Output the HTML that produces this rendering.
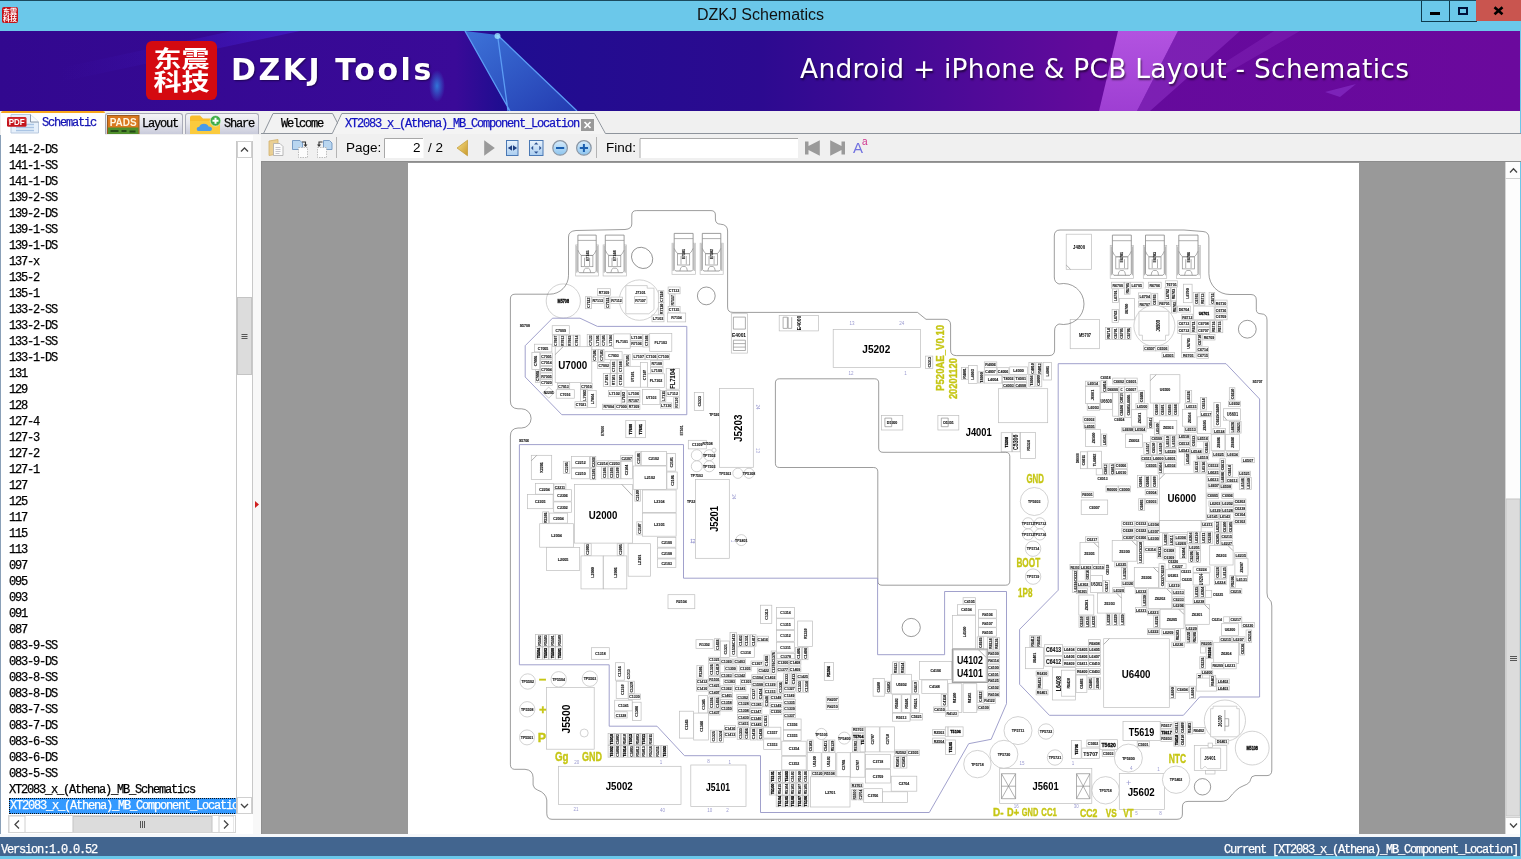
<!DOCTYPE html>
<html lang="en">
<head>
<meta charset="utf-8">
<title>DZKJ Schematics</title>
<style>
*{box-sizing:border-box;margin:0;padding:0}
html,body{width:1521px;height:859px;overflow:hidden;background:#6bc8ea;font-family:"Liberation Sans","Noto Sans CJK SC",sans-serif}
.abs{position:absolute}
#win{will-change:transform;position:absolute;left:0;top:0;width:1521px;height:859px;background:#6bc8ea;overflow:hidden}
#topline{left:0;top:0;width:1521px;height:1px;background:#1b4a5e}
#title{left:0;top:5px;width:1521px;text-align:center;font-size:16px;line-height:20px;color:#111}
#appicon{left:2px;top:7px;width:16px;height:16px;background:#c4141a;border-radius:2px;color:#fff;font-size:7px;line-height:7px;font-weight:bold;text-align:center;padding-top:1px;font-family:"Noto Sans CJK SC",sans-serif;overflow:hidden}
.wb{top:1px;height:21px;border:1px solid #0d3a4d;border-top:none}
#bmin{left:1421px;width:29px}
#bmax{left:1449px;width:28px}
#bclose{left:1476px;width:45px;background:#c9554f;border:none;height:21px}
#banner{left:0;top:31px;width:1520px;height:80px;background:linear-gradient(90deg,#31088f 0%,#330a92 28%,#3a0c96 40%,#4f0b9a 50%,#640a9c 62%,#6b099d 100%);overflow:hidden}
#logo{left:146px;top:9.500px;width:71px;height:59px;background:#d40a10;border-radius:6px;color:#fff;font-family:"Noto Sans CJK SC",sans-serif;font-weight:bold;font-size:28px;line-height:29px;text-align:center;overflow:hidden}
#logo span{display:block;transform:scale(1,.8);transform-origin:50% 0;margin-top:5px}
#brand{left:231px;top:18.500px;font-size:30px;font-weight:bold;color:#fff;line-height:40px;letter-spacing:2.550px;font-family:"DejaVu Sans","Liberation Sans",sans-serif;text-shadow:1px 1px 2px rgba(0,0,0,.45);white-space:nowrap}
#slogan{left:800px;top:19.500px;letter-spacing:.25px;font-size:26.500px;color:#fff;line-height:36px;font-family:"DejaVu Sans","Liberation Sans",sans-serif;text-shadow:1px 2px 2px rgba(0,0,0,.55);white-space:nowrap}
#body{left:0;top:111px;width:1520px;height:726px;background:#f0f0f0}
.song{font-family:"Liberation Mono","Noto Sans CJK SC",monospace;font-size:12px;letter-spacing:-1.2px;white-space:pre;-webkit-text-stroke:.25px currentColor}
/* left tabs */
.ltab{top:2px;height:21px;border:1px solid #a9abb8;border-bottom:none;border-radius:3px 3px 0 0;background:linear-gradient(#f4f4f6 0%,#e6e7ee 45%,#c9cbdb 100%)}
.ltab .song{position:absolute;top:4px;color:#000;line-height:14px}
#lt1{left:1px;top:0;width:104px;height:24px;background:#fff;border:none;border-top:2px solid #f7a51c;border-radius:2px 2px 0 0}
#lt2{left:105px;width:78px}
#lt3{left:185px;width:74px}
#leftpane{left:0;top:24px;width:261px;height:699px;background:#fff;border-left:1px solid #8aa0b8}
#list{left:3px;top:7px;width:233px;height:683px;overflow:hidden}
#list div{height:16px;line-height:16px;padding-left:5px;color:#000;font-family:"Liberation Mono","Noto Sans CJK SC",monospace;font-size:12px;letter-spacing:-1.2px;white-space:pre;-webkit-text-stroke:.25px currentColor}
#list div.sel{background:#3399ff;color:#fff;outline:1px dotted #111;outline-offset:-1px;margin-left:5px;padding-left:1px;width:228px;overflow:hidden}
#vsb{left:236px;top:30px;width:17px;height:673px;background:#fff;border-left:1px solid #c8c8c8;border-right:1px solid #c8c8c8}
#vsb .btn,#rsb .btn{position:absolute;left:0;width:15px;height:17px;background:#fff;border:1px solid #d0d0d0}
#hsb{left:8px;top:704px;width:228px;height:18px;overflow:hidden;background:#fff;border:1px solid #d4d4d4}
#split{left:253px;top:24px;width:9px;height:700px;background:#f8f8f8;border-right:1px solid #8e8e8e}
/* doc tabs */
#doctabs{left:261px;top:0;width:1260px;height:24px}
#toolbar{left:261px;top:23px;width:1260px;height:28px;background:#f0f0f0}
#toolbar .lbl{position:absolute;top:6px;font-size:13.5px;line-height:16px;color:#000}
#viewer{left:262px;top:51px;width:1243px;height:672px;background:#999}
#page{left:146px;top:1px;width:951px;height:671px;background:#fff}
#rsb{left:1505px;top:51px;width:15px;height:672px;background:#f0f0f0}
#status{left:0;top:837px;width:1520px;height:19px;background:#42658f;color:#fff}
#strip{left:0;top:834px;width:1520px;height:3px;background:#f6f8fb}
#status .song{position:absolute;top:6px;line-height:14px;color:#fff}
</style>
</head>
<body>
<div id="win">
<div id="topline" class="abs"></div>
<div id="appicon" class="abs">东震<br>科技</div>
<div id="title" class="abs">DZKJ Schematics</div>
<div id="bmin" class="abs wb"><svg width="27" height="20"><rect x="8" y="11" width="10" height="3" fill="#000"/></svg></div>
<div id="bmax" class="abs wb"><svg width="26" height="20"><rect x="9" y="7" width="8" height="6" fill="none" stroke="#00113a" stroke-width="2"/></svg></div>
<div id="bclose" class="abs"><svg width="45" height="21"><path d="M18.500 7.200 L26.500 14.200 M26.500 7.200 L18.500 14.200" stroke="#000" stroke-width="2.6"/></svg></div>

<div id="banner" class="abs">
<svg class="abs" style="left:0;top:0" width="1520" height="80" viewBox="0 31 1520 80">
<defs>
<linearGradient id="bg0" x1="0" y1="0" x2="1" y2="0"><stop offset="0" stop-color="#32088f"/><stop offset=".3" stop-color="#3a0a98"/><stop offset=".33" stop-color="#1f0d90"/><stop offset=".5" stop-color="#2c0a90"/><stop offset=".62" stop-color="#4a0a97"/><stop offset=".72" stop-color="#640a9c"/><stop offset="1" stop-color="#6b099d"/></linearGradient>
<linearGradient id="tri" x1="0" y1="0" x2="1" y2="1"><stop offset="0" stop-color="#3f7fe0"/><stop offset="1" stop-color="#2440b4"/></linearGradient>
<linearGradient id="pk" x1="0" y1="0" x2="0" y2="1"><stop offset="0" stop-color="#c060ec"/><stop offset="1" stop-color="#a848dc"/></linearGradient>
<linearGradient id="band" x1="0" y1="0" x2="1" y2="0"><stop offset="0" stop-color="#4420d8" stop-opacity="0"/><stop offset=".35" stop-color="#4420d8" stop-opacity=".12"/><stop offset="1" stop-color="#4a24e0" stop-opacity=".5"/></linearGradient>
<radialGradient id="glow"><stop offset="0" stop-color="#2f8fe8" stop-opacity=".8"/><stop offset="1" stop-color="#2f8fe8" stop-opacity="0"/></radialGradient>
</defs>
<rect x="0" y="31" width="1520" height="80" fill="url(#bg0)"/>
<polygon points="232,31 300,31 60,82 60,68" fill="url(#band)"/>
<polygon points="465,31 498,35 577,111 510,111" fill="url(#tri)" opacity=".9"/>
<path d="M465 31 L510 111 M497.500 35 L508 111 M497.500 35 L577 111" stroke="#5c9cf4" stroke-width="1.300" fill="none"/>
<circle cx="497.500" cy="36" r="3" fill="#9fe8ff" opacity=".8"/>
<ellipse cx="437" cy="86" rx="8" ry="16" fill="url(#glow)"/>
<polygon points="1118,31 1178,31 1137,111 1099,111" fill="url(#pk)" opacity=".85"/>
<polygon points="1178,31 1240,31 1150,111 1137,111" fill="#9a3cd0" opacity=".45"/>
<polygon points="1274,31 1300,31 1215,80 1205,75" fill="#8c30c4" opacity=".35"/>
<polygon points="1325,92 1356,84 1340,97" fill="#8a34cc" opacity=".6"/>
</svg>
<div id="logo" class="abs"><span>东震<br>科技</span></div>
<div id="brand" class="abs">DZKJ Tools</div>
<div id="slogan" class="abs">Android + iPhone &amp; PCB Layout - Schematics</div>
</div>

<div id="body" class="abs">
<!--LEFTTABS-->
<div id="lt1" class="abs ltab"><svg class="abs" style="left:5px;top:0" width="36" height="22" viewBox="6 113 36 22">
<path d="M11 114.500 H30.500 L38.500 122 V133 H11 Z" fill="#e6f0fb" stroke="#b9c9de" stroke-width="1"/>
<path d="M30.500 114.500 V122 H38.500" fill="#f7fbff" stroke="#6d7f96" stroke-width=".8"/>
<path d="M16 124.500 H34 M16 127.500 H34 M16 130.500 H34" stroke="#a9c4e4" stroke-width="1.500"/>
<rect x="7" y="117" width="19.500" height="9.800" rx="1.500" fill="#c4141c"/>
<rect x="7.500" y="117.400" width="18.500" height="4" rx="1.200" fill="#e0434a" opacity=".55"/>
<text x="16.700" y="125.200" font-family="Liberation Sans,sans-serif" font-weight="bold" font-size="8.200" fill="#fff" text-anchor="middle" textLength="16" lengthAdjust="spacingAndGlyphs">PDF</text>
</svg><span class="song" style="left:41px;top:3px;color:#1414b4">Schematic</span></div>
<div id="lt2" class="abs ltab"><svg class="abs" style="left:1px;top:1px" width="33" height="19" viewBox="106.500 114.500 33 19">
<rect x="107" y="115" width="31.500" height="19" fill="#d9781f" stroke="#9c5a1c" stroke-width="1"/>
<rect x="107.500" y="127" width="30.500" height="7" fill="#4f8f2c"/>
<path d="M110 130.500 H118 M121 130.500 H126 M129 131 H135" stroke="#254b16" stroke-width="2"/>
<text x="122.700" y="125.600" font-family="Liberation Sans,sans-serif" font-weight="bold" font-size="10.500" fill="#fff6e0" text-anchor="middle" textLength="27" lengthAdjust="spacingAndGlyphs">PADS</text>
</svg><span class="song" style="left:36px;top:3px">Layout</span></div>
<div id="lt3" class="abs ltab"><svg class="abs" style="left:3px;top:0" width="34" height="20" viewBox="189 114 34 20">
<path d="M190 117.500 Q190 115.500 192 115.500 H200 L203 118.500 H218 Q220 118.500 220 120.500 V134 H190 Z" fill="#f8bd2c"/>
<path d="M190 121 H220 V134 H190 Z" fill="#fbcb3e"/>
<path d="M198.500 131 Q196.500 131 196.700 128.800 Q197 126.800 199.300 126.800 Q200.300 123.800 204 123.800 Q207.500 123.800 208.500 126.500 Q212 126.500 212 129 Q212 131 209.800 131 Z" fill="#4a9be8"/>
<circle cx="215.500" cy="120.800" r="5.300" fill="#3fae49" stroke="#e9f7e9" stroke-width=".6"/>
<path d="M212.500 120.800 H218.500 M215.500 117.800 V123.800" stroke="#fff" stroke-width="2"/>
</svg><span class="song" style="left:38px;top:3px">Share</span></div>
<div id="leftpane" class="abs">
<div id="list" class="abs"><div>141-2-DS</div><div>141-1-SS</div><div>141-1-DS</div><div>139-2-SS</div><div>139-2-DS</div><div>139-1-SS</div><div>139-1-DS</div><div>137-x</div><div>135-2</div><div>135-1</div><div>133-2-SS</div><div>133-2-DS</div><div>133-1-SS</div><div>133-1-DS</div><div>131</div><div>129</div><div>128</div><div>127-4</div><div>127-3</div><div>127-2</div><div>127-1</div><div>127</div><div>125</div><div>117</div><div>115</div><div>113</div><div>097</div><div>095</div><div>093</div><div>091</div><div>087</div><div>083-9-SS</div><div>083-9-DS</div><div>083-8-SS</div><div>083-8-DS</div><div>083-7-SS</div><div>083-7-DS</div><div>083-6-SS</div><div>083-6-DS</div><div>083-5-SS</div><div>XT2083_x_(Athena)_MB_Schematics</div><div class="sel">XT2083_x_(Athena)_MB_Component_Location</div></div>
</div>
<div id="split" class="abs"><svg class="abs" style="left:1px;top:365px" width="6" height="10"><path d="M1 1 L5 4.5 L1 8 Z" fill="#d02020"/></svg></div>
<div id="vsb" class="abs">
<div class="btn" style="top:0"><svg width="13" height="15"><path d="M3 9.5 L6.5 6 L10 9.5" fill="none" stroke="#444" stroke-width="1.3"/></svg></div>
<div class="abs" style="left:0;top:156px;width:15px;height:78px;background:#dcdcdc;border:1px solid #c4c4c4"><svg width="13" height="76"><path d="M3.5 36.5h6M3.5 38.5h6M3.5 40.5h6" stroke="#555" stroke-width="1"/></svg></div>
<div class="btn" style="top:656px"><svg width="13" height="15"><path d="M3 6 L6.5 9.5 L10 6" fill="none" stroke="#444" stroke-width="1.3"/></svg></div>
</div>
<div id="hsb" class="abs">
<svg width="225" height="17"><rect x="0" y="0" width="16" height="17" fill="#fff" stroke="#d0d0d0"/><path d="M10 4.5 L6 8.5 L10 12.5" fill="none" stroke="#444" stroke-width="1.3"/><rect x="64" y="0.5" width="139" height="16" fill="#dcdcdc" stroke="#c4c4c4"/><path d="M131.5 5v7M133.5 5v7M135.5 5v7" stroke="#555"/><rect x="210" y="0" width="15" height="17" fill="#fff" stroke="#d0d0d0"/><path d="M215 4.5 L219 8.5 L215 12.5" fill="none" stroke="#444" stroke-width="1.3"/></svg>
</div>

<div id="doctabs" class="abs">
<svg width="1260" height="24" viewBox="0 0 1260 24">
<path d="M2.500 22.500 L12 2.500 L71.600 2.500 L82 22.500" fill="#f2f2f2" stroke="#8e949c" stroke-width="1"/>
<path d="M0 22.500 L71.300 22.500 L80.800 2.500 L333.400 2.500 L344.400 22.500 L1260 22.500" fill="none" stroke="#8e949c" stroke-width="1"/>
<path d="M71.800 23.500 L81.300 3 L333 3 L344 23.500 Z" fill="#f4f4f4"/>
<rect x="320" y="8" width="13" height="12" fill="#999"/>
<path d="M323.500 11 L329.500 17 M329.500 11 L323.500 17" stroke="#fff" stroke-width="1.7"/>
</svg>
<span class="song abs" style="left:20px;top:6px;line-height:14px;color:#000">Welcome</span>
<span class="song abs" style="left:84px;top:6px;line-height:14px;color:#1212c0">XT2083_x_(Athena)_MB_Component_Location</span>
</div>
<div id="toolbar" class="abs">
<svg class="abs" style="left:0;top:0" width="1260" height="28" viewBox="261 134 1260 28">
<defs>
<linearGradient id="gold" x1="0" y1="0" x2="1" y2="1"><stop offset="0" stop-color="#f7e08a"/><stop offset="1" stop-color="#c9992a"/></linearGradient>
<linearGradient id="lb" x1="0" y1="0" x2="0" y2="1"><stop offset="0" stop-color="#eaf3fc"/><stop offset="1" stop-color="#a9cdf0"/></linearGradient>
<linearGradient id="lb2" x1="0" y1="0" x2="0" y2="1"><stop offset="0" stop-color="#d8ecfb"/><stop offset="1" stop-color="#8cc4ee"/></linearGradient>
</defs>
<!-- copy icon -->
<path d="M269 141 L278 139.500 L278 154 L269 155.500 Z" fill="#e9cf94" stroke="#d2b06a" stroke-width=".8"/>
<path d="M273.500 143.500 H280 L283 146.500 V155.500 H273.500 Z" fill="#fbfbfb" stroke="#a9a9a9" stroke-width=".8"/>
<path d="M275.500 147.500h5M275.500 149.500h5M275.500 151.500h5M275.500 153.500h4" stroke="#b8b8c0" stroke-width=".8"/>
<!-- rotate cw -->
<path d="M292.500 140.500 H300 L302.500 143 V149.500 H292.500 Z" fill="#b9d6f0" stroke="#6f95c0" stroke-width=".9"/>
<path d="M298.500 147.500 H307.500 V157.500 H298.500 Z" fill="#fcfcfc" stroke="#b0b0b0" stroke-width=".8" stroke-dasharray="1.5 1"/>
<path d="M302 142 H305.500 V145" fill="none" stroke="#333" stroke-width="1.1"/><path d="M303.500 144.500 L305.500 147 L307.500 144.500 Z" fill="#333"/>
<!-- rotate ccw -->
<path d="M323.500 140.500 H329.500 L332 143 V149.500 H323.500 Z" fill="#b9d6f0" stroke="#6f95c0" stroke-width=".9"/>
<path d="M317.500 147.500 H326.500 V157.500 H317.500 Z" fill="#fcfcfc" stroke="#b0b0b0" stroke-width=".8" stroke-dasharray="1.500 1"/>
<path d="M322.500 142 H319 V145" fill="none" stroke="#333" stroke-width="1.1"/><path d="M317 144.500 L319 147 L321 144.500 Z" fill="#333"/>
<path d="M336.500 137 V158" stroke="#b4b4b4"/>
<!-- page input -->
<rect x="384" y="138" width="39.500" height="20" fill="#fff"/>
<path d="M384.500 158 V138.500 H423" fill="none" stroke="#a8a8a8"/>
<!-- arrows -->
<path d="M457 148 L467.500 140.200 V155.800 Z" fill="url(#gold)" stroke="#c09a34" stroke-width=".7"/>
<path d="M494.800 148 L484.200 140.200 V155.800 Z" fill="#9a9a9a"/>
<!-- fit width -->
<rect x="506.500" y="140.500" width="11.500" height="15" fill="url(#lb)" stroke="#4a78b4"/>
<path d="M507.900 148 L512 145.200 V150.800 Z M517.100 148 L513 145.200 V150.800 Z" fill="#1f3f80"/>
<!-- fit page -->
<rect x="529.500" y="140.500" width="13.500" height="15" fill="url(#lb)" stroke="#4a78b4"/>
<path d="M536.200 142.300 L538.400 144.500 H534 Z M536.200 153.700 L538.400 151.500 H534 Z M531 148 L533.200 145.800 V150.200 Z M541.500 148 L539.300 145.800 V150.200 Z" fill="#2c5292"/>
<!-- zoom out / in -->
<circle cx="560.100" cy="147.900" r="7.300" fill="url(#lb2)" stroke="#8a96a4" stroke-width="1.200"/>
<path d="M556 148 H564.200" stroke="#1a5fb0" stroke-width="2"/>
<circle cx="583.900" cy="147.900" r="7.300" fill="url(#lb2)" stroke="#8a96a4" stroke-width="1.200"/>
<path d="M579.800 148 H588 M583.900 143.900 V152.100" stroke="#1a5fb0" stroke-width="2"/>
<path d="M596.500 137 V158" stroke="#b4b4b4"/>
<!-- find input -->
<rect x="639.500" y="138" width="158.500" height="20" fill="#fff"/>
<path d="M640 158 V138.500 H798" fill="none" stroke="#a8a8a8"/>
<!-- find prev/next -->
<path d="M805 141.500 H808.500 V146 L819.800 140.200 V155.800 L808.500 150 V154.500 H805 Z" fill="#9a9a9a"/>
<path d="M845 141.500 H841.500 V146 L830.200 140.200 V155.800 L841.500 150 V154.500 H845 Z" fill="#9a9a9a"/>
<rect x="261" y="161" width="1260" height="1" fill="#8c8c8c"/>
</svg>
<span class="lbl" style="left:85px">Page:</span>
<span class="lbl" style="left:152px">2</span>
<span class="lbl" style="left:167px">/ 2</span>
<span class="lbl" style="left:345px">Find:</span>
<span class="abs" style="left:592px;top:6px;font-size:15px;line-height:16px;color:#7272e0">A</span><span class="abs" style="left:601px;top:2px;font-size:10px;line-height:12px;color:#d0308c">a</span>

</div>
<div id="viewer" class="abs">
<div id="page" class="abs">
<svg class="abs" style="left:0;top:0" width="951" height="671" viewBox="408 163 951 671">
<style>
.c{fill:#fff;stroke:#bebebe;stroke-width:.7}
.d{fill:none;stroke:#8e8e8e;stroke-width:.7}
.d2{fill:#fff;stroke:#858585;stroke-width:.8}
.o{fill:none;stroke:#555;stroke-width:.6}
.bd{fill:none;stroke:#5a5a5a;stroke-width:.6}
.sh{fill:none;stroke:#9696c6;stroke-width:.9}
.dd{fill:none;stroke:#a2a2a2;stroke-width:1.2}
.l{font-family:"Liberation Sans",sans-serif;fill:#111;text-anchor:middle;font-weight:bold;stroke:#222;stroke-width:.12}
.b{font-weight:bold;fill:#000;stroke:#000;stroke-width:.3}
.B{font-family:"Liberation Sans",sans-serif;font-weight:bold;fill:#000;text-anchor:middle}
.Y{font-family:"Liberation Sans",sans-serif;font-weight:bold;fill:#c6c614;stroke:#c6c614;stroke-width:.35;text-anchor:middle}
.n{font-family:"Liberation Sans",sans-serif;fill:#9a9ad0;text-anchor:middle}
</style>
<rect class="c" x="575.7" y="244.9" width="22.9" height="31.1"/>
<path class="d" d="M576.8 245.6 V272.7 M597.3 245.6 V272.7"/>
<path class="d2" d="M577.9 235.1 H596.2 V271.2 L594.7 272.7 H579.4 L577.9 271.2 Z"/>
<path class="d" d="M577.9 240.4 H596.2"/>
<path class="d" d="M577.9 250.2 Q579.7 254.7 581.5 255.4 H592.5 Q594.4 254.7 596.2 250.2"/>
<rect class="d" x="581.2" y="255.4" width="11.7" height="11.3"/>
<path class="d" d="M584.5 257.7 V266 M589.6 257.7 V266"/>
<path class="d" d="M583.4 272.7 Q583.7 268.6 585.6 268.2 H588.5 Q590.3 268.6 590.7 272.7"/>
<text class="l" x="587" y="257.4" font-size="4.4" transform="rotate(-90 587 255.8)" textLength="10.5" lengthAdjust="spacingAndGlyphs">E7103</text>
<rect class="c" x="603.1" y="244.9" width="23.4" height="31.1"/>
<path class="d" d="M604.2 245.6 V272.7 M625.2 245.6 V272.7"/>
<path class="d2" d="M605.3 235.1 H624.1 V271.2 L622.6 272.7 H606.8 L605.3 271.2 Z"/>
<path class="d" d="M605.3 240.4 H624.1"/>
<path class="d" d="M605.3 250.2 Q607.1 254.7 609 255.4 H620.3 Q622.2 254.7 624.1 250.2"/>
<rect class="d" x="608.7" y="255.4" width="12.1" height="11.3"/>
<path class="d" d="M612 257.7 V266 M617.3 257.7 V266"/>
<path class="d" d="M610.9 272.7 Q611.3 268.6 613.2 268.2 H616.2 Q618.1 268.6 618.4 272.7"/>
<text class="l" x="614.7" y="257.4" font-size="4.4" transform="rotate(-90 614.7 255.8)" textLength="10.5" lengthAdjust="spacingAndGlyphs">E7104</text>
<rect class="c" x="672" y="243.2" width="23.4" height="31.1"/>
<path class="d" d="M673.1 243.9 V271 M694.2 243.9 V271"/>
<path class="d2" d="M674.2 233.4 H693.1 V269.5 L691.6 271 H675.7 L674.2 269.5 Z"/>
<path class="d" d="M674.2 238.6 H693.1"/>
<path class="d" d="M674.2 248.4 Q676.1 253 678 253.7 H689.3 Q691.2 253 693.1 248.4"/>
<rect class="d" x="677.6" y="253.7" width="12.1" height="11.3"/>
<path class="d" d="M681 256 V264.3 M686.3 256 V264.3"/>
<path class="d" d="M679.9 271 Q680.3 266.9 682.2 266.5 H685.2 Q687 266.9 687.4 271"/>
<text class="l" x="683.7" y="255.7" font-size="4.4" transform="rotate(-90 683.7 254.1)" textLength="10.5" lengthAdjust="spacingAndGlyphs">E7101</text>
<rect class="c" x="700.1" y="243.2" width="23.1" height="31.1"/>
<path class="d" d="M701.2 243.9 V271 M721.9 243.9 V271"/>
<path class="d2" d="M702.3 233.4 H720.8 V269.5 L719.3 271 H703.8 L702.3 269.5 Z"/>
<path class="d" d="M702.3 238.6 H720.8"/>
<path class="d" d="M702.3 248.4 Q704.2 253 706 253.7 H717.1 Q719 253 720.8 248.4"/>
<rect class="d" x="705.6" y="253.7" width="11.8" height="11.3"/>
<path class="d" d="M709 256 V264.3 M714.1 256 V264.3"/>
<path class="d" d="M707.9 271 Q708.2 266.9 710.1 266.5 H713 Q714.9 266.9 715.3 271"/>
<text class="l" x="711.6" y="255.7" font-size="4.4" transform="rotate(-90 711.6 254.1)" textLength="10.5" lengthAdjust="spacingAndGlyphs">E7102</text>
<ellipse class="o" cx="642.1" cy="257.9" rx="11.3" ry="9.9" transform="rotate(45 642.1 257.9)"/>
<circle class="o" cx="706.3" cy="295.9" r="8.9"/>
<circle class="c" cx="563.3" cy="301" r="17.1"/>
<text class="l b" x="563.3" y="302.7" font-size="4.8" textLength="11.5" lengthAdjust="spacingAndGlyphs">M5708</text>
<circle class="c" cx="639.5" cy="300.1" r="20.2"/>
<path class="c" d="M625.8 285.6 L647.2 285.6 L647.2 288.2 L654 288.2 L654 309.5 L648.9 313.8 L625.8 313.8 L625.8 285.6"/>
<text class="l" x="640.4" y="294" font-size="4.4" textLength="10.5" lengthAdjust="spacingAndGlyphs">J7101</text>
<rect class="c" x="634.4" y="296.7" width="12.5" height="6.8"/>
<text class="l" x="640.6" y="301.7" font-size="4.4" textLength="10.5" lengthAdjust="spacingAndGlyphs">R7107</text>
<rect class="c" x="597.6" y="288.7" width="12.8" height="6.8"/>
<text class="l" x="604" y="293.7" font-size="4.4" textLength="10.5" lengthAdjust="spacingAndGlyphs">R7109</text>
<rect class="c" x="585.6" y="296.7" width="6" height="12"/>
<text class="l" x="588.6" y="304.3" font-size="4.4" transform="rotate(-90 588.6 302.7)" textLength="10.5" lengthAdjust="spacingAndGlyphs">C7112</text>
<rect class="c" x="591.9" y="297.1" width="11.6" height="6.5"/>
<text class="l" x="597.7" y="301.9" font-size="4.4" textLength="10.5" lengthAdjust="spacingAndGlyphs">R7113</text>
<rect class="c" x="604.8" y="296.7" width="5.1" height="12"/>
<text class="l" x="607.3" y="304.3" font-size="4.4" transform="rotate(-90 607.3 302.7)" textLength="10.5" lengthAdjust="spacingAndGlyphs">C7111</text>
<rect class="c" x="610.9" y="297.1" width="11.5" height="6.5"/>
<text class="l" x="616.6" y="301.9" font-size="4.4" textLength="10.5" lengthAdjust="spacingAndGlyphs">R7112</text>
<rect class="c" x="658.3" y="290.7" width="5.6" height="12"/>
<text class="l" x="661.2" y="298.3" font-size="4.4" transform="rotate(-90 661.2 296.7)" textLength="10.5" lengthAdjust="spacingAndGlyphs">C7110</text>
<rect class="c" x="658.3" y="302.7" width="5.6" height="12.3"/>
<text class="l" x="661.2" y="310.4" font-size="4.4" transform="rotate(-90 661.2 308.9)" textLength="10.5" lengthAdjust="spacingAndGlyphs">R7110</text>
<rect class="c" x="668.1" y="287" width="12" height="6.8"/>
<text class="l" x="674.1" y="292" font-size="4.4" textLength="10.5" lengthAdjust="spacingAndGlyphs">C7113</text>
<rect class="c" x="669.5" y="294.1" width="5.5" height="12.3"/>
<text class="l" x="672.2" y="301.9" font-size="4.4" transform="rotate(-90 672.2 300.3)" textLength="10.5" lengthAdjust="spacingAndGlyphs">R7117</text>
<rect class="c" x="668.1" y="306.5" width="12" height="6.5"/>
<text class="l" x="674.1" y="311.3" font-size="4.4" textLength="10.5" lengthAdjust="spacingAndGlyphs">C7115</text>
<rect class="c" x="652" y="315" width="12" height="6.8"/>
<text class="l" x="658" y="320" font-size="4.4" textLength="10.5" lengthAdjust="spacingAndGlyphs">L7103</text>
<rect class="c" x="667.4" y="313" width="18.3" height="8.9"/>
<text class="l" x="676.6" y="319" font-size="4.4" textLength="10.5" lengthAdjust="spacingAndGlyphs">R7104</text>
<text class="l" x="524.8" y="327" font-size="4.3" textLength="10.1" lengthAdjust="spacingAndGlyphs">S5708</text>
<rect class="c" x="779.2" y="315.5" width="39.4" height="15.4"/>
<path class="d" d="M783.1 317.2 L783.1 328.4 L787.4 328.4 L787.4 317.2 L783.1 317.2"/>
<path class="d" d="M788.2 317.2 L788.2 328.4 L791.7 328.4 L791.7 317.2"/>
<text class="B" x="798.5" y="325.1" font-size="6.1" transform="rotate(-90 798.5 322.9)" textLength="14.5" lengthAdjust="spacingAndGlyphs">E4000</text>
<text class="n" x="851.9" y="324.5" font-size="4.5">13</text>
<text class="n" x="901.7" y="324.9" font-size="4.5">24</text>
<rect class="c" x="1066.2" y="234.2" width="25.3" height="35.1"/>
<path class="d" d="M1066.2 265 L1070.5 269.3"/>
<text class="B" x="1079.1" y="248.9" font-size="5.1" textLength="12.1" lengthAdjust="spacingAndGlyphs">J4800</text>
<rect class="c" x="1110.2" y="245.5" width="23.4" height="33"/>
<path class="d" d="M1111.3 246.4 V275.3 M1132.4 246.4 V275.3"/>
<path class="d2" d="M1112.4 235.1 H1131.3 V273.8 L1129.8 275.3 H1113.9 L1112.4 273.8 Z"/>
<path class="d" d="M1112.4 240.7 H1131.3"/>
<path class="d" d="M1112.4 251.2 Q1114.3 256 1116.2 256.8 H1127.5 Q1129.4 256 1131.3 251.2"/>
<rect class="d" x="1115.8" y="256.8" width="12.1" height="12.1"/>
<path class="d" d="M1119.2 259.2 V268.1 M1124.5 259.2 V268.1"/>
<path class="d" d="M1118.1 275.3 Q1118.5 270.9 1120.3 270.5 H1123.3 Q1125.2 270.9 1125.6 275.3"/>
<text class="l" x="1121.8" y="258.8" font-size="4.4" transform="rotate(-90 1121.8 257.2)" textLength="10.5" lengthAdjust="spacingAndGlyphs">E6701</text>
<rect class="c" x="1143.3" y="245.5" width="23.4" height="33"/>
<path class="d" d="M1144.4 246.4 V275.3 M1165.4 246.4 V275.3"/>
<path class="d2" d="M1145.5 235.1 H1164.3 V273.8 L1162.8 275.3 H1147 L1145.5 273.8 Z"/>
<path class="d" d="M1145.5 240.7 H1164.3"/>
<path class="d" d="M1145.5 251.2 Q1147.3 256 1149.2 256.8 H1160.5 Q1162.4 256 1164.3 251.2"/>
<rect class="d" x="1148.9" y="256.8" width="12.1" height="12.1"/>
<path class="d" d="M1152.2 259.2 V268.1 M1157.5 259.2 V268.1"/>
<path class="d" d="M1151.1 275.3 Q1151.5 270.9 1153.4 270.5 H1156.4 Q1158.3 270.9 1158.6 275.3"/>
<text class="l" x="1154.9" y="258.8" font-size="4.4" transform="rotate(-90 1154.9 257.2)" textLength="10.5" lengthAdjust="spacingAndGlyphs">E6703</text>
<rect class="c" x="1176.6" y="245.5" width="23.8" height="33"/>
<path class="d" d="M1177.7 246.4 V275.3 M1199.1 246.4 V275.3"/>
<path class="d2" d="M1178.8 235.1 H1198 V273.8 L1196.5 275.3 H1180.3 L1178.8 273.8 Z"/>
<path class="d" d="M1178.8 240.7 H1198"/>
<path class="d" d="M1178.8 251.2 Q1180.8 256 1182.7 256.8 H1194.2 Q1196.1 256 1198 251.2"/>
<rect class="d" x="1182.3" y="256.8" width="12.3" height="12.1"/>
<path class="d" d="M1185.7 259.2 V268.1 M1191.1 259.2 V268.1"/>
<path class="d" d="M1184.6 275.3 Q1185 270.9 1186.9 270.5 H1190 Q1191.9 270.9 1192.3 275.3"/>
<text class="l" x="1188.4" y="258.8" font-size="4.4" transform="rotate(-90 1188.4 257.2)" textLength="10.5" lengthAdjust="spacingAndGlyphs">E6706</text>
<rect class="c" x="1111.6" y="282.2" width="12.3" height="6"/>
<text class="l" x="1117.7" y="286.7" font-size="4.4" textLength="10.5" lengthAdjust="spacingAndGlyphs">R6700</text>
<rect class="c" x="1124.4" y="282.2" width="5.6" height="12"/>
<text class="l" x="1127.2" y="289.7" font-size="4.4" transform="rotate(-90 1127.2 288.2)" textLength="10.5" lengthAdjust="spacingAndGlyphs">R6705</text>
<rect class="c" x="1130.4" y="282.2" width="12.8" height="6"/>
<text class="l" x="1136.8" y="286.7" font-size="4.4" textLength="10.5" lengthAdjust="spacingAndGlyphs">L6705</text>
<rect class="c" x="1148.4" y="282.2" width="12.8" height="6"/>
<text class="l" x="1154.8" y="286.7" font-size="4.4" textLength="10.5" lengthAdjust="spacingAndGlyphs">R6706</text>
<rect class="c" x="1165.5" y="280.8" width="12" height="6.2"/>
<text class="l" x="1171.5" y="285.5" font-size="4.4" textLength="10.5" lengthAdjust="spacingAndGlyphs">T6701</text>
<rect class="c" x="1112.4" y="289" width="6" height="13.4"/>
<text class="l" x="1115.4" y="297.3" font-size="4.4" transform="rotate(-90 1115.4 295.7)" textLength="10.5" lengthAdjust="spacingAndGlyphs">L6701</text>
<rect class="c" x="1138.4" y="292.9" width="12.5" height="6"/>
<text class="l" x="1144.7" y="297.5" font-size="4.4" textLength="10.5" lengthAdjust="spacingAndGlyphs">L6704</text>
<rect class="c" x="1151.8" y="293.3" width="6" height="12.8"/>
<text class="l" x="1154.8" y="301.3" font-size="4.4" transform="rotate(-90 1154.8 299.7)" textLength="10.5" lengthAdjust="spacingAndGlyphs">C6703</text>
<rect class="c" x="1165.1" y="287.3" width="5.5" height="13.7"/>
<text class="l" x="1167.9" y="295.7" font-size="4.4" transform="rotate(-90 1167.9 294.1)" textLength="10.5" lengthAdjust="spacingAndGlyphs">L6702</text>
<rect class="c" x="1171" y="287.3" width="5.6" height="13.7"/>
<text class="l" x="1173.8" y="295.7" font-size="4.4" transform="rotate(-90 1173.8 294.1)" textLength="10.5" lengthAdjust="spacingAndGlyphs">R6703</text>
<rect class="c" x="1138.4" y="301" width="12.5" height="6"/>
<text class="l" x="1144.7" y="305.6" font-size="4.4" textLength="10.5" lengthAdjust="spacingAndGlyphs">R6707</text>
<rect class="c" x="1158.3" y="301" width="12.3" height="5.5"/>
<text class="l" x="1164.5" y="305.3" font-size="4.4" textLength="10.5" lengthAdjust="spacingAndGlyphs">R6701</text>
<rect class="c" x="1171.5" y="301" width="5.1" height="12"/>
<text class="l" x="1174" y="308.6" font-size="4.4" transform="rotate(-90 1174 307)" textLength="10.5" lengthAdjust="spacingAndGlyphs">R6702</text>
<rect class="c" x="1183.5" y="284.2" width="8.6" height="18.5"/>
<text class="l" x="1187.7" y="295" font-size="4.4" transform="rotate(-90 1187.7 293.5)" textLength="10.5" lengthAdjust="spacingAndGlyphs">L6700</text>
<rect class="c" x="1193.2" y="292.4" width="5.6" height="12.8"/>
<text class="l" x="1196" y="300.4" font-size="4.4" transform="rotate(-90 1196 298.8)" textLength="10.5" lengthAdjust="spacingAndGlyphs">C6702</text>
<rect class="c" x="1199.4" y="292.4" width="5.5" height="12.8"/>
<text class="l" x="1202.1" y="300.4" font-size="4.4" transform="rotate(-90 1202.1 298.8)" textLength="10.5" lengthAdjust="spacingAndGlyphs">R6713</text>
<rect class="c" x="1209.1" y="292.4" width="5.6" height="12.3"/>
<text class="l" x="1212" y="300.2" font-size="4.4" transform="rotate(-90 1212 298.6)" textLength="10.5" lengthAdjust="spacingAndGlyphs">C6711</text>
<rect class="c" x="1215.1" y="300.1" width="12" height="6"/>
<text class="l" x="1221.1" y="304.7" font-size="4.4" textLength="10.5" lengthAdjust="spacingAndGlyphs">R6710</text>
<rect class="c" x="1215.1" y="307" width="12" height="6"/>
<text class="l" x="1221.1" y="311.6" font-size="4.4" textLength="10.5" lengthAdjust="spacingAndGlyphs">C6716</text>
<rect class="c" x="1215.1" y="313.8" width="12" height="6"/>
<text class="l" x="1221.1" y="318.4" font-size="4.4" textLength="10.5" lengthAdjust="spacingAndGlyphs">C6709</text>
<rect class="c" x="1193.7" y="306.1" width="20.5" height="13.7"/>
<text class="l b" x="1204" y="314.6" font-size="4.4" textLength="10.5" lengthAdjust="spacingAndGlyphs">U6701</text>
<rect class="c" x="1177.5" y="306.1" width="12.8" height="6"/>
<text class="l" x="1183.9" y="310.7" font-size="4.4" textLength="10.5" lengthAdjust="spacingAndGlyphs">D6704</text>
<rect class="c" x="1181.8" y="314.2" width="11.1" height="5.6"/>
<text class="l" x="1187.3" y="318.6" font-size="4.4" textLength="10.3" lengthAdjust="spacingAndGlyphs">R6712</text>
<rect class="c" x="1177.8" y="320.7" width="12.2" height="6"/>
<text class="l" x="1183.9" y="325.3" font-size="4.4" textLength="10.5" lengthAdjust="spacingAndGlyphs">C6713</text>
<rect class="c" x="1177.8" y="327.5" width="12.2" height="6"/>
<text class="l" x="1183.9" y="332.1" font-size="4.4" textLength="10.5" lengthAdjust="spacingAndGlyphs">C6712</text>
<rect class="c" x="1190.7" y="320.7" width="5.6" height="12"/>
<text class="l" x="1193.5" y="328.2" font-size="4.4" transform="rotate(-90 1193.5 326.7)" textLength="10.5" lengthAdjust="spacingAndGlyphs">R6711</text>
<rect class="c" x="1197.2" y="320.7" width="12.5" height="6"/>
<text class="l" x="1203.4" y="325.3" font-size="4.4" textLength="10.5" lengthAdjust="spacingAndGlyphs">C6708</text>
<rect class="c" x="1197.2" y="327.5" width="12.5" height="6"/>
<text class="l" x="1203.4" y="332.1" font-size="4.4" textLength="10.5" lengthAdjust="spacingAndGlyphs">C6707</text>
<rect class="c" x="1210.3" y="320.7" width="6.2" height="12"/>
<text class="l" x="1213.4" y="328.2" font-size="4.4" transform="rotate(-90 1213.4 326.7)" textLength="10.5" lengthAdjust="spacingAndGlyphs">R6716</text>
<rect class="c" x="1216.8" y="320.7" width="6" height="12"/>
<text class="l" x="1219.8" y="328.2" font-size="4.4" transform="rotate(-90 1219.8 326.7)" textLength="10.5" lengthAdjust="spacingAndGlyphs">R6715</text>
<rect class="c" x="1119.3" y="298.4" width="15.1" height="21.4"/>
<text class="l" x="1126.8" y="310.7" font-size="4.4" transform="rotate(-90 1126.8 309.1)" textLength="10.5" lengthAdjust="spacingAndGlyphs">U6700</text>
<rect class="c" x="1112.1" y="309.5" width="6.3" height="12.8"/>
<text class="l" x="1115.3" y="317.5" font-size="4.4" transform="rotate(-90 1115.3 316)" textLength="10.5" lengthAdjust="spacingAndGlyphs">L6703</text>
<rect class="c" x="1105.6" y="327.5" width="6" height="12"/>
<text class="l" x="1108.6" y="335.1" font-size="4.4" transform="rotate(-90 1108.6 333.5)" textLength="10.5" lengthAdjust="spacingAndGlyphs">R6714</text>
<rect class="c" x="1112.4" y="327.5" width="6" height="12"/>
<text class="l" x="1115.4" y="335.1" font-size="4.4" transform="rotate(-90 1115.4 333.5)" textLength="10.5" lengthAdjust="spacingAndGlyphs">C6701</text>
<rect class="c" x="1118.9" y="327.5" width="5.8" height="12"/>
<text class="l" x="1121.8" y="335.1" font-size="4.4" transform="rotate(-90 1121.8 333.5)" textLength="10.5" lengthAdjust="spacingAndGlyphs">C6705</text>
<rect class="c" x="1125.3" y="327.5" width="5.6" height="12"/>
<text class="l" x="1128.1" y="335.1" font-size="4.4" transform="rotate(-90 1128.1 333.5)" textLength="10.5" lengthAdjust="spacingAndGlyphs">C6706</text>
<circle class="c" cx="1154.4" cy="325.8" r="20.5"/>
<path class="c" d="M1139 311.3 L1168.9 311.3 L1168.9 335.2 L1165.5 335.2 L1165.5 340.4 L1142.4 340.4 L1142.4 335.2 L1139 335.2 L1139 311.3"/>
<text class="l" x="1158.6" y="327.5" font-size="4.8" transform="rotate(-90 1158.6 325.8)" textLength="11.5" lengthAdjust="spacingAndGlyphs">J6500</text>
<circle class="o" cx="1247.3" cy="329.2" r="8.9"/>
<text class="l" x="524" y="441.5" font-size="4.3" textLength="10.1" lengthAdjust="spacingAndGlyphs">S5706</text>
<text class="l" x="602.7" y="432.4" font-size="4.3" transform="rotate(-90 602.7 430.9)" textLength="10.1" lengthAdjust="spacingAndGlyphs">E7600</text>
<text class="l" x="681.1" y="431.9" font-size="4.3" transform="rotate(-90 681.1 430.4)" textLength="10.1" lengthAdjust="spacingAndGlyphs">E7501</text>
<rect class="c" x="625.8" y="420.6" width="9.4" height="17.1"/>
<text class="l b" x="630.5" y="430.7" font-size="4.4" transform="rotate(-90 630.5 429.2)" textLength="10.5" lengthAdjust="spacingAndGlyphs">T7600</text>
<rect class="c" x="635.7" y="420.6" width="9.8" height="17.1"/>
<text class="l b" x="640.6" y="430.7" font-size="4.4" transform="rotate(-90 640.6 429.2)" textLength="10.5" lengthAdjust="spacingAndGlyphs">T7601</text>
<rect class="c" x="694.3" y="392.4" width="9.4" height="18"/>
<text class="l" x="699" y="402.9" font-size="4.4" transform="rotate(-90 699 401.3)" textLength="10.5" lengthAdjust="spacingAndGlyphs">C5323</text>
<text class="l" x="715.3" y="415.6" font-size="4.3" textLength="12.1" lengthAdjust="spacingAndGlyphs">TP5263</text>
<rect class="c" x="719.6" y="388.6" width="33.7" height="78.7"/>
<text class="B" x="737.9" y="432.1" font-size="10.5" transform="rotate(-90 737.9 428.3)" textLength="27.4" lengthAdjust="spacingAndGlyphs">J5203</text>
<text class="n" x="757.6" y="408.5" font-size="4.5" transform="rotate(90 757.6 406.9)">24</text>
<text class="n" x="757.6" y="452.2" font-size="4.5" transform="rotate(90 757.6 450.6)">13</text>
<rect class="c" x="688.3" y="440.3" width="18" height="8.6"/>
<text class="l" x="697.3" y="446.1" font-size="4.4" textLength="10.5" lengthAdjust="spacingAndGlyphs">C1309</text>
<text class="l" x="707.5" y="445.2" font-size="4.3" textLength="10.1" lengthAdjust="spacingAndGlyphs">R7508</text>
<circle class="c" cx="696.8" cy="455.2" r="5.5"/>
<circle class="c" cx="709.2" cy="455.2" r="5.5"/>
<text class="l" x="709.2" y="456.8" font-size="4.4" textLength="12.5" lengthAdjust="spacingAndGlyphs">TP7502</text>
<circle class="c" cx="696.8" cy="466.3" r="5.5"/>
<circle class="c" cx="709.2" cy="466.3" r="5.5"/>
<text class="l" x="709.2" y="467.9" font-size="4.4" textLength="12.5" lengthAdjust="spacingAndGlyphs">TP7503</text>
<circle class="c" cx="714" cy="450.2" r="2.1"/>
<text class="l" x="696.8" y="476.9" font-size="4.3" textLength="12.1" lengthAdjust="spacingAndGlyphs">TP7503</text>
<text class="l" x="725.1" y="475.2" font-size="4.3" textLength="12.1" lengthAdjust="spacingAndGlyphs">TP5103</text>
<circle class="c" cx="737.9" cy="473.3" r="5.1"/>
<circle class="c" cx="749" cy="473.3" r="5.1"/>
<text class="l" x="749" y="474.9" font-size="4.4" textLength="12.5" lengthAdjust="spacingAndGlyphs">TP5108</text>
<rect class="c" x="531.3" y="455.3" width="20.4" height="24.3"/>
<text class="l" x="541.5" y="469.1" font-size="4.4" transform="rotate(-90 541.5 467.5)" textLength="10.5" lengthAdjust="spacingAndGlyphs">X2201</text>
<path class="d" d="M531.3 460.8 L536.8 455.3"/>
<rect class="c" x="563.3" y="461.3" width="6.5" height="12.3"/>
<text class="l" x="566.6" y="469.1" font-size="4.4" transform="rotate(-90 566.6 467.5)" textLength="10.5" lengthAdjust="spacingAndGlyphs">C2205</text>
<rect class="c" x="571.5" y="456.5" width="18" height="11.1"/>
<text class="l" x="580.5" y="463.7" font-size="4.4" textLength="10.5" lengthAdjust="spacingAndGlyphs">C2212</text>
<rect class="c" x="571.5" y="468.2" width="18" height="10.6"/>
<text class="l" x="580.5" y="475.1" font-size="4.4" textLength="10.5" lengthAdjust="spacingAndGlyphs">C2210</text>
<rect class="c" x="590.2" y="456.5" width="5.6" height="11.1"/>
<text class="l" x="593" y="463.7" font-size="4.4" transform="rotate(-90 593 462.1)" textLength="10.3" lengthAdjust="spacingAndGlyphs">C2200</text>
<rect class="c" x="590.2" y="468.2" width="5.6" height="11.5"/>
<text class="l" x="593" y="475.5" font-size="4.4" transform="rotate(-90 593 473.9)" textLength="10.5" lengthAdjust="spacingAndGlyphs">C2201</text>
<rect class="c" x="596.7" y="460.8" width="11.5" height="5.5"/>
<text class="l" x="602.4" y="465.1" font-size="4.4" textLength="10.5" lengthAdjust="spacingAndGlyphs">C2214</text>
<rect class="c" x="608.7" y="460.8" width="11.6" height="5.5"/>
<text class="l" x="614.5" y="465.1" font-size="4.4" textLength="10.5" lengthAdjust="spacingAndGlyphs">C2203</text>
<rect class="c" x="601.3" y="466.8" width="6.2" height="12"/>
<text class="l" x="604.4" y="474.4" font-size="4.4" transform="rotate(-90 604.4 472.8)" textLength="10.5" lengthAdjust="spacingAndGlyphs">C2105</text>
<rect class="c" x="608.2" y="466.8" width="5.6" height="12"/>
<text class="l" x="611" y="474.4" font-size="4.4" transform="rotate(-90 611 472.8)" textLength="10.5" lengthAdjust="spacingAndGlyphs">C2103</text>
<rect class="c" x="614.3" y="466.8" width="6" height="12"/>
<text class="l" x="617.3" y="474.4" font-size="4.4" transform="rotate(-90 617.3 472.8)" textLength="10.5" lengthAdjust="spacingAndGlyphs">C2109</text>
<rect class="c" x="620.7" y="455.3" width="12" height="5.1"/>
<text class="l" x="626.7" y="459.5" font-size="4.4" textLength="10.5" lengthAdjust="spacingAndGlyphs">C2307</text>
<rect class="c" x="635.2" y="451.8" width="5.6" height="13.4"/>
<text class="l" x="638" y="460" font-size="4.4" transform="rotate(-90 638 458.4)" textLength="10.5" lengthAdjust="spacingAndGlyphs">C2108</text>
<rect class="c" x="621" y="461.3" width="11.6" height="17.5"/>
<text class="l" x="626.8" y="471.7" font-size="4.4" transform="rotate(-90 626.8 470.1)" textLength="10.5" lengthAdjust="spacingAndGlyphs">C2104</text>
<rect class="c" x="641.2" y="451.4" width="25.2" height="14"/>
<text class="l" x="653.8" y="460" font-size="4.4" textLength="10.5" lengthAdjust="spacingAndGlyphs">C2102</text>
<rect class="c" x="666.9" y="453.5" width="8.6" height="17.6"/>
<text class="l" x="671.2" y="463.9" font-size="4.4" transform="rotate(-90 671.2 462.3)" textLength="10.5" lengthAdjust="spacingAndGlyphs">C2101</text>
<rect class="c" x="633.2" y="466" width="33.2" height="23.4"/>
<text class="l" x="649.8" y="479.3" font-size="4.4" textLength="10.5" lengthAdjust="spacingAndGlyphs">L2102</text>
<rect class="c" x="666.9" y="472" width="10.3" height="17.1"/>
<text class="l" x="672" y="482.1" font-size="4.4" transform="rotate(-90 672 480.5)" textLength="10.5" lengthAdjust="spacingAndGlyphs">C2106</text>
<rect class="c" x="535.6" y="483.6" width="17.8" height="10.6"/>
<text class="l" x="544.5" y="490.5" font-size="4.4" textLength="10.5" lengthAdjust="spacingAndGlyphs">C2204</text>
<rect class="c" x="553.9" y="483.9" width="12" height="6"/>
<text class="l" x="559.9" y="488.5" font-size="4.4" textLength="10.5" lengthAdjust="spacingAndGlyphs">C2211</text>
<path class="sh" d="M525.2 345.7 L552.5 318.2 L580 318.2 L597.4 326.4 L686.8 326.4 L686.8 414.7 L561.8 414.7 L525.2 377 L525.2 345.7"/>
<rect class="c" x="552.2" y="325.7" width="17.1" height="8.7"/>
<text class="l" x="560.8" y="331.7" font-size="4.4" textLength="10.5" lengthAdjust="spacingAndGlyphs">C7009</text>
<rect class="c" x="552.5" y="335.1" width="6.5" height="11.2"/>
<text class="l" x="555.7" y="342.3" font-size="4.4" transform="rotate(-90 555.7 340.7)" textLength="10.4" lengthAdjust="spacingAndGlyphs">C7007</text>
<rect class="c" x="559.3" y="335.1" width="6.9" height="11.2"/>
<text class="l" x="562.8" y="342.3" font-size="4.4" transform="rotate(-90 562.8 340.7)" textLength="10.4" lengthAdjust="spacingAndGlyphs">R7012</text>
<rect class="c" x="566.5" y="335.1" width="6.6" height="11.2"/>
<text class="l" x="569.8" y="342.3" font-size="4.4" transform="rotate(-90 569.8 340.7)" textLength="10.4" lengthAdjust="spacingAndGlyphs">R7003</text>
<rect class="c" x="573.5" y="335.1" width="6.5" height="11.2"/>
<text class="l" x="576.7" y="342.3" font-size="4.4" transform="rotate(-90 576.7 340.7)" textLength="10.4" lengthAdjust="spacingAndGlyphs">C7014</text>
<rect class="c" x="587.2" y="334.5" width="6.2" height="11.9"/>
<text class="l" x="590.3" y="342" font-size="4.4" transform="rotate(-90 590.3 340.4)" textLength="10.5" lengthAdjust="spacingAndGlyphs">C7122</text>
<rect class="c" x="594" y="334.5" width="6.2" height="11.9"/>
<text class="l" x="597.1" y="342" font-size="4.4" transform="rotate(-90 597.1 340.4)" textLength="10.5" lengthAdjust="spacingAndGlyphs">L7101</text>
<rect class="c" x="600.6" y="334.5" width="6.2" height="11.9"/>
<text class="l" x="603.7" y="342" font-size="4.4" transform="rotate(-90 603.7 340.4)" textLength="10.5" lengthAdjust="spacingAndGlyphs">C7105</text>
<rect class="c" x="607.2" y="334.5" width="6.2" height="11.9"/>
<text class="l" x="610.3" y="342" font-size="4.4" transform="rotate(-90 610.3 340.4)" textLength="10.5" lengthAdjust="spacingAndGlyphs">L7104</text>
<rect class="c" x="613.7" y="333.9" width="16.5" height="14.4"/>
<text class="l" x="621.9" y="342.6" font-size="4.4" textLength="12.5" lengthAdjust="spacingAndGlyphs">FL7101</text>
<rect class="c" x="630.6" y="334.2" width="11.9" height="6.2"/>
<text class="l" x="636.5" y="338.9" font-size="4.4" textLength="10.5" lengthAdjust="spacingAndGlyphs">L7108</text>
<rect class="c" x="630.6" y="341" width="11.9" height="5.7"/>
<text class="l" x="636.5" y="345.4" font-size="4.4" textLength="10.5" lengthAdjust="spacingAndGlyphs">R7106</text>
<rect class="c" x="643" y="334.5" width="5.9" height="12.5"/>
<text class="l" x="646" y="342.3" font-size="4.4" transform="rotate(-90 646 340.7)" textLength="10.5" lengthAdjust="spacingAndGlyphs">C7108</text>
<rect class="c" x="649.7" y="333.5" width="22.1" height="17.9"/>
<text class="l" x="660.7" y="344" font-size="4.4" textLength="12.5" lengthAdjust="spacingAndGlyphs">FL7103</text>
<rect class="c" x="534.4" y="344.2" width="17.5" height="7.7"/>
<text class="l" x="543.1" y="349.7" font-size="4.4" textLength="10.5" lengthAdjust="spacingAndGlyphs">C7005</text>
<rect class="c" x="531.9" y="352.6" width="7.9" height="16.9"/>
<text class="l" x="535.8" y="362.6" font-size="4.4" transform="rotate(-90 535.8 361)" textLength="10.5" lengthAdjust="spacingAndGlyphs">C7006</text>
<rect class="c" x="540.4" y="353" width="12.1" height="5.9"/>
<text class="l" x="546.4" y="357.5" font-size="4.4" textLength="10.5" lengthAdjust="spacingAndGlyphs">C7001</text>
<rect class="c" x="540.4" y="359.7" width="12.1" height="5.7"/>
<text class="l" x="546.4" y="364.2" font-size="4.4" textLength="10.5" lengthAdjust="spacingAndGlyphs">C7014</text>
<rect class="c" x="540.4" y="366.3" width="12.1" height="5.9"/>
<text class="l" x="546.4" y="370.9" font-size="4.4" textLength="10.5" lengthAdjust="spacingAndGlyphs">C7004</text>
<rect class="c" x="540.4" y="373" width="12.1" height="5.9"/>
<text class="l" x="546.4" y="377.5" font-size="4.4" textLength="10.5" lengthAdjust="spacingAndGlyphs">R7005</text>
<rect class="c" x="540.4" y="379.7" width="12.1" height="5.7"/>
<text class="l" x="546.4" y="384.2" font-size="4.4" textLength="10.5" lengthAdjust="spacingAndGlyphs">C7020</text>
<rect class="c" x="535.4" y="369.7" width="4.4" height="12.9"/>
<text class="l" x="537.5" y="377.7" font-size="4.4" transform="rotate(-90 537.5 376.1)" textLength="10.5" lengthAdjust="spacingAndGlyphs">C7008</text>
<rect class="c" x="555.2" y="346.7" width="36.6" height="35.9"/>
<path class="d" d="M555.2 354.5 L563.1 346.7"/>
<text class="B" x="572.7" y="369.1" font-size="11" textLength="29" lengthAdjust="spacingAndGlyphs">U7000</text>
<rect class="c" x="591.8" y="349.5" width="5.6" height="11.9"/>
<text class="l" x="594.6" y="357" font-size="4.4" transform="rotate(-90 594.6 355.4)" textLength="10.5" lengthAdjust="spacingAndGlyphs">C7106</text>
<rect class="c" x="598.4" y="349.5" width="5.6" height="11.9"/>
<text class="l" x="601.3" y="357" font-size="4.4" transform="rotate(-90 601.3 355.4)" textLength="10.5" lengthAdjust="spacingAndGlyphs">C7103</text>
<rect class="c" x="604.9" y="351.7" width="17.2" height="8"/>
<text class="l" x="613.6" y="357.3" font-size="4.4" textLength="10.5" lengthAdjust="spacingAndGlyphs">C7003</text>
<rect class="c" x="623.9" y="354.5" width="6.2" height="11.9"/>
<text class="l" x="627.1" y="362" font-size="4.4" transform="rotate(-90 627.1 360.4)" textLength="10.5" lengthAdjust="spacingAndGlyphs">R7105</text>
<rect class="c" x="632.4" y="353.8" width="12.5" height="5.9"/>
<text class="l" x="638.7" y="358.4" font-size="4.4" textLength="10.5" lengthAdjust="spacingAndGlyphs">L7107</text>
<rect class="c" x="645.2" y="353.8" width="12" height="5.9"/>
<text class="l" x="651.2" y="358.4" font-size="4.4" textLength="10.5" lengthAdjust="spacingAndGlyphs">C7106</text>
<rect class="c" x="657.4" y="353.8" width="12.2" height="5.9"/>
<text class="l" x="663.5" y="358.4" font-size="4.4" textLength="10.5" lengthAdjust="spacingAndGlyphs">C7109</text>
<rect class="c" x="597.4" y="362.6" width="12.5" height="5.9"/>
<text class="l" x="603.7" y="367.1" font-size="4.4" textLength="10.5" lengthAdjust="spacingAndGlyphs">C7002</text>
<rect class="c" x="610.6" y="360.1" width="6.2" height="13.1"/>
<text class="l" x="613.7" y="368.2" font-size="4.4" transform="rotate(-90 613.7 366.7)" textLength="10.5" lengthAdjust="spacingAndGlyphs">C7102</text>
<rect class="c" x="617.4" y="360.1" width="6" height="13.1"/>
<text class="l" x="620.4" y="368.2" font-size="4.4" transform="rotate(-90 620.4 366.7)" textLength="10.5" lengthAdjust="spacingAndGlyphs">C7104</text>
<rect class="c" x="650.5" y="360.7" width="12.5" height="5.6"/>
<text class="l" x="656.8" y="365.1" font-size="4.4" textLength="10.5" lengthAdjust="spacingAndGlyphs">R7108</text>
<rect class="c" x="650.5" y="367.2" width="12.5" height="6"/>
<text class="l" x="656.8" y="371.8" font-size="4.4" textLength="10.5" lengthAdjust="spacingAndGlyphs">L7109</text>
<rect class="c" x="623.9" y="366.3" width="16.4" height="20.9"/>
<text class="l" x="632.1" y="378.4" font-size="4.4" transform="rotate(-90 632.1 376.8)" textLength="10.5" lengthAdjust="spacingAndGlyphs">U7101</text>
<rect class="c" x="640.5" y="362.6" width="6.9" height="24.6"/>
<text class="l" x="644" y="376.5" font-size="4.4" transform="rotate(-90 644 374.9)" textLength="10.5" lengthAdjust="spacingAndGlyphs">C7107</text>
<rect class="c" x="647.7" y="373.8" width="16.6" height="13.7"/>
<text class="l" x="656" y="382.3" font-size="4.4" textLength="12.5" lengthAdjust="spacingAndGlyphs">FL7102</text>
<rect class="c" x="666.2" y="368.5" width="13.1" height="20.7"/>
<text class="l" x="672.7" y="381.4" font-size="7.1" transform="rotate(-90 672.7 378.8)" textLength="19.9" lengthAdjust="spacingAndGlyphs">FL7104</text>
<rect class="c" x="603.3" y="373.5" width="6.6" height="12.9"/>
<text class="l" x="606.6" y="381.5" font-size="4.4" transform="rotate(-90 606.6 379.9)" textLength="10.5" lengthAdjust="spacingAndGlyphs">L7101</text>
<rect class="c" x="610.6" y="373.5" width="6.2" height="12.9"/>
<text class="l" x="613.7" y="381.5" font-size="4.4" transform="rotate(-90 613.7 379.9)" textLength="10.5" lengthAdjust="spacingAndGlyphs">R7101</text>
<rect class="c" x="617.4" y="373.5" width="6" height="12.9"/>
<text class="l" x="620.4" y="381.5" font-size="4.4" transform="rotate(-90 620.4 379.9)" textLength="10.5" lengthAdjust="spacingAndGlyphs">C7103</text>
<rect class="c" x="557.5" y="383.5" width="12.2" height="5.4"/>
<text class="l" x="563.6" y="387.7" font-size="4.4" textLength="10.5" lengthAdjust="spacingAndGlyphs">C7013</text>
<rect class="c" x="580.6" y="383.5" width="11.6" height="5.4"/>
<text class="l" x="586.4" y="387.7" font-size="4.4" textLength="10.5" lengthAdjust="spacingAndGlyphs">C7010</text>
<path class="c" d="M548.7 387 L554.4 392.6 L548.7 398.2 L543.1 392.6 L548.7 387"/>
<text class="l" x="548.7" y="394.1" font-size="4.3" textLength="10.1" lengthAdjust="spacingAndGlyphs">N2205</text>
<rect class="c" x="556.2" y="389.7" width="18.1" height="8.5"/>
<text class="l" x="565.3" y="395.5" font-size="4.4" textLength="10.5" lengthAdjust="spacingAndGlyphs">C7016</text>
<rect class="c" x="580.6" y="389.5" width="6.6" height="11.9"/>
<text class="l" x="583.9" y="397" font-size="4.4" transform="rotate(-90 583.9 395.4)" textLength="10.5" lengthAdjust="spacingAndGlyphs">L7003</text>
<rect class="c" x="587.7" y="390.5" width="8.5" height="17.1"/>
<text class="l" x="592" y="400.6" font-size="4.4" transform="rotate(-90 592 399)" textLength="10.5" lengthAdjust="spacingAndGlyphs">L7004</text>
<rect class="c" x="575" y="401.7" width="12.2" height="6.2"/>
<text class="l" x="581.1" y="406.4" font-size="4.4" textLength="10.5" lengthAdjust="spacingAndGlyphs">C7021</text>
<rect class="c" x="608.4" y="390.5" width="12.1" height="6.2"/>
<text class="l" x="614.5" y="395.2" font-size="4.4" textLength="10.5" lengthAdjust="spacingAndGlyphs">L7102</text>
<rect class="c" x="621.2" y="390.1" width="5.6" height="14.4"/>
<text class="l" x="624" y="398.8" font-size="4.4" transform="rotate(-90 624 397.3)" textLength="10.5" lengthAdjust="spacingAndGlyphs">L7103</text>
<rect class="c" x="627.4" y="390.5" width="12.5" height="6.2"/>
<text class="l" x="633.7" y="395.2" font-size="4.4" textLength="10.5" lengthAdjust="spacingAndGlyphs">L7106</text>
<rect class="c" x="627.4" y="397.2" width="12.5" height="5.4"/>
<text class="l" x="633.7" y="401.5" font-size="4.4" textLength="10.5" lengthAdjust="spacingAndGlyphs">R7107</text>
<rect class="c" x="642.4" y="389.5" width="17.5" height="15"/>
<text class="l" x="651.2" y="398.5" font-size="4.4" textLength="10.5" lengthAdjust="spacingAndGlyphs">U7103</text>
<rect class="c" x="660.5" y="390.5" width="5.4" height="10.9"/>
<text class="l" x="663.2" y="397.5" font-size="4.4" transform="rotate(-90 663.2 395.9)" textLength="10.1" lengthAdjust="spacingAndGlyphs">L7111</text>
<rect class="c" x="666.4" y="390.5" width="12.9" height="5.9"/>
<text class="l" x="672.8" y="395" font-size="4.4" textLength="10.5" lengthAdjust="spacingAndGlyphs">L7112</text>
<rect class="c" x="673.7" y="397.2" width="5.6" height="11"/>
<text class="l" x="676.5" y="404.3" font-size="4.4" transform="rotate(-90 676.5 402.7)" textLength="10.2" lengthAdjust="spacingAndGlyphs">R7120</text>
<rect class="c" x="660.5" y="402.9" width="11.2" height="5.2"/>
<text class="l" x="666.2" y="407.2" font-size="4.4" textLength="10.4" lengthAdjust="spacingAndGlyphs">L7110</text>
<rect class="c" x="602.4" y="404.2" width="12.5" height="5.2"/>
<text class="l" x="608.7" y="408.4" font-size="4.4" textLength="10.5" lengthAdjust="spacingAndGlyphs">R7004</text>
<rect class="c" x="615.3" y="404.2" width="12.1" height="5.2"/>
<text class="l" x="621.4" y="408.4" font-size="4.4" textLength="10.5" lengthAdjust="spacingAndGlyphs">C7000</text>
<rect class="c" x="627.8" y="404.2" width="12.1" height="5.2"/>
<text class="l" x="633.9" y="408.4" font-size="4.4" textLength="10.5" lengthAdjust="spacingAndGlyphs">R7109</text>
<rect class="c" x="553.7" y="489.7" width="17.7" height="11.5"/>
<text class="l" x="562.6" y="497.1" font-size="4.4" textLength="10.5" lengthAdjust="spacingAndGlyphs">C2306</text>
<rect class="c" x="527.5" y="494.6" width="25.6" height="14.1"/>
<text class="l" x="540.3" y="503.3" font-size="4.4" textLength="10.5" lengthAdjust="spacingAndGlyphs">C2305</text>
<rect class="c" x="553.7" y="501.9" width="17.7" height="10.4"/>
<text class="l" x="562.6" y="508.6" font-size="4.4" textLength="10.5" lengthAdjust="spacingAndGlyphs">C2302</text>
<rect class="c" x="542.7" y="511.8" width="6" height="11.6"/>
<text class="l" x="545.7" y="519.2" font-size="4.4" transform="rotate(-90 545.7 517.7)" textLength="10.5" lengthAdjust="spacingAndGlyphs">R2206</text>
<rect class="c" x="549.4" y="513.1" width="18.1" height="10"/>
<text class="l" x="558.4" y="519.7" font-size="4.4" textLength="10.5" lengthAdjust="spacingAndGlyphs">C2004</text>
<rect class="c" x="539.7" y="523.7" width="33.7" height="23.5"/>
<text class="l" x="556.6" y="537" font-size="4.4" textLength="10.5" lengthAdjust="spacingAndGlyphs">L2004</text>
<rect class="c" x="546.5" y="547.5" width="33.2" height="23.1"/>
<text class="l" x="563.1" y="560.6" font-size="4.4" textLength="10.5" lengthAdjust="spacingAndGlyphs">L2005</text>
<rect class="c" x="574.6" y="484.4" width="57.8" height="58.7"/>
<path class="d" d="M621.8 484.4 L632.4 495.6"/>
<text class="B" x="603.1" y="518.5" font-size="10.5" textLength="28.5" lengthAdjust="spacingAndGlyphs">U2000</text>
<rect class="c" x="634.9" y="489.7" width="5.6" height="11.5"/>
<text class="l" x="637.7" y="497.1" font-size="4.4" transform="rotate(-90 637.7 495.5)" textLength="10.5" lengthAdjust="spacingAndGlyphs">C2109</text>
<rect class="c" x="642.4" y="490" width="33.7" height="22.5"/>
<text class="l" x="659.3" y="502.8" font-size="4.4" textLength="10.5" lengthAdjust="spacingAndGlyphs">L2104</text>
<rect class="c" x="642.4" y="513.1" width="33.7" height="23.1"/>
<text class="l" x="659.3" y="526.2" font-size="4.4" textLength="10.5" lengthAdjust="spacingAndGlyphs">L2105</text>
<rect class="c" x="636.8" y="521.8" width="5.4" height="13.1"/>
<text class="l" x="639.5" y="530" font-size="4.4" transform="rotate(-90 639.5 528.4)" textLength="10.5" lengthAdjust="spacingAndGlyphs">C2107</text>
<rect class="c" x="584.3" y="543.7" width="6.9" height="11.9"/>
<text class="l" x="587.8" y="551.2" font-size="4.4" transform="rotate(-90 587.8 549.6)" textLength="10.5" lengthAdjust="spacingAndGlyphs">C2003</text>
<rect class="c" x="617.2" y="543.7" width="6.7" height="11.9"/>
<text class="l" x="620.6" y="551.2" font-size="4.4" transform="rotate(-90 620.6 549.6)" textLength="10.5" lengthAdjust="spacingAndGlyphs">C2005</text>
<rect class="c" x="581" y="555.9" width="22.1" height="33"/>
<text class="l" x="592" y="574" font-size="4.4" transform="rotate(-90 592 572.4)" textLength="10.5" lengthAdjust="spacingAndGlyphs">L2000</text>
<rect class="c" x="603.4" y="555.9" width="23.4" height="33"/>
<text class="l" x="615.1" y="574" font-size="4.4" transform="rotate(-90 615.1 572.4)" textLength="10.5" lengthAdjust="spacingAndGlyphs">L2001</text>
<rect class="c" x="628.1" y="543.7" width="22.5" height="32.5"/>
<text class="l" x="639.3" y="561.5" font-size="4.4" transform="rotate(-90 639.3 559.9)" textLength="10.5" lengthAdjust="spacingAndGlyphs">L2101</text>
<rect class="c" x="657.4" y="537.5" width="18.5" height="9.7"/>
<text class="l" x="666.7" y="543.9" font-size="4.4" textLength="10.5" lengthAdjust="spacingAndGlyphs">C2100</text>
<rect class="c" x="657.4" y="548.1" width="18.5" height="10"/>
<text class="l" x="666.7" y="554.7" font-size="4.4" textLength="10.5" lengthAdjust="spacingAndGlyphs">C2108</text>
<rect class="c" x="657.4" y="558.9" width="18.5" height="8.5"/>
<text class="l" x="666.7" y="564.8" font-size="4.4" textLength="10.5" lengthAdjust="spacingAndGlyphs">C2103</text>
<text class="l" x="693" y="502.8" font-size="4.3" textLength="12.1" lengthAdjust="spacingAndGlyphs">TP2206</text>
<text class="n" x="692.4" y="542.8" font-size="4.5">12</text>
<rect class="c" x="695.6" y="479.6" width="33.7" height="78.7"/>
<text class="B" x="713.9" y="522.8" font-size="10.5" transform="rotate(-90 713.9 519)" textLength="25.7" lengthAdjust="spacingAndGlyphs">J5201</text>
<text class="n" x="733.6" y="498.4" font-size="4.5" transform="rotate(90 733.6 496.8)">24</text>
<text class="n" x="692.2" y="542.5" font-size="4.5" transform="rotate(90 692.2 540.9)">12</text>
<text class="n" x="732.7" y="542.5" font-size="4.5" transform="rotate(90 732.7 540.9)">1</text>
<circle class="c" cx="741.3" cy="540.1" r="5.5"/>
<text class="l" x="741.3" y="541.6" font-size="4.4" textLength="12.5" lengthAdjust="spacingAndGlyphs">TP2401</text>
<rect class="c" x="731.3" y="313.7" width="16.3" height="39.4"/>
<path class="d" d="M733.4 317.1 L745.4 317.1 L745.4 329.1 L733.4 329.1 L733.4 317.1"/>
<path class="d" d="M733.4 340.2 L745.4 340.2 L745.4 350.5 L733.4 350.5 L733.4 340.2"/>
<path class="d" d="M733.4 343.6 L745.4 343.6"/>
<path class="d" d="M733.4 347.1 L745.4 347.1"/>
<text class="B" x="739" y="337.2" font-size="6" textLength="14.2" lengthAdjust="spacingAndGlyphs">E4001</text>
<rect class="c" x="833.2" y="329.4" width="87.3" height="38.2"/>
<text class="B" x="876.3" y="353.2" font-size="10" textLength="28" lengthAdjust="spacingAndGlyphs">J5202</text>
<text class="n" x="851.1" y="374.9" font-size="4.5">12</text>
<text class="n" x="905.4" y="374.9" font-size="4.5">1</text>
<rect class="c" x="925.6" y="356.1" width="7.2" height="12.3"/>
<text class="l" x="929.2" y="363.9" font-size="4.4" transform="rotate(-90 929.2 362.3)" textLength="10.5" lengthAdjust="spacingAndGlyphs">C5313</text>
<text class="Y" x="939.6" y="362" font-size="11.5" transform="rotate(-90 939.6 357.9)" textLength="66" lengthAdjust="spacingAndGlyphs">P520AE_V0.10</text>
<text class="Y" x="952.5" y="382.7" font-size="11.5" transform="rotate(-90 952.5 378.6)" textLength="41" lengthAdjust="spacingAndGlyphs">20201120</text>
<rect class="c" x="881.4" y="415.5" width="21.4" height="14.5"/>
<text class="l" x="892.1" y="424.4" font-size="4.4" textLength="10.5" lengthAdjust="spacingAndGlyphs">D5300</text>
<path class="d" d="M884.9 418.1 L891.7 418.1 L891.7 426.7 L884.9 426.7 L884.9 418.1"/>
<rect class="c" x="937.9" y="415.5" width="20.9" height="14.5"/>
<text class="l" x="948.4" y="424.4" font-size="4.4" textLength="10.5" lengthAdjust="spacingAndGlyphs">D5301</text>
<path class="d" d="M941.3 418.1 L948.2 418.1 L948.2 426.7 L941.3 426.7 L941.3 418.1"/>
<rect class="c" x="1070.2" y="319.5" width="29.4" height="29.2"/>
<text class="B" x="1085" y="337.3" font-size="5.1" textLength="12.1" lengthAdjust="spacingAndGlyphs">M5707</text>
<rect class="c" x="961.5" y="367.5" width="6.6" height="11.9"/>
<text class="l" x="964.8" y="375" font-size="4.4" transform="rotate(-90 964.8 373.4)" textLength="10.5" lengthAdjust="spacingAndGlyphs">R4001</text>
<rect class="c" x="968.5" y="365.6" width="8.7" height="17.9"/>
<text class="l" x="972.9" y="376.1" font-size="4.4" transform="rotate(-90 972.9 374.5)" textLength="10.5" lengthAdjust="spacingAndGlyphs">L4003</text>
<rect class="c" x="978.1" y="371.8" width="5.9" height="11.2"/>
<text class="l" x="981" y="379.1" font-size="4.4" transform="rotate(-90 981 377.5)" textLength="10.4" lengthAdjust="spacingAndGlyphs">T4000</text>
<rect class="c" x="984.3" y="361.9" width="12.5" height="5.4"/>
<text class="l" x="990.6" y="366.1" font-size="4.4" textLength="10.5" lengthAdjust="spacingAndGlyphs">R4006</text>
<rect class="c" x="984.3" y="367.7" width="12.5" height="6.6"/>
<text class="l" x="990.6" y="372.6" font-size="4.4" textLength="10.5" lengthAdjust="spacingAndGlyphs">C4007</text>
<rect class="c" x="997.2" y="367.7" width="11.7" height="6.6"/>
<text class="l" x="1003.1" y="372.6" font-size="4.4" textLength="10.5" lengthAdjust="spacingAndGlyphs">C4006</text>
<rect class="c" x="984.3" y="375.2" width="17.5" height="7.9"/>
<text class="l" x="993.1" y="380.7" font-size="4.4" textLength="10.5" lengthAdjust="spacingAndGlyphs">L4004</text>
<rect class="c" x="1009.7" y="366.9" width="17.7" height="7.5"/>
<text class="l" x="1018.6" y="372.2" font-size="4.4" textLength="10.5" lengthAdjust="spacingAndGlyphs">L4000</text>
<rect class="c" x="1002.5" y="376" width="11.9" height="5.5"/>
<text class="l" x="1008.4" y="380.3" font-size="4.4" textLength="10.5" lengthAdjust="spacingAndGlyphs">T4002</text>
<rect class="c" x="1014.7" y="376" width="12.1" height="5.5"/>
<text class="l" x="1020.8" y="380.3" font-size="4.4" textLength="10.5" lengthAdjust="spacingAndGlyphs">T4001</text>
<rect class="c" x="1002.5" y="382.5" width="11.9" height="5.2"/>
<text class="l" x="1008.4" y="386.7" font-size="4.4" textLength="10.5" lengthAdjust="spacingAndGlyphs">C4003</text>
<rect class="c" x="1014.7" y="382.5" width="12.1" height="5.2"/>
<text class="l" x="1020.8" y="386.7" font-size="4.4" textLength="10.5" lengthAdjust="spacingAndGlyphs">C4008</text>
<rect class="c" x="1028.9" y="374.3" width="6" height="12.5"/>
<text class="l" x="1031.9" y="382.2" font-size="4.4" transform="rotate(-90 1031.9 380.6)" textLength="10.5" lengthAdjust="spacingAndGlyphs">T4004</text>
<rect class="c" x="1028.9" y="362.5" width="6" height="11.9"/>
<text class="l" x="1031.9" y="370" font-size="4.4" transform="rotate(-90 1031.9 368.4)" textLength="10.5" lengthAdjust="spacingAndGlyphs">C4010</text>
<rect class="c" x="1035.9" y="374.3" width="5.9" height="12.5"/>
<text class="l" x="1038.9" y="382.2" font-size="4.4" transform="rotate(-90 1038.9 380.6)" textLength="10.5" lengthAdjust="spacingAndGlyphs">C4009</text>
<rect class="c" x="1035.9" y="362.5" width="5.9" height="11.9"/>
<text class="l" x="1038.9" y="370" font-size="4.4" transform="rotate(-90 1038.9 368.4)" textLength="10.5" lengthAdjust="spacingAndGlyphs">R4012</text>
<rect class="c" x="1043.1" y="362.5" width="8.5" height="17.5"/>
<text class="l" x="1047.3" y="372.8" font-size="4.4" transform="rotate(-90 1047.3 371.2)" textLength="10.5" lengthAdjust="spacingAndGlyphs">L4001</text>
<rect class="c" x="998.5" y="388.7" width="49.2" height="34"/>
<text class="B" x="978.7" y="435.8" font-size="10" textLength="26" lengthAdjust="spacingAndGlyphs">J4001</text>
<rect class="c" x="1001.2" y="432.7" width="10.6" height="19.1"/>
<text class="l b" x="1006.5" y="443.9" font-size="4.4" transform="rotate(-90 1006.5 442.3)" textLength="10.5" lengthAdjust="spacingAndGlyphs">T5308</text>
<rect class="c" x="1012.5" y="432.7" width="7.5" height="19.1"/>
<text class="l" x="1016.2" y="444.6" font-size="6.4" transform="rotate(-90 1016.2 442.3)" textLength="15.2" lengthAdjust="spacingAndGlyphs">C5306</text>
<rect class="c" x="1020.6" y="432.5" width="15" height="26"/>
<text class="l" x="1028.1" y="447.1" font-size="4.4" transform="rotate(-90 1028.1 445.5)" textLength="10.5" lengthAdjust="spacingAndGlyphs">R5324</text>
<text class="Y" x="1035.2" y="483.2" font-size="12.5" textLength="17.5" lengthAdjust="spacingAndGlyphs">GND</text>
<circle class="c" cx="1034.3" cy="501.5" r="14"/>
<text class="l" x="1034.3" y="503" font-size="4.4" textLength="12.5" lengthAdjust="spacingAndGlyphs">TP5603</text>
<circle class="c" cx="1028.1" cy="523.3" r="5.6"/>
<text class="l" x="1028.1" y="524.9" font-size="4.4" textLength="12.5" lengthAdjust="spacingAndGlyphs">TP5711</text>
<circle class="c" cx="1039.9" cy="523.3" r="5.6"/>
<text class="l" x="1039.9" y="524.9" font-size="4.4" textLength="12.5" lengthAdjust="spacingAndGlyphs">TP5712</text>
<circle class="c" cx="1028.1" cy="534.4" r="5.6"/>
<text class="l" x="1028.1" y="535.9" font-size="4.4" textLength="12.5" lengthAdjust="spacingAndGlyphs">TP5713</text>
<circle class="c" cx="1039.9" cy="534.4" r="5.6"/>
<text class="l" x="1039.9" y="535.9" font-size="4.4" textLength="12.5" lengthAdjust="spacingAndGlyphs">TP5716</text>
<circle class="c" cx="1033.1" cy="548.7" r="7.7"/>
<text class="l" x="1033.1" y="550.3" font-size="4.4" textLength="12.5" lengthAdjust="spacingAndGlyphs">TP5714</text>
<circle class="c" cx="1033.1" cy="576.6" r="7.7"/>
<text class="l" x="1033.1" y="578.2" font-size="4.4" textLength="12.5" lengthAdjust="spacingAndGlyphs">TP5719</text>
<text class="Y" x="1028.3" y="567.3" font-size="12.5" textLength="23.7" lengthAdjust="spacingAndGlyphs">BOOT</text>
<text class="Y" x="1025.2" y="597" font-size="12.5" textLength="14.4" lengthAdjust="spacingAndGlyphs">1P8</text>
<rect class="c" x="963.1" y="597.7" width="12.5" height="6.6"/>
<text class="l" x="969.4" y="602.6" font-size="4.4" textLength="10.5" lengthAdjust="spacingAndGlyphs">C4105</text>
<rect class="c" x="957.5" y="604.7" width="18.1" height="10.2"/>
<text class="l" x="966.5" y="611.4" font-size="4.4" textLength="10.5" lengthAdjust="spacingAndGlyphs">C4104</text>
<circle class="o" cx="911.2" cy="627.5" r="9.1"/>
<rect class="c" x="978.4" y="609.7" width="18" height="8.4"/>
<text class="l" x="987.4" y="615.5" font-size="4.4" textLength="10.5" lengthAdjust="spacingAndGlyphs">R4106</text>
<rect class="c" x="978.4" y="618.7" width="18" height="8.5"/>
<text class="l" x="987.4" y="624.6" font-size="4.4" textLength="10.5" lengthAdjust="spacingAndGlyphs">R4107</text>
<rect class="c" x="978.4" y="627.7" width="18" height="8.5"/>
<text class="l" x="987.4" y="633.6" font-size="4.4" textLength="10.5" lengthAdjust="spacingAndGlyphs">R4105</text>
<rect class="c" x="952.4" y="615.4" width="23.1" height="33.4"/>
<text class="l" x="964" y="633.6" font-size="4.4" transform="rotate(-90 964 632)" textLength="10.5" lengthAdjust="spacingAndGlyphs">L4100</text>
<rect class="c" x="977.2" y="636.9" width="6.5" height="11.9"/>
<text class="l" x="980.4" y="644.4" font-size="4.4" transform="rotate(-90 980.4 642.8)" textLength="10.5" lengthAdjust="spacingAndGlyphs">C4103</text>
<rect class="c" x="987.4" y="637.5" width="5.6" height="12.5"/>
<text class="l" x="990.2" y="645.3" font-size="4.4" transform="rotate(-90 990.2 643.7)" textLength="10.5" lengthAdjust="spacingAndGlyphs">R4124</text>
<rect class="c" x="993.7" y="637.5" width="5.6" height="12.5"/>
<text class="l" x="996.5" y="645.3" font-size="4.4" transform="rotate(-90 996.5 643.7)" textLength="10.5" lengthAdjust="spacingAndGlyphs">R4126</text>
<rect class="c" x="987.7" y="651.2" width="11.6" height="5.2"/>
<text class="l" x="993.5" y="655.4" font-size="4.4" textLength="10.5" lengthAdjust="spacingAndGlyphs">R4109</text>
<rect class="c" x="987.7" y="657.7" width="11.6" height="5.4"/>
<text class="l" x="993.5" y="662" font-size="4.4" textLength="10.5" lengthAdjust="spacingAndGlyphs">R4114</text>
<rect class="c" x="987.7" y="664.7" width="11.6" height="5.2"/>
<text class="l" x="993.5" y="668.9" font-size="4.4" textLength="10.5" lengthAdjust="spacingAndGlyphs">C4100</text>
<rect class="c" x="987.7" y="671.5" width="11.6" height="5"/>
<text class="l" x="993.5" y="675.5" font-size="4.4" textLength="10.5" lengthAdjust="spacingAndGlyphs">C4101</text>
<rect class="c" x="987.7" y="678.1" width="11.6" height="5"/>
<text class="l" x="993.5" y="682.2" font-size="4.4" textLength="10.5" lengthAdjust="spacingAndGlyphs">R4125</text>
<rect class="c" x="987.7" y="684.9" width="11.6" height="5"/>
<text class="l" x="993.5" y="689" font-size="4.4" textLength="10.5" lengthAdjust="spacingAndGlyphs">C4102</text>
<rect class="c" x="987.7" y="691.8" width="11.6" height="5"/>
<text class="l" x="993.5" y="695.9" font-size="4.4" textLength="10.5" lengthAdjust="spacingAndGlyphs">R4104</text>
<rect class="c" x="983.7" y="698.1" width="11.9" height="5.4"/>
<text class="l" x="989.6" y="702.3" font-size="4.4" textLength="10.5" lengthAdjust="spacingAndGlyphs">R4122</text>
<rect class="c" x="977.2" y="690.9" width="5.9" height="11.5"/>
<text class="l" x="980.1" y="698.3" font-size="4.4" transform="rotate(-90 980.1 696.7)" textLength="10.5" lengthAdjust="spacingAndGlyphs">C4112</text>
<rect class="c" x="919.6" y="661.5" width="32.2" height="17.9"/>
<text class="l" x="935.7" y="672" font-size="4.4" textLength="10.5" lengthAdjust="spacingAndGlyphs">C4106</text>
<rect class="c" x="921.8" y="680" width="25.6" height="13.5"/>
<text class="l" x="934.6" y="688.3" font-size="4.4" textLength="10.5" lengthAdjust="spacingAndGlyphs">C4148</text>
<rect class="c" x="948.1" y="683.7" width="13.7" height="28.7"/>
<text class="l" x="954.9" y="699.6" font-size="4.4" transform="rotate(-90 954.9 698.1)" textLength="10.5" lengthAdjust="spacingAndGlyphs">R4100</text>
<rect class="c" x="963.1" y="683.7" width="13.7" height="28.7"/>
<text class="l" x="969.9" y="699.6" font-size="4.4" transform="rotate(-90 969.9 698.1)" textLength="10.5" lengthAdjust="spacingAndGlyphs">R4102</text>
<rect class="c" x="941.2" y="694.3" width="6.2" height="11.9"/>
<text class="l" x="944.3" y="701.8" font-size="4.4" transform="rotate(-90 944.3 700.2)" textLength="10.5" lengthAdjust="spacingAndGlyphs">C4110</text>
<path class="dd" d="M952.4 649.1 L987.2 649.1 L987.2 682.4 L952.4 682.4 L952.4 649.1"/>
<rect class="c" x="953.4" y="650" width="32.7" height="31.5"/>
<path class="d" d="M978.7 650 L986.2 657.5"/>
<text class="B" x="969.9" y="663.8" font-size="10" textLength="26" lengthAdjust="spacingAndGlyphs">U4102</text>
<text class="B" x="969.9" y="677.1" font-size="10" textLength="26" lengthAdjust="spacingAndGlyphs">U4101</text>
<rect class="c" x="891.2" y="674.3" width="20.4" height="19.6"/>
<text class="l" x="901.4" y="685.7" font-size="4.4" textLength="10.5" lengthAdjust="spacingAndGlyphs">U5602</text>
<rect class="c" x="892.7" y="661.8" width="5.7" height="12.1"/>
<text class="l" x="895.6" y="669.5" font-size="4.4" transform="rotate(-90 895.6 667.9)" textLength="10.5" lengthAdjust="spacingAndGlyphs">R5612</text>
<rect class="c" x="899.4" y="661.8" width="5.6" height="12.1"/>
<text class="l" x="902.2" y="669.5" font-size="4.4" transform="rotate(-90 902.2 667.9)" textLength="10.5" lengthAdjust="spacingAndGlyphs">R5614</text>
<rect class="c" x="873.1" y="678.5" width="11.2" height="17.7"/>
<text class="l" x="878.7" y="688.9" font-size="4.4" transform="rotate(-90 878.7 687.3)" textLength="10.5" lengthAdjust="spacingAndGlyphs">C5600</text>
<rect class="c" x="885.6" y="681.2" width="5" height="12.2"/>
<text class="l" x="888.1" y="688.9" font-size="4.4" transform="rotate(-90 888.1 687.3)" textLength="10.5" lengthAdjust="spacingAndGlyphs">C5603</text>
<rect class="c" x="912.5" y="680.9" width="6" height="12.7"/>
<text class="l" x="915.5" y="688.9" font-size="4.4" transform="rotate(-90 915.5 687.3)" textLength="10.5" lengthAdjust="spacingAndGlyphs">C5619</text>
<rect class="c" x="1025.5" y="647.5" width="18.1" height="21.2"/>
<text class="l" x="1034.6" y="659.7" font-size="4.4" transform="rotate(-90 1034.6 658.1)" textLength="10.5" lengthAdjust="spacingAndGlyphs">U6401</text>
<rect class="c" x="1029.9" y="635.6" width="5" height="11.6"/>
<text class="l" x="1032.4" y="643" font-size="4.4" transform="rotate(-90 1032.4 641.4)" textLength="10.5" lengthAdjust="spacingAndGlyphs">R6412</text>
<rect class="c" x="1035.9" y="635.6" width="5.2" height="11.6"/>
<text class="l" x="1038.5" y="643" font-size="4.4" transform="rotate(-90 1038.5 641.4)" textLength="10.5" lengthAdjust="spacingAndGlyphs">R6411</text>
<rect class="c" x="1036.1" y="671" width="11.9" height="5"/>
<text class="l" x="1042.1" y="675" font-size="4.4" textLength="10.5" lengthAdjust="spacingAndGlyphs">R6410</text>
<rect class="c" x="1037.1" y="676.8" width="5.2" height="11.9"/>
<text class="l" x="1039.8" y="684.3" font-size="4.4" transform="rotate(-90 1039.8 682.8)" textLength="10.5" lengthAdjust="spacingAndGlyphs">R6413</text>
<rect class="c" x="1036.1" y="689.9" width="11.9" height="5"/>
<text class="l" x="1042.1" y="694" font-size="4.4" textLength="10.5" lengthAdjust="spacingAndGlyphs">R6401</text>
<rect class="c" x="892.5" y="694.7" width="8.7" height="17.7"/>
<text class="l" x="896.9" y="705.2" font-size="4.4" transform="rotate(-90 896.9 703.6)" textLength="10.5" lengthAdjust="spacingAndGlyphs">R5602</text>
<rect class="c" x="901.8" y="694.7" width="8.5" height="17.7"/>
<text class="l" x="906.1" y="705.2" font-size="4.4" transform="rotate(-90 906.1 703.6)" textLength="10.5" lengthAdjust="spacingAndGlyphs">R5601</text>
<rect class="c" x="911" y="694.7" width="8.4" height="17.7"/>
<text class="l" x="915.2" y="705.2" font-size="4.4" transform="rotate(-90 915.2 703.6)" textLength="10.5" lengthAdjust="spacingAndGlyphs">R5621</text>
<rect class="c" x="892.5" y="713.1" width="17.5" height="8.1"/>
<text class="l" x="901.2" y="718.8" font-size="4.4" textLength="10.5" lengthAdjust="spacingAndGlyphs">R5613</text>
<rect class="c" x="910.6" y="713.5" width="11.9" height="6.5"/>
<text class="l" x="916.5" y="718.3" font-size="4.4" textLength="10.5" lengthAdjust="spacingAndGlyphs">C5621</text>
<rect class="c" x="977.4" y="705" width="12.2" height="5"/>
<text class="l" x="983.5" y="709.1" font-size="4.4" textLength="10.5" lengthAdjust="spacingAndGlyphs">C4109</text>
<rect class="c" x="933.7" y="706.9" width="11.5" height="5.4"/>
<text class="l" x="939.5" y="711.1" font-size="4.4" textLength="10.5" lengthAdjust="spacingAndGlyphs">C4110</text>
<rect class="c" x="945.6" y="710.6" width="12.5" height="5.6"/>
<text class="l" x="951.8" y="715" font-size="4.4" textLength="10.5" lengthAdjust="spacingAndGlyphs">R4123</text>
<rect class="c" x="932.7" y="729.4" width="12.5" height="6.2"/>
<text class="l" x="939" y="734.1" font-size="4.4" textLength="10.5" lengthAdjust="spacingAndGlyphs">R2503</text>
<rect class="c" x="932.7" y="738.1" width="12.5" height="5.6"/>
<text class="l" x="939" y="742.5" font-size="4.4" textLength="10.5" lengthAdjust="spacingAndGlyphs">R2504</text>
<rect class="c" x="945.3" y="726.9" width="2.7" height="9.4"/>
<rect class="c" x="948.1" y="726.9" width="15" height="9.4"/>
<text class="l b" x="955.6" y="733.1" font-size="4.4" textLength="10.5" lengthAdjust="spacingAndGlyphs">T5106</text>
<rect class="c" x="945.6" y="740" width="10" height="14.4"/>
<text class="l b" x="950.6" y="748.7" font-size="4.4" transform="rotate(-90 950.6 747.2)" textLength="10.5" lengthAdjust="spacingAndGlyphs">T5105</text>
<rect class="c" x="860" y="726.9" width="5" height="25"/>
<text class="l b" x="862.5" y="740.9" font-size="4.4" transform="rotate(-90 862.5 739.3)" textLength="10.5" lengthAdjust="spacingAndGlyphs">T5703</text>
<rect class="c" x="865.6" y="726.9" width="13.7" height="25"/>
<text class="l" x="872.5" y="740.9" font-size="4.4" transform="rotate(-90 872.5 739.3)" textLength="10.5" lengthAdjust="spacingAndGlyphs">C2707</text>
<rect class="c" x="880" y="726.9" width="14.4" height="25"/>
<text class="l" x="887.2" y="740.9" font-size="4.4" transform="rotate(-90 887.2 739.3)" textLength="10.5" lengthAdjust="spacingAndGlyphs">C2710</text>
<rect class="c" x="865.6" y="754.3" width="25" height="14.1"/>
<text class="l" x="878.1" y="763" font-size="4.4" textLength="10.5" lengthAdjust="spacingAndGlyphs">C2718</text>
<rect class="c" x="865.6" y="769.3" width="25" height="13.7"/>
<text class="l" x="878.1" y="777.8" font-size="4.4" textLength="10.5" lengthAdjust="spacingAndGlyphs">C2709</text>
<rect class="c" x="891.2" y="776.2" width="25.6" height="15"/>
<text class="l" x="904" y="785.3" font-size="4.4" textLength="10.5" lengthAdjust="spacingAndGlyphs">C2704</text>
<rect class="c" x="863.7" y="788.7" width="18.7" height="13.7"/>
<text class="l" x="873.1" y="797.1" font-size="4.4" textLength="10.5" lengthAdjust="spacingAndGlyphs">C2706</text>
<rect class="c" x="882.5" y="791.8" width="25" height="10.6"/>
<rect class="c" x="894.7" y="750" width="12.1" height="5.6"/>
<text class="l" x="900.8" y="754.4" font-size="4.4" textLength="10.5" lengthAdjust="spacingAndGlyphs">R2502</text>
<rect class="c" x="907.2" y="750" width="12.1" height="5.6"/>
<text class="l" x="913.3" y="754.4" font-size="4.4" textLength="10.5" lengthAdjust="spacingAndGlyphs">C2505</text>
<rect class="c" x="894" y="756.2" width="6.2" height="11.9"/>
<text class="l" x="897.1" y="763.7" font-size="4.4" transform="rotate(-90 897.1 762.1)" textLength="10.5" lengthAdjust="spacingAndGlyphs">R2501</text>
<rect class="c" x="901" y="756.2" width="5.9" height="11.9"/>
<text class="l" x="903.9" y="763.7" font-size="4.4" transform="rotate(-90 903.9 762.1)" textLength="10.5" lengthAdjust="spacingAndGlyphs">C2503</text>
<circle class="c" cx="1018" cy="730.6" r="14"/>
<text class="l" x="1018" y="732.2" font-size="4.4" textLength="12.5" lengthAdjust="spacingAndGlyphs">TP5711</text>
<circle class="c" cx="1003.9" cy="754.3" r="14"/>
<text class="l" x="1003.9" y="755.9" font-size="4.4" textLength="12.5" lengthAdjust="spacingAndGlyphs">TP5720</text>
<circle class="c" cx="977.4" cy="764.1" r="13.7"/>
<text class="l" x="977.4" y="765.7" font-size="4.4" textLength="12.5" lengthAdjust="spacingAndGlyphs">TP5718</text>
<text class="n" x="1022" y="765.1" font-size="4.5">15</text>
<rect class="c" x="999.7" y="768.5" width="92.1" height="34.9"/>
<path class="d" d="M1001.5 773.7 L1015.6 773.7 L1015.6 798.7 L1001.5 798.7 L1001.5 773.7 L1015.6 798.7"/>
<path class="d" d="M1015.6 773.7 L1001.5 798.7"/>
<path class="d" d="M1001.5 786.2 L1015.6 786.2"/>
<path class="d" d="M1076.5 773.7 L1089.9 773.7 L1089.9 798.7 L1076.5 798.7 L1076.5 773.7 L1089.9 798.7"/>
<path class="d" d="M1089.9 773.7 L1076.5 798.7"/>
<path class="d" d="M1076.5 786.2 L1089.9 786.2"/>
<text class="B" x="1045.6" y="790.2" font-size="10" textLength="26" lengthAdjust="spacingAndGlyphs">J5601</text>
<text class="n" x="1073.1" y="765.1" font-size="4.5">1</text>
<text class="n" x="1016.2" y="807.8" font-size="4.5">16</text>
<text class="n" x="1076.2" y="807.8" font-size="4.5">30</text>
<circle class="c" cx="1046" cy="731.5" r="7.7"/>
<text class="l" x="1046" y="733.1" font-size="4.4" textLength="12.5" lengthAdjust="spacingAndGlyphs">TP5722</text>
<circle class="c" cx="1055" cy="757.5" r="7.7"/>
<text class="l" x="1055" y="759.1" font-size="4.4" textLength="12.5" lengthAdjust="spacingAndGlyphs">TP5721</text>
<rect class="c" x="1071.5" y="740.6" width="9.7" height="17.9"/>
<text class="l b" x="1076.3" y="751.1" font-size="4.4" transform="rotate(-90 1076.3 749.5)" textLength="10.5" lengthAdjust="spacingAndGlyphs">T5706</text>
<rect class="c" x="1086.8" y="740" width="12.5" height="6.9"/>
<text class="l" x="1093.1" y="745" font-size="4.4" textLength="10.5" lengthAdjust="spacingAndGlyphs">C5602</text>
<rect class="c" x="1081.8" y="748.1" width="17.5" height="10.4"/>
<text class="l" x="1090.6" y="755.5" font-size="6.1" textLength="14.5" lengthAdjust="spacingAndGlyphs">T5707</text>
<rect class="c" x="1099.9" y="739.7" width="17.5" height="9.6"/>
<text class="l b" x="1108.7" y="746.7" font-size="6.1" textLength="14.5" lengthAdjust="spacingAndGlyphs">T5620</text>
<rect class="c" x="1102.2" y="750.6" width="12.1" height="5.9"/>
<text class="l" x="1108.2" y="755.1" font-size="4.4" textLength="10.5" lengthAdjust="spacingAndGlyphs">C5603</text>
<circle class="c" cx="1128.4" cy="758.1" r="14"/>
<text class="l" x="1128.4" y="759.7" font-size="4.4" textLength="12.5" lengthAdjust="spacingAndGlyphs">TP5600</text>
<rect class="c" x="1123" y="721.5" width="37.2" height="19.1"/>
<text class="B" x="1141.5" y="735.6" font-size="10.5" textLength="25.6" lengthAdjust="spacingAndGlyphs">T5619</text>
<rect class="c" x="1137.2" y="741.2" width="12.1" height="5.6"/>
<text class="l" x="1143.2" y="745.6" font-size="4.4" textLength="10.5" lengthAdjust="spacingAndGlyphs">C5601</text>
<rect class="c" x="1160.9" y="722.7" width="11.2" height="5.7"/>
<text class="l" x="1166.5" y="727.2" font-size="4.4" textLength="10.4" lengthAdjust="spacingAndGlyphs">R5617</text>
<rect class="c" x="1160.9" y="729" width="11.2" height="5.7"/>
<text class="l b" x="1166.5" y="733.5" font-size="4.4" textLength="10.4" lengthAdjust="spacingAndGlyphs">T5617</text>
<rect class="c" x="1160.9" y="736" width="11.2" height="5.5"/>
<text class="l" x="1166.5" y="740.3" font-size="4.4" textLength="10.4" lengthAdjust="spacingAndGlyphs">R5603</text>
<rect class="c" x="1173.9" y="721.9" width="5" height="11.9"/>
<text class="l" x="1176.4" y="729.4" font-size="4.4" transform="rotate(-90 1176.4 727.8)" textLength="10.5" lengthAdjust="spacingAndGlyphs">C5611</text>
<rect class="c" x="1173.9" y="734" width="5" height="12.2"/>
<text class="l b" x="1176.4" y="741.7" font-size="4.4" transform="rotate(-90 1176.4 740.1)" textLength="10.5" lengthAdjust="spacingAndGlyphs">T5618</text>
<rect class="c" x="1179.9" y="721.9" width="5.6" height="11.9"/>
<text class="l" x="1182.7" y="729.4" font-size="4.4" transform="rotate(-90 1182.7 727.8)" textLength="10.5" lengthAdjust="spacingAndGlyphs">C6409</text>
<rect class="c" x="1179.9" y="734" width="5.6" height="12.2"/>
<text class="l" x="1182.7" y="741.7" font-size="4.4" transform="rotate(-90 1182.7 740.1)" textLength="10.5" lengthAdjust="spacingAndGlyphs">C6410</text>
<text class="Y" x="1177.4" y="763.3" font-size="12" textLength="17.5" lengthAdjust="spacingAndGlyphs">NTC</text>
<circle class="c" cx="1105.6" cy="790.3" r="13.7"/>
<text class="l" x="1105.6" y="791.9" font-size="4.4" textLength="12.5" lengthAdjust="spacingAndGlyphs">TP5718</text>
<rect class="c" x="1119.3" y="773.5" width="45.3" height="35.9"/>
<text class="B" x="1141.2" y="795.8" font-size="10" textLength="27" lengthAdjust="spacingAndGlyphs">J5602</text>
<text class="n" x="1128.7" y="785.7" font-size="9">+</text>
<text class="n" x="1131.2" y="770.1" font-size="4.5">4</text>
<text class="n" x="1158.4" y="771" font-size="4.5">1</text>
<text class="n" x="1136.4" y="815.1" font-size="4.5">5</text>
<text class="n" x="1160.5" y="815.1" font-size="4.5">8</text>
<circle class="c" cx="1176.1" cy="779.7" r="13.7"/>
<text class="l" x="1176.1" y="781.3" font-size="4.4" textLength="12.5" lengthAdjust="spacingAndGlyphs">TP5402</text>
<text class="Y" x="998.3" y="815.8" font-size="11" textLength="10.5" lengthAdjust="spacingAndGlyphs">D-</text>
<text class="Y" x="1013.1" y="815.8" font-size="11" textLength="12" lengthAdjust="spacingAndGlyphs">D+</text>
<text class="Y" x="1030" y="815.8" font-size="11" textLength="16.5" lengthAdjust="spacingAndGlyphs">GND</text>
<text class="Y" x="1049.1" y="815.8" font-size="11" textLength="15.5" lengthAdjust="spacingAndGlyphs">CC1</text>
<text class="Y" x="1088.7" y="816.7" font-size="11" textLength="17.5" lengthAdjust="spacingAndGlyphs">CC2</text>
<text class="Y" x="1111.2" y="816.7" font-size="11" textLength="11" lengthAdjust="spacingAndGlyphs">VS</text>
<text class="Y" x="1128.4" y="817" font-size="11" textLength="10.5" lengthAdjust="spacingAndGlyphs">VT</text>
<circle class="c" cx="1224.9" cy="720.6" r="20.6"/>
<path class="c" d="M1210.6 708.7 L1213.1 708.7 L1213.1 706.2 L1236.8 706.2 L1236.8 708.7 L1239.3 708.7 L1239.3 734.3 L1236.8 736.8 L1210.6 736.8 L1210.6 708.7"/>
<path class="d" d="M1224.9 710 L1224.9 731.2"/>
<path class="d" d="M1224.9 718.7 L1228.7 718.7 L1228.7 726.2 L1224.9 726.2"/>
<text class="B" x="1220.6" y="723" font-size="4.8" transform="rotate(-90 1220.6 721.2)" textLength="11.5" lengthAdjust="spacingAndGlyphs">J6100</text>
<circle class="c" cx="1252.2" cy="748.1" r="16.9"/>
<text class="l b" x="1252.2" y="749.8" font-size="4.8" textLength="11.5" lengthAdjust="spacingAndGlyphs">M5108</text>
<rect class="c" x="1215.6" y="739.3" width="13.1" height="4.6"/>
<text class="l" x="1222.1" y="743.2" font-size="4.4" textLength="10.5" lengthAdjust="spacingAndGlyphs">D6401</text>
<rect class="c" x="1194.3" y="745.6" width="32.5" height="25"/>
<path class="c" d="M1200.6 748.1 L1220.6 748.1 L1220.6 768.7 L1207.5 768.7 L1205 766.2 L1202.5 768.7 L1200.6 768.7 L1200.6 748.1"/>
<text class="B" x="1210" y="760.2" font-size="4.8" textLength="11.5" lengthAdjust="spacingAndGlyphs">J6401</text>
<rect class="c" x="1208.1" y="743.1" width="4.4" height="4.4"/>
<rect class="c" x="1205.6" y="770.6" width="9.4" height="3.4"/>
<rect class="c" x="1192.5" y="727.5" width="12.5" height="6.2"/>
<text class="l" x="1198.7" y="732.2" font-size="4.4" textLength="10.5" lengthAdjust="spacingAndGlyphs">R6402</text>
<rect class="c" x="1187.2" y="721.9" width="5" height="12.1"/>
<text class="l" x="1189.7" y="729.5" font-size="4.4" transform="rotate(-90 1189.7 727.9)" textLength="10.5" lengthAdjust="spacingAndGlyphs">R6403</text>
<circle class="o" cx="1202.5" cy="786.8" r="8.2"/>
<rect class="c" x="1103.7" y="638.7" width="65.6" height="68.7"/>
<path class="d" d="M1103.7 644.4 L1109.3 638.7"/>
<text class="B" x="1136.2" y="677.7" font-size="10.5" textLength="28.7" lengthAdjust="spacingAndGlyphs">U6400</text>
<rect class="c" x="1044.7" y="644.4" width="17.7" height="11.2"/>
<text class="l" x="1053.6" y="652.3" font-size="6.4" textLength="15.2" lengthAdjust="spacingAndGlyphs">C6413</text>
<rect class="c" x="1044.7" y="656.2" width="17.7" height="10"/>
<text class="l" x="1053.6" y="663.5" font-size="6.4" textLength="15.2" lengthAdjust="spacingAndGlyphs">C6412</text>
<rect class="c" x="1063.1" y="646.9" width="12.5" height="5.9"/>
<text class="l" x="1069.3" y="651.4" font-size="4.4" textLength="10.5" lengthAdjust="spacingAndGlyphs">L6404</text>
<rect class="c" x="1076" y="646.9" width="12.5" height="5.9"/>
<text class="l" x="1082.2" y="651.4" font-size="4.4" textLength="10.5" lengthAdjust="spacingAndGlyphs">C6405</text>
<rect class="c" x="1088.7" y="646.9" width="11.9" height="5.9"/>
<text class="l" x="1094.6" y="651.4" font-size="4.4" textLength="10.5" lengthAdjust="spacingAndGlyphs">L6405</text>
<rect class="c" x="1088.5" y="639.7" width="12.1" height="6.5"/>
<text class="l" x="1094.5" y="644.6" font-size="4.4" textLength="10.5" lengthAdjust="spacingAndGlyphs">R6408</text>
<rect class="c" x="1063.1" y="653.7" width="12.5" height="6"/>
<text class="l" x="1069.3" y="658.3" font-size="4.4" textLength="10.5" lengthAdjust="spacingAndGlyphs">L6406</text>
<rect class="c" x="1076" y="653.7" width="12.5" height="6"/>
<text class="l" x="1082.2" y="658.3" font-size="4.4" textLength="10.5" lengthAdjust="spacingAndGlyphs">C6406</text>
<rect class="c" x="1088.7" y="653.7" width="11.9" height="6"/>
<text class="l" x="1094.6" y="658.3" font-size="4.4" textLength="10.5" lengthAdjust="spacingAndGlyphs">L6407</text>
<rect class="c" x="1063.1" y="660.6" width="12.5" height="5.9"/>
<text class="l" x="1069.3" y="665.1" font-size="4.4" textLength="10.5" lengthAdjust="spacingAndGlyphs">R6409</text>
<rect class="c" x="1076" y="660.6" width="12.5" height="5.9"/>
<text class="l" x="1082.2" y="665.1" font-size="4.4" textLength="10.5" lengthAdjust="spacingAndGlyphs">C6411</text>
<rect class="c" x="1088.7" y="660.6" width="11.9" height="5.9"/>
<text class="l" x="1094.6" y="665.1" font-size="4.4" textLength="10.5" lengthAdjust="spacingAndGlyphs">C6410</text>
<rect class="c" x="1076" y="668.7" width="12.5" height="5.6"/>
<text class="l" x="1082.2" y="673.1" font-size="4.4" textLength="10.5" lengthAdjust="spacingAndGlyphs">R6400</text>
<rect class="c" x="1088.7" y="668.7" width="11.9" height="5.6"/>
<text class="l" x="1094.6" y="673.1" font-size="4.4" textLength="10.5" lengthAdjust="spacingAndGlyphs">C6403</text>
<rect class="c" x="1052.5" y="667.5" width="23.1" height="32.5"/>
<text class="l" x="1058.7" y="686" font-size="6.4" transform="rotate(-90 1058.7 683.7)" textLength="15.2" lengthAdjust="spacingAndGlyphs">L6408</text>
<rect class="c" x="1061.5" y="670.2" width="14.1" height="26"/>
<text class="l" x="1068.5" y="684.8" font-size="4.4" transform="rotate(-90 1068.5 683.2)" textLength="10.5" lengthAdjust="spacingAndGlyphs">R6420</text>
<rect class="c" x="1076" y="675" width="10.9" height="17.5"/>
<text class="l" x="1081.4" y="685.3" font-size="4.4" transform="rotate(-90 1081.4 683.7)" textLength="10.5" lengthAdjust="spacingAndGlyphs">C6402</text>
<rect class="c" x="1088.1" y="677.2" width="5.6" height="12.1"/>
<text class="l" x="1090.9" y="684.9" font-size="4.4" transform="rotate(-90 1090.9 683.3)" textLength="10.5" lengthAdjust="spacingAndGlyphs">C6401</text>
<rect class="c" x="1094.3" y="677.2" width="6.2" height="12.1"/>
<text class="l" x="1097.5" y="684.9" font-size="4.4" transform="rotate(-90 1097.5 683.3)" textLength="10.5" lengthAdjust="spacingAndGlyphs">Z6400</text>
<rect class="c" x="1169.9" y="686.2" width="5.6" height="12.5"/>
<text class="l" x="1172.7" y="694" font-size="4.4" transform="rotate(-90 1172.7 692.5)" textLength="10.5" lengthAdjust="spacingAndGlyphs">L6400</text>
<rect class="c" x="1176.2" y="686.8" width="12.5" height="5.6"/>
<text class="l" x="1182.4" y="691.2" font-size="4.4" textLength="10.5" lengthAdjust="spacingAndGlyphs">C6404</text>
<rect class="c" x="1189.6" y="686.2" width="5.9" height="12.5"/>
<text class="l" x="1192.6" y="694" font-size="4.4" transform="rotate(-90 1192.6 692.5)" textLength="10.5" lengthAdjust="spacingAndGlyphs">L6401</text>
<rect class="c" x="1196.8" y="673.7" width="5.6" height="12.5"/>
<text class="l" x="1199.6" y="681.5" font-size="4.4" transform="rotate(-90 1199.6 680)" textLength="10.5" lengthAdjust="spacingAndGlyphs">R6404</text>
<rect class="c" x="1147.4" y="629" width="11.9" height="5.4"/>
<text class="l" x="1153.4" y="633.3" font-size="4.4" textLength="10.5" lengthAdjust="spacingAndGlyphs">L6222</text>
<rect class="c" x="1161.8" y="629.7" width="12.5" height="5.2"/>
<text class="l" x="1168" y="634" font-size="4.4" textLength="10.5" lengthAdjust="spacingAndGlyphs">L6209</text>
<rect class="c" x="1174.9" y="628.7" width="5.6" height="12.5"/>
<text class="l" x="1177.7" y="636.6" font-size="4.4" transform="rotate(-90 1177.7 635)" textLength="10.5" lengthAdjust="spacingAndGlyphs">R6203</text>
<rect class="c" x="1171.8" y="642.2" width="12.5" height="5"/>
<text class="l" x="1178" y="646.3" font-size="4.4" textLength="10.5" lengthAdjust="spacingAndGlyphs">L6226</text>
<rect class="c" x="1185.5" y="625.6" width="11.9" height="5"/>
<text class="l" x="1191.5" y="629.7" font-size="4.4" textLength="10.5" lengthAdjust="spacingAndGlyphs">L6229</text>
<rect class="c" x="1185.9" y="631.2" width="5.2" height="11.9"/>
<text class="l" x="1188.5" y="638.8" font-size="4.4" transform="rotate(-90 1188.5 637.2)" textLength="10.5" lengthAdjust="spacingAndGlyphs">L6228</text>
<rect class="c" x="1192.1" y="631.2" width="5.2" height="11.9"/>
<text class="l" x="1194.8" y="638.8" font-size="4.4" transform="rotate(-90 1194.8 637.2)" textLength="10.5" lengthAdjust="spacingAndGlyphs">R6208</text>
<rect class="c" x="1085.6" y="381.2" width="14.4" height="4.7"/>
<text class="l" x="1092.8" y="385.2" font-size="4.4" textLength="10.5" lengthAdjust="spacingAndGlyphs">L6014</text>
<text class="l" x="1105.6" y="379" font-size="4.3" textLength="10.1" lengthAdjust="spacingAndGlyphs">C6018</text>
<rect class="c" x="1101" y="380.6" width="5.9" height="11.6"/>
<text class="l" x="1103.9" y="388" font-size="4.4" transform="rotate(-90 1103.9 386.4)" textLength="10.5" lengthAdjust="spacingAndGlyphs">C6016</text>
<rect class="c" x="1085.6" y="386.5" width="14.4" height="17"/>
<text class="l" x="1092.8" y="396.6" font-size="4.4" transform="rotate(-90 1092.8 395)" textLength="10.5" lengthAdjust="spacingAndGlyphs">J6001</text>
<rect class="c" x="1100.6" y="392.7" width="12.1" height="16.6"/>
<text class="B" x="1106.2" y="403" font-size="4.8" textLength="11.5" lengthAdjust="spacingAndGlyphs">U6600</text>
<rect class="c" x="1087.2" y="403.7" width="12.5" height="6.5"/>
<text class="l" x="1093.5" y="408.6" font-size="4.4" textLength="10.5" lengthAdjust="spacingAndGlyphs">L6003</text>
<rect class="c" x="1112.7" y="378.1" width="12.2" height="5.9"/>
<text class="l" x="1118.8" y="382.6" font-size="4.4" textLength="10.5" lengthAdjust="spacingAndGlyphs">C6602</text>
<rect class="c" x="1125.2" y="378.1" width="12" height="5.9"/>
<text class="l" x="1131.2" y="382.6" font-size="4.4" textLength="10.5" lengthAdjust="spacingAndGlyphs">C6601</text>
<rect class="c" x="1106.8" y="386.9" width="11.9" height="5.4"/>
<text class="l" x="1112.8" y="391.1" font-size="4.4" textLength="10.5" lengthAdjust="spacingAndGlyphs">D6600</text>
<rect class="c" x="1119" y="386.9" width="5.4" height="5.4"/>
<text class="l" x="1121.6" y="391.1" font-size="4.4" textLength="2.1" lengthAdjust="spacingAndGlyphs">C</text>
<rect class="c" x="1124.7" y="386.2" width="12.5" height="6"/>
<text class="l" x="1131" y="390.8" font-size="4.4" textLength="10.5" lengthAdjust="spacingAndGlyphs">C6607</text>
<rect class="c" x="1119" y="392.7" width="5.4" height="10.4"/>
<text class="l" x="1121.6" y="399.5" font-size="4.4" transform="rotate(-90 1121.6 397.9)" textLength="9.6" lengthAdjust="spacingAndGlyphs">C6610</text>
<rect class="c" x="1112.7" y="392.7" width="6" height="23.5"/>
<rect class="c" x="1119" y="403.7" width="5.4" height="13.7"/>
<text class="l" x="1121.6" y="412.2" font-size="4.4" transform="rotate(-90 1121.6 410.6)" textLength="10.5" lengthAdjust="spacingAndGlyphs">C6604</text>
<rect class="c" x="1125" y="392.7" width="6.2" height="24.7"/>
<text class="l" x="1128.1" y="406.7" font-size="4.4" transform="rotate(-90 1128.1 405.1)" textLength="20.9" lengthAdjust="spacingAndGlyphs">C6605L6606</text>
<rect class="c" x="1138.9" y="390.6" width="5.4" height="12.5"/>
<text class="l" x="1141.6" y="398.4" font-size="4.4" transform="rotate(-90 1141.6 396.9)" textLength="10.5" lengthAdjust="spacingAndGlyphs">C6608</text>
<text class="l" x="1119.3" y="421.2" font-size="4.3" textLength="10.1" lengthAdjust="spacingAndGlyphs">C6604</text>
<rect class="c" x="1135.9" y="403.5" width="12.1" height="5.5"/>
<text class="l" x="1142" y="407.8" font-size="4.4" textLength="10.5" lengthAdjust="spacingAndGlyphs">L6500</text>
<rect class="c" x="1131.5" y="409.7" width="15.4" height="16.5"/>
<text class="l" x="1139.1" y="419.5" font-size="4.4" transform="rotate(-90 1139.1 418)" textLength="10.5" lengthAdjust="spacingAndGlyphs">Z6501</text>
<rect class="c" x="1147.4" y="417.5" width="5.6" height="11"/>
<text class="l" x="1150.3" y="424.5" font-size="4.4" transform="rotate(-90 1150.3 423)" textLength="10.2" lengthAdjust="spacingAndGlyphs">C6541</text>
<rect class="c" x="1121.8" y="427.5" width="11.9" height="4.4"/>
<text class="l" x="1127.8" y="431.2" font-size="4.4" textLength="10.5" lengthAdjust="spacingAndGlyphs">L6608</text>
<rect class="c" x="1134" y="427.5" width="12.2" height="4.4"/>
<text class="l" x="1140.1" y="431.2" font-size="4.4" textLength="10.5" lengthAdjust="spacingAndGlyphs">L6504</text>
<rect class="c" x="1125.6" y="434" width="16.9" height="13.5"/>
<text class="l" x="1134" y="442.3" font-size="4.4" textLength="10.5" lengthAdjust="spacingAndGlyphs">Z6602</text>
<rect class="c" x="1083.1" y="416.8" width="12.1" height="5.4"/>
<text class="l" x="1089.2" y="421.1" font-size="4.4" textLength="10.5" lengthAdjust="spacingAndGlyphs">C6002</text>
<rect class="c" x="1084" y="423.7" width="11.2" height="4.7"/>
<text class="l" x="1089.6" y="427.7" font-size="4.4" textLength="10.4" lengthAdjust="spacingAndGlyphs">L6501</text>
<rect class="c" x="1085.6" y="429.3" width="15" height="17.1"/>
<text class="l" x="1093.1" y="439.5" font-size="4.4" transform="rotate(-90 1093.1 437.9)" textLength="10.5" lengthAdjust="spacingAndGlyphs">Z6500</text>
<rect class="c" x="1101.2" y="434" width="5.6" height="12.2"/>
<text class="l" x="1104" y="441.7" font-size="4.4" transform="rotate(-90 1104 440.1)" textLength="10.5" lengthAdjust="spacingAndGlyphs">L6503</text>
<text class="l" x="1077.2" y="459.6" font-size="4.3" transform="rotate(-90 1077.2 458.1)" textLength="10.1" lengthAdjust="spacingAndGlyphs">D6000</text>
<rect class="c" x="1080.6" y="451.8" width="6.6" height="16.9"/>
<text class="l" x="1083.9" y="461.8" font-size="4.4" transform="rotate(-90 1083.9 460.2)" textLength="10.5" lengthAdjust="spacingAndGlyphs">C6011</text>
<rect class="c" x="1087.7" y="451.2" width="13.7" height="17.5"/>
<text class="l" x="1094.6" y="461.5" font-size="4.4" transform="rotate(-90 1094.6 459.9)" textLength="12.5" lengthAdjust="spacingAndGlyphs">TL6002</text>
<rect class="c" x="1150.2" y="374.7" width="29.7" height="28.4"/>
<text class="l" x="1165.1" y="390.5" font-size="4.4" textLength="10.5" lengthAdjust="spacingAndGlyphs">U6500</text>
<path class="d" d="M1150.2 380.6 L1156.2 374.7"/>
<rect class="c" x="1153.7" y="403.7" width="5.6" height="12.2"/>
<text class="l" x="1156.5" y="411.4" font-size="4.4" transform="rotate(-90 1156.5 409.8)" textLength="10.5" lengthAdjust="spacingAndGlyphs">C6500</text>
<rect class="c" x="1159.9" y="403.7" width="5.6" height="12.2"/>
<text class="l" x="1162.7" y="411.4" font-size="4.4" transform="rotate(-90 1162.7 409.8)" textLength="10.5" lengthAdjust="spacingAndGlyphs">C6501</text>
<rect class="c" x="1166.2" y="403.7" width="6" height="12.2"/>
<text class="l" x="1169.2" y="411.4" font-size="4.4" transform="rotate(-90 1169.2 409.8)" textLength="10.5" lengthAdjust="spacingAndGlyphs">C6503</text>
<rect class="c" x="1172.7" y="403.7" width="6" height="12.2"/>
<text class="l" x="1175.7" y="411.4" font-size="4.4" transform="rotate(-90 1175.7 409.8)" textLength="10.5" lengthAdjust="spacingAndGlyphs">C6504</text>
<rect class="c" x="1154.3" y="422.5" width="5.4" height="12.5"/>
<text class="l" x="1157" y="430.3" font-size="4.4" transform="rotate(-90 1157 428.7)" textLength="10.5" lengthAdjust="spacingAndGlyphs">L6509</text>
<rect class="c" x="1159.7" y="420.6" width="17.1" height="14.4"/>
<text class="l" x="1168.2" y="429.4" font-size="4.4" textLength="10.5" lengthAdjust="spacingAndGlyphs">Z6503</text>
<rect class="c" x="1150.6" y="436.5" width="12.5" height="4.7"/>
<text class="l" x="1156.8" y="440.4" font-size="4.4" textLength="10.5" lengthAdjust="spacingAndGlyphs">C6509</text>
<rect class="c" x="1164.3" y="435.6" width="5.6" height="11.9"/>
<text class="l" x="1167.1" y="443.1" font-size="4.4" transform="rotate(-90 1167.1 441.5)" textLength="10.5" lengthAdjust="spacingAndGlyphs">L6510</text>
<rect class="c" x="1170.6" y="435.6" width="5.4" height="11.9"/>
<text class="l" x="1173.2" y="443.1" font-size="4.4" transform="rotate(-90 1173.2 441.5)" textLength="10.5" lengthAdjust="spacingAndGlyphs">L6511</text>
<rect class="c" x="1143.9" y="442.4" width="6" height="11.9"/>
<text class="l" x="1146.9" y="450" font-size="4.4" transform="rotate(-90 1146.9 448.4)" textLength="10.5" lengthAdjust="spacingAndGlyphs">L6517</text>
<rect class="c" x="1150.6" y="441.8" width="6.2" height="12.5"/>
<text class="l" x="1153.7" y="449.7" font-size="4.4" transform="rotate(-90 1153.7 448.1)" textLength="10.5" lengthAdjust="spacingAndGlyphs">C6520</text>
<rect class="c" x="1157.4" y="442.4" width="6.2" height="11.9"/>
<text class="l" x="1160.6" y="450" font-size="4.4" transform="rotate(-90 1160.6 448.4)" textLength="10.5" lengthAdjust="spacingAndGlyphs">L6519</text>
<rect class="c" x="1164.7" y="448.4" width="11.5" height="5"/>
<text class="l" x="1170.4" y="452.5" font-size="4.4" textLength="10.5" lengthAdjust="spacingAndGlyphs">L6529</text>
<rect class="c" x="1141.2" y="455.6" width="10.6" height="5.4"/>
<text class="l" x="1146.5" y="459.8" font-size="4.4" textLength="9.8" lengthAdjust="spacingAndGlyphs">C6511</text>
<rect class="c" x="1152.2" y="455.6" width="12.1" height="5.4"/>
<text class="l" x="1158.2" y="459.8" font-size="4.4" textLength="10.5" lengthAdjust="spacingAndGlyphs">L6600</text>
<rect class="c" x="1164.7" y="455.6" width="11.5" height="5.4"/>
<text class="l" x="1170.4" y="459.8" font-size="4.4" textLength="10.5" lengthAdjust="spacingAndGlyphs">L6601</text>
<rect class="c" x="1185.5" y="390.6" width="6.2" height="11.9"/>
<text class="l" x="1188.7" y="398.1" font-size="4.4" transform="rotate(-90 1188.7 396.5)" textLength="10.5" lengthAdjust="spacingAndGlyphs">L6526</text>
<rect class="c" x="1184.9" y="403.5" width="12.5" height="5.5"/>
<text class="l" x="1191.2" y="407.8" font-size="4.4" textLength="10.5" lengthAdjust="spacingAndGlyphs">L6515</text>
<rect class="c" x="1182.4" y="409.3" width="14.4" height="16.9"/>
<text class="l" x="1189.6" y="419.4" font-size="4.4" transform="rotate(-90 1189.6 417.8)" textLength="10.5" lengthAdjust="spacingAndGlyphs">Z6504</text>
<rect class="c" x="1184.3" y="427.5" width="12.5" height="4.7"/>
<text class="l" x="1190.5" y="431.4" font-size="4.4" textLength="10.5" lengthAdjust="spacingAndGlyphs">L6513</text>
<rect class="c" x="1178" y="434.3" width="11.6" height="4.6"/>
<text class="l" x="1183.9" y="438.2" font-size="4.4" textLength="10.5" lengthAdjust="spacingAndGlyphs">L6518</text>
<rect class="c" x="1178" y="440.9" width="11.6" height="5"/>
<text class="l" x="1183.9" y="445" font-size="4.4" textLength="10.5" lengthAdjust="spacingAndGlyphs">C6512</text>
<rect class="c" x="1178.7" y="447.4" width="11" height="5"/>
<text class="l" x="1184.2" y="451.5" font-size="4.4" textLength="10.2" lengthAdjust="spacingAndGlyphs">L6541</text>
<rect class="c" x="1190.5" y="435" width="5.6" height="11.9"/>
<text class="l" x="1193.4" y="442.5" font-size="4.4" transform="rotate(-90 1193.4 440.9)" textLength="10.5" lengthAdjust="spacingAndGlyphs">C6513</text>
<rect class="c" x="1190.5" y="448.9" width="11.6" height="5"/>
<text class="l" x="1196.3" y="453" font-size="4.4" textLength="10.5" lengthAdjust="spacingAndGlyphs">L6544</text>
<rect class="c" x="1196.8" y="436.5" width="11.9" height="4.7"/>
<text class="l" x="1202.7" y="440.4" font-size="4.4" textLength="10.5" lengthAdjust="spacingAndGlyphs">L6516</text>
<rect class="c" x="1203.7" y="441.8" width="5.6" height="11.9"/>
<text class="l" x="1206.5" y="449.3" font-size="4.4" transform="rotate(-90 1206.5 447.8)" textLength="10.5" lengthAdjust="spacingAndGlyphs">C6545</text>
<rect class="c" x="1184.3" y="453.1" width="5.6" height="11.9"/>
<text class="l" x="1187.1" y="460.6" font-size="4.4" transform="rotate(-90 1187.1 459)" textLength="10.5" lengthAdjust="spacingAndGlyphs">L6548</text>
<rect class="c" x="1196.8" y="454.9" width="11.9" height="5"/>
<text class="l" x="1202.7" y="459" font-size="4.4" textLength="10.5" lengthAdjust="spacingAndGlyphs">L6519</text>
<rect class="c" x="1200.5" y="397.5" width="6.2" height="12.5"/>
<text class="l" x="1203.7" y="405.3" font-size="4.4" transform="rotate(-90 1203.7 403.7)" textLength="10.5" lengthAdjust="spacingAndGlyphs">C6514</text>
<rect class="c" x="1200.5" y="411.5" width="11.2" height="5"/>
<text class="l" x="1206.2" y="415.6" font-size="4.4" textLength="10.4" lengthAdjust="spacingAndGlyphs">L6517</text>
<rect class="c" x="1197.4" y="416.8" width="13.7" height="16.9"/>
<text class="l" x="1204.3" y="426.9" font-size="4.4" transform="rotate(-90 1204.3 425.3)" textLength="10.5" lengthAdjust="spacingAndGlyphs">Z6505</text>
<rect class="c" x="1213.9" y="402.5" width="6.6" height="24.4"/>
<text class="l" x="1217.2" y="416.2" font-size="4.4" transform="rotate(-90 1217.2 414.7)" textLength="20.9" lengthAdjust="spacingAndGlyphs">C6615C6609</text>
<rect class="c" x="1213" y="428.5" width="12.5" height="5"/>
<text class="l" x="1219.3" y="432.5" font-size="4.4" textLength="10.5" lengthAdjust="spacingAndGlyphs">L6524</text>
<rect class="c" x="1211.2" y="434.3" width="13.7" height="16.2"/>
<text class="l" x="1218" y="444" font-size="4.4" transform="rotate(-90 1218 442.4)" textLength="10.5" lengthAdjust="spacingAndGlyphs">Z6606</text>
<rect class="c" x="1225.5" y="434.3" width="14.1" height="16.2"/>
<text class="l" x="1232.6" y="444" font-size="4.4" transform="rotate(-90 1232.6 442.4)" textLength="10.5" lengthAdjust="spacingAndGlyphs">Z6608</text>
<rect class="c" x="1212.4" y="451.8" width="12.5" height="5"/>
<text class="l" x="1218.6" y="455.9" font-size="4.4" textLength="10.5" lengthAdjust="spacingAndGlyphs">L6625</text>
<rect class="c" x="1226.4" y="451.8" width="12.5" height="5"/>
<text class="l" x="1232.6" y="455.9" font-size="4.4" textLength="10.5" lengthAdjust="spacingAndGlyphs">L6634</text>
<rect class="c" x="1229.3" y="387.7" width="5.6" height="12.2"/>
<text class="l" x="1232.1" y="395.4" font-size="4.4" transform="rotate(-90 1232.1 393.9)" textLength="10.5" lengthAdjust="spacingAndGlyphs">C6610</text>
<rect class="c" x="1228.6" y="401.2" width="11.9" height="5.2"/>
<text class="l" x="1234.6" y="405.4" font-size="4.4" textLength="10.5" lengthAdjust="spacingAndGlyphs">L6602</text>
<rect class="c" x="1223.6" y="408.7" width="16.9" height="11.5"/>
<path class="d" d="M1223.6 416.2 L1226.8 420.2"/>
<text class="B" x="1232.4" y="416.3" font-size="4.8" textLength="11.5" lengthAdjust="spacingAndGlyphs">U6601</text>
<rect class="c" x="1229.3" y="421.5" width="5.6" height="11.6"/>
<text class="l" x="1232.1" y="428.9" font-size="4.4" transform="rotate(-90 1232.1 427.3)" textLength="10.5" lengthAdjust="spacingAndGlyphs">L6636</text>
<rect class="c" x="1235.9" y="421.5" width="5.2" height="11.6"/>
<text class="l" x="1238.5" y="428.9" font-size="4.4" transform="rotate(-90 1238.5 427.3)" textLength="10.5" lengthAdjust="spacingAndGlyphs">D6621</text>
<rect class="c" x="1159.3" y="473.7" width="46.8" height="46.8"/>
<rect class="c" x="1159.3" y="520.6" width="41.8" height="11.9"/>
<path class="d" d="M1159.3 479.4 L1164.9 473.7"/>
<text class="B" x="1181.8" y="502.1" font-size="10.5" textLength="28.7" lengthAdjust="spacingAndGlyphs">U6000</text>
<rect class="c" x="1145.2" y="462.2" width="12.2" height="5.2"/>
<text class="l" x="1151.3" y="466.5" font-size="4.4" textLength="10.5" lengthAdjust="spacingAndGlyphs">C6505</text>
<rect class="c" x="1158.1" y="461.9" width="5.4" height="11.9"/>
<text class="l" x="1160.8" y="469.4" font-size="4.4" transform="rotate(-90 1160.8 467.8)" textLength="10.5" lengthAdjust="spacingAndGlyphs">L6504</text>
<rect class="c" x="1164.3" y="462.2" width="11.9" height="5.2"/>
<text class="l" x="1170.3" y="466.5" font-size="4.4" textLength="10.5" lengthAdjust="spacingAndGlyphs">L6502</text>
<rect class="c" x="1193.9" y="461.2" width="5.7" height="11.2"/>
<text class="l" x="1196.8" y="468.5" font-size="4.4" transform="rotate(-90 1196.8 466.9)" textLength="10.4" lengthAdjust="spacingAndGlyphs">L6512</text>
<rect class="c" x="1200.9" y="461.2" width="5.5" height="11.2"/>
<text class="l" x="1203.7" y="468.5" font-size="4.4" transform="rotate(-90 1203.7 466.9)" textLength="10.4" lengthAdjust="spacingAndGlyphs">L6516</text>
<rect class="c" x="1207.2" y="463.1" width="12.1" height="5"/>
<text class="l" x="1213.2" y="467.2" font-size="4.4" textLength="10.5" lengthAdjust="spacingAndGlyphs">C6532</text>
<rect class="c" x="1219.9" y="458.7" width="5.6" height="12.5"/>
<text class="l" x="1222.7" y="466.6" font-size="4.4" transform="rotate(-90 1222.7 465)" textLength="10.5" lengthAdjust="spacingAndGlyphs">C6612</text>
<rect class="c" x="1219.9" y="471.2" width="5.6" height="11.9"/>
<text class="l" x="1222.7" y="478.8" font-size="4.4" transform="rotate(-90 1222.7 477.2)" textLength="10.5" lengthAdjust="spacingAndGlyphs">L6606</text>
<rect class="c" x="1226.8" y="464.4" width="5.9" height="12.5"/>
<text class="l" x="1229.7" y="472.2" font-size="4.4" transform="rotate(-90 1229.7 470.6)" textLength="10.5" lengthAdjust="spacingAndGlyphs">C6614</text>
<rect class="c" x="1207.2" y="469.7" width="12.1" height="5"/>
<text class="l" x="1213.2" y="473.8" font-size="4.4" textLength="10.5" lengthAdjust="spacingAndGlyphs">L6625</text>
<rect class="c" x="1207.2" y="476.5" width="12.1" height="5"/>
<text class="l" x="1213.2" y="480.6" font-size="4.4" textLength="10.5" lengthAdjust="spacingAndGlyphs">L6633</text>
<rect class="c" x="1208" y="483.1" width="11.2" height="5"/>
<text class="l" x="1213.7" y="487.2" font-size="4.4" textLength="10.4" lengthAdjust="spacingAndGlyphs">L6607</text>
<rect class="c" x="1219.7" y="484.4" width="12.1" height="4.6"/>
<text class="l" x="1225.7" y="488.3" font-size="4.4" textLength="10.5" lengthAdjust="spacingAndGlyphs">L6508</text>
<rect class="c" x="1226.4" y="477.7" width="11.6" height="5"/>
<text class="l" x="1232.2" y="481.8" font-size="4.4" textLength="10.5" lengthAdjust="spacingAndGlyphs">C6613</text>
<rect class="c" x="1241.8" y="457.7" width="12.5" height="5"/>
<text class="l" x="1248" y="461.8" font-size="4.4" textLength="10.5" lengthAdjust="spacingAndGlyphs">L6507</text>
<rect class="c" x="1238.7" y="471.2" width="11.9" height="5"/>
<text class="l" x="1244.6" y="475.3" font-size="4.4" textLength="10.5" lengthAdjust="spacingAndGlyphs">L6521</text>
<rect class="c" x="1239.3" y="477.5" width="5.4" height="11.9"/>
<text class="l" x="1242" y="485" font-size="4.4" transform="rotate(-90 1242 483.4)" textLength="10.5" lengthAdjust="spacingAndGlyphs">L6546</text>
<rect class="c" x="1246.1" y="477.5" width="5.2" height="11.9"/>
<text class="l" x="1248.8" y="485" font-size="4.4" transform="rotate(-90 1248.8 483.4)" textLength="10.5" lengthAdjust="spacingAndGlyphs">L6540</text>
<rect class="c" x="1096.2" y="468.7" width="6.2" height="6.2"/>
<rect class="c" x="1103.1" y="463.7" width="5" height="11.2"/>
<text class="l" x="1105.6" y="471" font-size="4.4" transform="rotate(-90 1105.6 469.4)" textLength="10.4" lengthAdjust="spacingAndGlyphs">C6012</text>
<rect class="c" x="1109.4" y="463.7" width="5" height="11.2"/>
<text class="l" x="1111.9" y="471" font-size="4.4" transform="rotate(-90 1111.9 469.4)" textLength="10.4" lengthAdjust="spacingAndGlyphs">C6015</text>
<rect class="c" x="1115" y="463.1" width="12.2" height="5.4"/>
<text class="l" x="1121.1" y="467.4" font-size="4.4" textLength="10.5" lengthAdjust="spacingAndGlyphs">C6006</text>
<rect class="c" x="1115" y="469.4" width="12.2" height="5.4"/>
<text class="l" x="1121.1" y="473.6" font-size="4.4" textLength="10.5" lengthAdjust="spacingAndGlyphs">L6010</text>
<text class="l" x="1102.5" y="480" font-size="4.3" textLength="10.1" lengthAdjust="spacingAndGlyphs">C6013</text>
<rect class="c" x="1137.5" y="475.6" width="6.9" height="12.1"/>
<text class="l" x="1140.9" y="483.3" font-size="4.4" transform="rotate(-90 1140.9 481.7)" textLength="10.5" lengthAdjust="spacingAndGlyphs">C6001</text>
<rect class="c" x="1145.2" y="475.6" width="5.4" height="12.1"/>
<text class="l" x="1147.9" y="483.3" font-size="4.4" transform="rotate(-90 1147.9 481.7)" textLength="10.5" lengthAdjust="spacingAndGlyphs">C6008</text>
<rect class="c" x="1151.2" y="475.6" width="6.2" height="12.1"/>
<text class="l" x="1154.3" y="483.3" font-size="4.4" transform="rotate(-90 1154.3 481.7)" textLength="10.5" lengthAdjust="spacingAndGlyphs">C6009</text>
<rect class="c" x="1106" y="486" width="12.1" height="5.9"/>
<text class="l" x="1112" y="490.5" font-size="4.4" textLength="10.5" lengthAdjust="spacingAndGlyphs">R6000</text>
<rect class="c" x="1118.5" y="486" width="12.1" height="5.9"/>
<text class="l" x="1124.5" y="490.5" font-size="4.4" textLength="10.5" lengthAdjust="spacingAndGlyphs">C6000</text>
<rect class="c" x="1081.5" y="491.9" width="12" height="5.6"/>
<text class="l" x="1087.5" y="496.2" font-size="4.4" textLength="10.5" lengthAdjust="spacingAndGlyphs">R6001</text>
<rect class="c" x="1081.2" y="500" width="26.5" height="14.4"/>
<text class="l" x="1094.5" y="508.7" font-size="4.4" textLength="10.5" lengthAdjust="spacingAndGlyphs">C6007</text>
<rect class="c" x="1145.2" y="489.7" width="12.2" height="5.2"/>
<text class="l" x="1151.3" y="493.9" font-size="4.4" textLength="10.5" lengthAdjust="spacingAndGlyphs">C6004</text>
<rect class="c" x="1145.2" y="498.7" width="12.2" height="5.2"/>
<text class="l" x="1151.3" y="502.9" font-size="4.4" textLength="10.5" lengthAdjust="spacingAndGlyphs">C6003</text>
<rect class="c" x="1138.7" y="498.7" width="6" height="11.9"/>
<text class="l" x="1141.7" y="506.2" font-size="4.4" transform="rotate(-90 1141.7 504.7)" textLength="10.5" lengthAdjust="spacingAndGlyphs">C6002</text>
<rect class="c" x="1206.8" y="493.1" width="11.9" height="5.4"/>
<text class="l" x="1212.7" y="497.4" font-size="4.4" textLength="10.5" lengthAdjust="spacingAndGlyphs">C6005</text>
<rect class="c" x="1221.8" y="493.1" width="11.6" height="5.4"/>
<text class="l" x="1227.6" y="497.4" font-size="4.4" textLength="10.5" lengthAdjust="spacingAndGlyphs">C6006</text>
<rect class="c" x="1208.9" y="501" width="12.2" height="5.2"/>
<text class="l" x="1215" y="505.2" font-size="4.4" textLength="10.5" lengthAdjust="spacingAndGlyphs">L6203</text>
<rect class="c" x="1221.8" y="501" width="11.6" height="5.2"/>
<text class="l" x="1227.6" y="505.2" font-size="4.4" textLength="10.5" lengthAdjust="spacingAndGlyphs">L6202</text>
<rect class="c" x="1233.9" y="499" width="12" height="5.4"/>
<text class="l" x="1239.9" y="503.2" font-size="4.4" textLength="10.5" lengthAdjust="spacingAndGlyphs">C6202</text>
<rect class="c" x="1209.7" y="507.7" width="11.5" height="5"/>
<text class="l" x="1215.4" y="511.8" font-size="4.4" textLength="10.5" lengthAdjust="spacingAndGlyphs">L6129</text>
<rect class="c" x="1221.8" y="507.7" width="11.6" height="5"/>
<text class="l" x="1227.6" y="511.8" font-size="4.4" textLength="10.5" lengthAdjust="spacingAndGlyphs">L6128</text>
<rect class="c" x="1233.9" y="505.6" width="12" height="5.4"/>
<text class="l" x="1239.9" y="509.9" font-size="4.4" textLength="10.5" lengthAdjust="spacingAndGlyphs">C6238</text>
<rect class="c" x="1206.8" y="514.3" width="11.6" height="5"/>
<text class="l" x="1212.6" y="518.4" font-size="4.4" textLength="10.5" lengthAdjust="spacingAndGlyphs">L6141</text>
<rect class="c" x="1219.3" y="514.3" width="11.2" height="5"/>
<text class="l" x="1224.9" y="518.4" font-size="4.4" textLength="10.4" lengthAdjust="spacingAndGlyphs">L6143</text>
<rect class="c" x="1233.9" y="512.2" width="12" height="5.2"/>
<text class="l" x="1239.9" y="516.4" font-size="4.4" textLength="10.5" lengthAdjust="spacingAndGlyphs">C6104</text>
<rect class="c" x="1233.9" y="519" width="12" height="5"/>
<text class="l" x="1239.9" y="523" font-size="4.4" textLength="10.5" lengthAdjust="spacingAndGlyphs">C6102</text>
<rect class="c" x="1201.8" y="522.5" width="10.9" height="4.7"/>
<text class="l" x="1207.2" y="526.4" font-size="4.4" textLength="10.1" lengthAdjust="spacingAndGlyphs">L6211</text>
<rect class="c" x="1214.3" y="521.2" width="5.9" height="11.5"/>
<text class="l" x="1217.2" y="528.5" font-size="4.4" transform="rotate(-90 1217.2 527)" textLength="10.5" lengthAdjust="spacingAndGlyphs">L6212</text>
<rect class="c" x="1221.2" y="521.2" width="5.6" height="11.5"/>
<text class="l" x="1224" y="528.5" font-size="4.4" transform="rotate(-90 1224 527)" textLength="10.5" lengthAdjust="spacingAndGlyphs">C6100</text>
<rect class="c" x="1227.4" y="521.2" width="5.2" height="11.5"/>
<text class="l" x="1230" y="528.5" font-size="4.4" transform="rotate(-90 1230 527)" textLength="10.5" lengthAdjust="spacingAndGlyphs">C6105</text>
<rect class="c" x="1121.8" y="521.2" width="12.5" height="5.2"/>
<text class="l" x="1128.1" y="525.4" font-size="4.4" textLength="10.5" lengthAdjust="spacingAndGlyphs">C6311</text>
<rect class="c" x="1135" y="521.2" width="12.2" height="5.2"/>
<text class="l" x="1141.1" y="525.4" font-size="4.4" textLength="10.5" lengthAdjust="spacingAndGlyphs">C6312</text>
<rect class="c" x="1147.7" y="522.2" width="11.6" height="5"/>
<text class="l" x="1153.5" y="526.3" font-size="4.4" textLength="10.5" lengthAdjust="spacingAndGlyphs">L6304</text>
<rect class="c" x="1121.8" y="528.1" width="12.5" height="5"/>
<text class="l" x="1128.1" y="532.2" font-size="4.4" textLength="10.5" lengthAdjust="spacingAndGlyphs">C6228</text>
<rect class="c" x="1135" y="528.1" width="12.2" height="5"/>
<text class="l" x="1141.1" y="532.2" font-size="4.4" textLength="10.5" lengthAdjust="spacingAndGlyphs">C6322</text>
<rect class="c" x="1147.7" y="529" width="11.6" height="4.7"/>
<text class="l" x="1153.5" y="532.9" font-size="4.4" textLength="10.5" lengthAdjust="spacingAndGlyphs">L6307</text>
<rect class="c" x="1122.5" y="535" width="12.2" height="5"/>
<text class="l" x="1128.6" y="539" font-size="4.4" textLength="10.5" lengthAdjust="spacingAndGlyphs">C6307</text>
<rect class="c" x="1135" y="535" width="12.2" height="5"/>
<text class="l" x="1141.1" y="539" font-size="4.4" textLength="10.5" lengthAdjust="spacingAndGlyphs">C6306</text>
<rect class="c" x="1147.7" y="535.6" width="11.6" height="5"/>
<text class="l" x="1153.5" y="539.7" font-size="4.4" textLength="10.5" lengthAdjust="spacingAndGlyphs">L6300</text>
<rect class="c" x="1085.6" y="536.8" width="12.5" height="5.4"/>
<text class="l" x="1091.9" y="541.1" font-size="4.4" textLength="10.5" lengthAdjust="spacingAndGlyphs">C6217</text>
<rect class="c" x="1080" y="542.4" width="18.7" height="22.5"/>
<text class="l" x="1089.4" y="555.3" font-size="4.4" textLength="10.5" lengthAdjust="spacingAndGlyphs">Z6305</text>
<path class="d" d="M1093.7 542.4 L1098.7 547.4"/>
<rect class="c" x="1112.2" y="540.6" width="24.6" height="20.6"/>
<text class="l" x="1124.5" y="552.5" font-size="4.4" textLength="10.5" lengthAdjust="spacingAndGlyphs">Z6300</text>
<path class="d" d="M1131.8 540.6 L1136.8 545.6"/>
<rect class="c" x="1137.5" y="541.2" width="6.2" height="22.5"/>
<text class="l" x="1140.6" y="554" font-size="4.4" transform="rotate(-90 1140.6 552.4)" textLength="20.9" lengthAdjust="spacingAndGlyphs">L6333C6330</text>
<rect class="c" x="1144.7" y="546.8" width="11.7" height="5.4"/>
<text class="l" x="1150.6" y="551.1" font-size="4.4" textLength="10.5" lengthAdjust="spacingAndGlyphs">C6314</text>
<rect class="c" x="1162.4" y="533.7" width="5.6" height="11.9"/>
<text class="l" x="1165.3" y="541.2" font-size="4.4" transform="rotate(-90 1165.3 539.6)" textLength="10.5" lengthAdjust="spacingAndGlyphs">L6308</text>
<rect class="c" x="1168.9" y="535" width="5" height="10.6"/>
<text class="l" x="1171.4" y="541.8" font-size="4.4" transform="rotate(-90 1171.4 540.3)" textLength="9.8" lengthAdjust="spacingAndGlyphs">L6311</text>
<rect class="c" x="1174.7" y="534.3" width="12.1" height="5.4"/>
<text class="l" x="1180.7" y="538.6" font-size="4.4" textLength="10.5" lengthAdjust="spacingAndGlyphs">L6306</text>
<rect class="c" x="1174.7" y="541.2" width="12.1" height="5"/>
<text class="l" x="1180.7" y="545.3" font-size="4.4" textLength="10.5" lengthAdjust="spacingAndGlyphs">L6260</text>
<rect class="c" x="1187.4" y="531.8" width="5.6" height="11.9"/>
<text class="l" x="1190.2" y="539.3" font-size="4.4" transform="rotate(-90 1190.2 537.8)" textLength="10.5" lengthAdjust="spacingAndGlyphs">L6204</text>
<rect class="c" x="1193.9" y="531.8" width="5.7" height="11.9"/>
<text class="l" x="1196.8" y="539.3" font-size="4.4" transform="rotate(-90 1196.8 537.8)" textLength="10.5" lengthAdjust="spacingAndGlyphs">L6210</text>
<rect class="c" x="1200.5" y="531.8" width="5.6" height="11.9"/>
<text class="l" x="1203.4" y="539.3" font-size="4.4" transform="rotate(-90 1203.4 537.8)" textLength="10.5" lengthAdjust="spacingAndGlyphs">L6211</text>
<rect class="c" x="1207.4" y="531.8" width="5.2" height="11.9"/>
<text class="l" x="1210" y="539.3" font-size="4.4" transform="rotate(-90 1210 537.8)" textLength="10.5" lengthAdjust="spacingAndGlyphs">C6208</text>
<rect class="c" x="1214.3" y="533.1" width="5.9" height="11.9"/>
<text class="l" x="1217.2" y="540.6" font-size="4.4" transform="rotate(-90 1217.2 539)" textLength="10.5" lengthAdjust="spacingAndGlyphs">C6205</text>
<rect class="c" x="1220.9" y="533.7" width="11.7" height="5.2"/>
<text class="l" x="1226.8" y="537.9" font-size="4.4" textLength="10.5" lengthAdjust="spacingAndGlyphs">C6215</text>
<rect class="c" x="1220.9" y="540.6" width="11.7" height="5"/>
<text class="l" x="1226.8" y="544.7" font-size="4.4" textLength="10.5" lengthAdjust="spacingAndGlyphs">L6227</text>
<rect class="c" x="1188.7" y="544.9" width="11.9" height="5.2"/>
<text class="l" x="1194.6" y="549.2" font-size="4.4" textLength="10.5" lengthAdjust="spacingAndGlyphs">L6201</text>
<rect class="c" x="1157.2" y="546.2" width="5" height="11.9"/>
<text class="l" x="1159.7" y="553.7" font-size="4.4" transform="rotate(-90 1159.7 552.1)" textLength="10.5" lengthAdjust="spacingAndGlyphs">D6313</text>
<rect class="c" x="1163.1" y="548.1" width="12.1" height="5"/>
<text class="l" x="1169.1" y="552.1" font-size="4.4" textLength="10.5" lengthAdjust="spacingAndGlyphs">C6308</text>
<rect class="c" x="1163.1" y="554.9" width="12.1" height="5"/>
<text class="l" x="1169.1" y="559" font-size="4.4" textLength="10.5" lengthAdjust="spacingAndGlyphs">C6309</text>
<rect class="c" x="1179.9" y="547.2" width="6.2" height="11.5"/>
<text class="l" x="1183.1" y="554.5" font-size="4.4" transform="rotate(-90 1183.1 552.9)" textLength="10.5" lengthAdjust="spacingAndGlyphs">D6204</text>
<rect class="c" x="1188.7" y="550.6" width="5.2" height="11.9"/>
<text class="l" x="1191.3" y="558.1" font-size="4.4" transform="rotate(-90 1191.3 556.5)" textLength="10.5" lengthAdjust="spacingAndGlyphs">C6206</text>
<rect class="c" x="1194.9" y="550.6" width="5.6" height="11.9"/>
<text class="l" x="1197.7" y="558.1" font-size="4.4" transform="rotate(-90 1197.7 556.5)" textLength="10.5" lengthAdjust="spacingAndGlyphs">C6207</text>
<rect class="c" x="1209.7" y="545.6" width="23.4" height="19.4"/>
<text class="l" x="1221.3" y="556.8" font-size="4.4" textLength="10.5" lengthAdjust="spacingAndGlyphs">Z6203</text>
<path class="d" d="M1228 545.6 L1233 550.6"/>
<rect class="c" x="1234.7" y="552.7" width="12.1" height="5.4"/>
<text class="l" x="1240.7" y="557" font-size="4.4" textLength="10.5" lengthAdjust="spacingAndGlyphs">L6235</text>
<rect class="c" x="1114.7" y="561.9" width="12.5" height="5"/>
<text class="l" x="1121" y="566" font-size="4.4" textLength="10.5" lengthAdjust="spacingAndGlyphs">L6325</text>
<rect class="c" x="1121.5" y="567.5" width="5.7" height="11.9"/>
<text class="l" x="1124.3" y="575" font-size="4.4" transform="rotate(-90 1124.3 573.4)" textLength="10.5" lengthAdjust="spacingAndGlyphs">L6324</text>
<rect class="c" x="1121.8" y="581.2" width="11.9" height="5"/>
<text class="l" x="1127.8" y="585.3" font-size="4.4" textLength="10.5" lengthAdjust="spacingAndGlyphs">L6326</text>
<rect class="c" x="1112.7" y="587.7" width="12" height="5"/>
<text class="l" x="1118.7" y="591.8" font-size="4.4" textLength="10.5" lengthAdjust="spacingAndGlyphs">L6320</text>
<rect class="c" x="1134.3" y="567.5" width="24.1" height="20.2"/>
<text class="l" x="1146.4" y="579.2" font-size="4.4" textLength="10.5" lengthAdjust="spacingAndGlyphs">Z6306</text>
<path class="d" d="M1153.5 567.5 L1158.5 572.5"/>
<rect class="c" x="1159" y="563.7" width="6" height="24.4"/>
<text class="l" x="1161.9" y="577.5" font-size="4.4" transform="rotate(-90 1161.9 575.9)" textLength="20.9" lengthAdjust="spacingAndGlyphs">C6327C6329</text>
<text class="l" x="1173.1" y="562.8" font-size="4.3" textLength="10.1" lengthAdjust="spacingAndGlyphs">C6220</text>
<rect class="c" x="1168.9" y="563.7" width="17.2" height="5"/>
<text class="l" x="1177.6" y="567.8" font-size="4.4" textLength="10.5" lengthAdjust="spacingAndGlyphs">C6227</text>
<rect class="c" x="1165.6" y="569.7" width="15" height="11.5"/>
<text class="l" x="1173.1" y="577.1" font-size="4.4" textLength="10.5" lengthAdjust="spacingAndGlyphs">U6203</text>
<text class="l" x="1186.2" y="573.1" font-size="4.3" textLength="10.1" lengthAdjust="spacingAndGlyphs">C6231</text>
<text class="l" x="1186.8" y="580.9" font-size="4.3" textLength="10.1" lengthAdjust="spacingAndGlyphs">C6235</text>
<rect class="c" x="1168.1" y="583.1" width="12.5" height="5"/>
<text class="l" x="1174.3" y="587.2" font-size="4.4" textLength="10.5" lengthAdjust="spacingAndGlyphs">L6219</text>
<rect class="c" x="1193.1" y="566.9" width="16.9" height="5.6"/>
<text class="l" x="1201.5" y="571.3" font-size="4.4" textLength="10.5" lengthAdjust="spacingAndGlyphs">C6224</text>
<rect class="c" x="1193.1" y="573.1" width="16.2" height="11.9"/>
<text class="B" x="1200.9" y="581.1" font-size="4.8" transform="rotate(-90 1200.9 579.4)" textLength="11.5" lengthAdjust="spacingAndGlyphs">U6204</text>
<rect class="c" x="1214.7" y="566.5" width="5.5" height="12"/>
<text class="l" x="1217.4" y="574.1" font-size="4.4" transform="rotate(-90 1217.4 572.5)" textLength="10.5" lengthAdjust="spacingAndGlyphs">C6228</text>
<rect class="c" x="1221.2" y="566.5" width="5.6" height="12"/>
<text class="l" x="1224" y="574.1" font-size="4.4" transform="rotate(-90 1224 572.5)" textLength="10.5" lengthAdjust="spacingAndGlyphs">L6125</text>
<rect class="c" x="1214.3" y="579.7" width="11.9" height="5"/>
<text class="l" x="1220.2" y="583.8" font-size="4.4" textLength="10.5" lengthAdjust="spacingAndGlyphs">L6224</text>
<rect class="c" x="1234.9" y="558.7" width="13.1" height="16.9"/>
<text class="l" x="1241.5" y="568.8" font-size="4.4" transform="rotate(-90 1241.5 567.2)" textLength="10.5" lengthAdjust="spacingAndGlyphs">Z6207</text>
<rect class="c" x="1236.2" y="576.5" width="11.2" height="5"/>
<text class="l" x="1241.8" y="580.6" font-size="4.4" textLength="10.4" lengthAdjust="spacingAndGlyphs">L6131</text>
<rect class="c" x="1229.9" y="575.6" width="5.6" height="11.9"/>
<text class="l" x="1232.7" y="583.1" font-size="4.4" transform="rotate(-90 1232.7 581.5)" textLength="10.5" lengthAdjust="spacingAndGlyphs">R6206</text>
<rect class="c" x="1229.9" y="588.7" width="11.9" height="5"/>
<text class="l" x="1235.8" y="592.8" font-size="4.4" textLength="10.5" lengthAdjust="spacingAndGlyphs">C6219</text>
<rect class="c" x="1193.7" y="586.2" width="5" height="11.2"/>
<text class="l" x="1196.2" y="593.4" font-size="4.4" transform="rotate(-90 1196.2 591.9)" textLength="10.4" lengthAdjust="spacingAndGlyphs">L6125</text>
<rect class="c" x="1199.9" y="586.2" width="5.6" height="11.2"/>
<text class="l" x="1202.7" y="593.4" font-size="4.4" transform="rotate(-90 1202.7 591.9)" textLength="10.4" lengthAdjust="spacingAndGlyphs">L6204</text>
<rect class="c" x="1205.5" y="590.6" width="6.2" height="6.9"/>
<text class="l" x="1218" y="595.9" font-size="4.3" textLength="10.1" lengthAdjust="spacingAndGlyphs">C6225</text>
<rect class="c" x="1193.1" y="598.7" width="11.9" height="5"/>
<text class="l" x="1199" y="602.8" font-size="4.4" textLength="10.5" lengthAdjust="spacingAndGlyphs">L6238</text>
<rect class="c" x="1135.2" y="588.7" width="11.6" height="5"/>
<text class="l" x="1141" y="592.8" font-size="4.4" textLength="10.5" lengthAdjust="spacingAndGlyphs">L6332</text>
<rect class="c" x="1148.1" y="588.7" width="23.7" height="20"/>
<text class="l" x="1160" y="600.3" font-size="4.4" textLength="10.5" lengthAdjust="spacingAndGlyphs">Z6202</text>
<path class="d" d="M1166.8 588.7 L1171.8 593.7"/>
<rect class="c" x="1172.7" y="589.7" width="11.6" height="5"/>
<text class="l" x="1178.5" y="593.8" font-size="4.4" textLength="10.5" lengthAdjust="spacingAndGlyphs">L6313</text>
<rect class="c" x="1172.7" y="596.8" width="11.6" height="5"/>
<text class="l" x="1178.5" y="600.9" font-size="4.4" textLength="10.5" lengthAdjust="spacingAndGlyphs">C6233</text>
<rect class="c" x="1172.7" y="603.5" width="11.6" height="4.6"/>
<text class="l" x="1178.5" y="607.4" font-size="4.4" textLength="10.5" lengthAdjust="spacingAndGlyphs">L6206</text>
<rect class="c" x="1141.8" y="594.7" width="5" height="11.5"/>
<text class="l" x="1144.3" y="602.1" font-size="4.4" transform="rotate(-90 1144.3 600.5)" textLength="10.5" lengthAdjust="spacingAndGlyphs">L6330</text>
<rect class="c" x="1135.6" y="607.5" width="11.2" height="5.2"/>
<text class="l" x="1141.2" y="611.7" font-size="4.4" textLength="10.4" lengthAdjust="spacingAndGlyphs">L6331</text>
<rect class="c" x="1147.5" y="610" width="11.5" height="5"/>
<text class="l" x="1153.2" y="614" font-size="4.4" textLength="10.5" lengthAdjust="spacingAndGlyphs">L6223</text>
<rect class="c" x="1160" y="609.3" width="24" height="19.4"/>
<text class="l" x="1171.9" y="620.6" font-size="4.4" textLength="10.5" lengthAdjust="spacingAndGlyphs">Z6205</text>
<path class="d" d="M1178.9 609.3 L1183.9 614.3"/>
<rect class="c" x="1153.7" y="615.6" width="5.6" height="11.9"/>
<text class="l" x="1156.5" y="623.1" font-size="4.4" transform="rotate(-90 1156.5 621.5)" textLength="10.5" lengthAdjust="spacingAndGlyphs">L6221</text>
<rect class="c" x="1147.5" y="629" width="11.9" height="5"/>
<text class="l" x="1153.4" y="633" font-size="4.4" textLength="10.5" lengthAdjust="spacingAndGlyphs">L6222</text>
<rect class="c" x="1184.9" y="604.3" width="24.4" height="20"/>
<text class="l" x="1197.1" y="615.9" font-size="4.4" textLength="10.5" lengthAdjust="spacingAndGlyphs">Z6201</text>
<path class="d" d="M1204.3 604.3 L1209.3 609.3"/>
<text class="l" x="1216.8" y="621.2" font-size="4.3" textLength="10.1" lengthAdjust="spacingAndGlyphs">C6214</text>
<rect class="c" x="1223.7" y="616.8" width="5.6" height="5.6"/>
<rect class="c" x="1229.7" y="616.8" width="12.1" height="5.6"/>
<text class="l" x="1235.7" y="621.2" font-size="4.4" textLength="10.5" lengthAdjust="spacingAndGlyphs">C6217</text>
<rect class="c" x="1241.8" y="622.5" width="12.5" height="5"/>
<text class="l" x="1248" y="626.5" font-size="4.4" textLength="10.5" lengthAdjust="spacingAndGlyphs">C6230</text>
<rect class="c" x="1221.4" y="623.7" width="17.2" height="11.9"/>
<text class="l" x="1230" y="631.2" font-size="4.4" textLength="10.5" lengthAdjust="spacingAndGlyphs">U6200</text>
<rect class="c" x="1219.7" y="636.8" width="12.1" height="5"/>
<text class="l" x="1225.7" y="640.9" font-size="4.4" textLength="10.5" lengthAdjust="spacingAndGlyphs">C6215</text>
<rect class="c" x="1232.2" y="636.8" width="12.7" height="5"/>
<text class="l" x="1238.5" y="640.9" font-size="4.4" textLength="10.5" lengthAdjust="spacingAndGlyphs">L6207</text>
<rect class="c" x="1246.1" y="630" width="5.6" height="12.5"/>
<text class="l" x="1249" y="637.8" font-size="4.4" transform="rotate(-90 1249 636.2)" textLength="10.5" lengthAdjust="spacingAndGlyphs">C6216</text>
<rect class="c" x="1239.3" y="643.1" width="5.4" height="11.9"/>
<text class="l" x="1242" y="650.6" font-size="4.4" transform="rotate(-90 1242 649)" textLength="10.5" lengthAdjust="spacingAndGlyphs">C6236</text>
<rect class="c" x="1200.5" y="640.9" width="11.9" height="4.6"/>
<text class="l" x="1206.5" y="644.8" font-size="4.4" textLength="10.5" lengthAdjust="spacingAndGlyphs">R6205</text>
<rect class="c" x="1213.7" y="642.4" width="25" height="21.2"/>
<text class="l" x="1226.2" y="654.6" font-size="4.4" textLength="10.5" lengthAdjust="spacingAndGlyphs">Z6204</text>
<rect class="c" x="1206.2" y="646.8" width="6" height="11.9"/>
<text class="l b" x="1209.2" y="654.3" font-size="4.4" transform="rotate(-90 1209.2 652.8)" textLength="10.5" lengthAdjust="spacingAndGlyphs">R6204</text>
<rect class="c" x="1200.5" y="646.8" width="5" height="6.2"/>
<rect class="c" x="1097.5" y="593.1" width="24" height="20"/>
<text class="l" x="1109.5" y="604.7" font-size="4.4" textLength="10.5" lengthAdjust="spacingAndGlyphs">Z6303</text>
<path class="d" d="M1116.5 593.1 L1121.5 598.1"/>
<rect class="c" x="1106.2" y="613.7" width="5" height="11.9"/>
<text class="l" x="1108.7" y="621.2" font-size="4.4" transform="rotate(-90 1108.7 619.6)" textLength="10.5" lengthAdjust="spacingAndGlyphs">L6338</text>
<rect class="c" x="1112.7" y="613.7" width="5.4" height="11.9"/>
<text class="l" x="1115.4" y="621.2" font-size="4.4" transform="rotate(-90 1115.4 619.6)" textLength="10.5" lengthAdjust="spacingAndGlyphs">L6329</text>
<rect class="c" x="1119.4" y="613.7" width="5.4" height="11.9"/>
<text class="l" x="1122" y="621.2" font-size="4.4" transform="rotate(-90 1122 619.6)" textLength="10.5" lengthAdjust="spacingAndGlyphs">L6339</text>
<rect class="c" x="1078.8" y="595" width="15" height="20"/>
<text class="l" x="1086.2" y="606.6" font-size="4.4" transform="rotate(-90 1086.2 605)" textLength="10.5" lengthAdjust="spacingAndGlyphs">Z6301</text>
<rect class="c" x="1079" y="616" width="4.7" height="11.5"/>
<text class="l" x="1081.4" y="623.3" font-size="4.4" transform="rotate(-90 1081.4 621.7)" textLength="10.5" lengthAdjust="spacingAndGlyphs">C6320</text>
<rect class="c" x="1084.7" y="616" width="4.6" height="11.5"/>
<text class="l" x="1087.1" y="623.3" font-size="4.4" transform="rotate(-90 1087.1 621.7)" textLength="10.5" lengthAdjust="spacingAndGlyphs">L6345</text>
<rect class="c" x="1090.6" y="616" width="5.6" height="11.5"/>
<text class="l" x="1093.4" y="623.3" font-size="4.4" transform="rotate(-90 1093.4 621.7)" textLength="10.5" lengthAdjust="spacingAndGlyphs">L6333</text>
<rect class="c" x="1090.6" y="575.6" width="11.9" height="16.9"/>
<text class="B" x="1096.5" y="586.1" font-size="4.8" textLength="11.5" lengthAdjust="spacingAndGlyphs">U6301</text>
<rect class="c" x="1103.1" y="580.6" width="6.2" height="11.9"/>
<text class="l" x="1106.2" y="588.1" font-size="4.4" transform="rotate(-90 1106.2 586.5)" textLength="10.5" lengthAdjust="spacingAndGlyphs">C6317</text>
<rect class="c" x="1076.3" y="588.1" width="11.2" height="5.6"/>
<text class="l" x="1081.9" y="592.5" font-size="4.4" textLength="10.4" lengthAdjust="spacingAndGlyphs">R6301</text>
<rect class="c" x="1076.3" y="581.2" width="13.7" height="5.6"/>
<text class="l" x="1083.1" y="585.6" font-size="4.4" textLength="10.5" lengthAdjust="spacingAndGlyphs">L6302</text>
<rect class="c" x="1070" y="564.4" width="9.7" height="5"/>
<text class="l" x="1074.9" y="568.5" font-size="4.4" textLength="8.9" lengthAdjust="spacingAndGlyphs">R6303</text>
<rect class="c" x="1080" y="564.4" width="12.2" height="5"/>
<text class="l" x="1086.1" y="568.5" font-size="4.4" textLength="10.5" lengthAdjust="spacingAndGlyphs">L6303</text>
<rect class="c" x="1092.5" y="564.4" width="11.9" height="5"/>
<text class="l" x="1098.4" y="568.5" font-size="4.4" textLength="10.5" lengthAdjust="spacingAndGlyphs">C6319</text>
<text class="l" x="1107.7" y="571.3" font-size="4.3" transform="rotate(-90 1107.7 569.7)" textLength="10.1" lengthAdjust="spacingAndGlyphs">C6318</text>
<rect class="c" x="1085.2" y="569.7" width="5.4" height="10.2"/>
<text class="l" x="1087.9" y="576.4" font-size="4.4" transform="rotate(-90 1087.9 574.9)" textLength="9.4" lengthAdjust="spacingAndGlyphs">C6316</text>
<rect class="c" x="1072.3" y="570" width="5.5" height="22.5"/>
<text class="l" x="1075" y="582.8" font-size="4.4" transform="rotate(-90 1075 581.2)" textLength="20.9" lengthAdjust="spacingAndGlyphs">L6316C6332</text>
<rect class="c" x="668" y="594.7" width="26.8" height="14"/>
<text class="l" x="681.4" y="603.3" font-size="4.4" textLength="10.5" lengthAdjust="spacingAndGlyphs">R2104</text>
<rect class="c" x="760.6" y="605.2" width="11.2" height="18.2"/>
<text class="l" x="766.2" y="615.9" font-size="4.4" transform="rotate(-90 766.2 614.4)" textLength="10.5" lengthAdjust="spacingAndGlyphs">C1313</text>
<rect class="c" x="776.4" y="607.5" width="18.2" height="10.6"/>
<text class="l" x="785.6" y="614.4" font-size="4.4" textLength="10.5" lengthAdjust="spacingAndGlyphs">C1314</text>
<rect class="c" x="776.4" y="618.7" width="18.2" height="11"/>
<text class="l" x="785.6" y="625.8" font-size="4.4" textLength="10.5" lengthAdjust="spacingAndGlyphs">C1315</text>
<rect class="c" x="776.4" y="630.4" width="18.2" height="10.9"/>
<text class="l" x="785.6" y="637.4" font-size="4.4" textLength="10.5" lengthAdjust="spacingAndGlyphs">C1312</text>
<rect class="c" x="776.4" y="642.2" width="18.2" height="10"/>
<text class="l" x="785.6" y="648.8" font-size="4.4" textLength="10.5" lengthAdjust="spacingAndGlyphs">C1311</text>
<rect class="c" x="797.7" y="621" width="14.7" height="25.5"/>
<text class="l" x="805.1" y="635.3" font-size="4.4" transform="rotate(-90 805.1 633.7)" textLength="10.5" lengthAdjust="spacingAndGlyphs">R1320</text>
<rect class="c" x="795.6" y="647.5" width="5.9" height="12.2"/>
<text class="l" x="798.5" y="655.2" font-size="4.4" transform="rotate(-90 798.5 653.6)" textLength="10.5" lengthAdjust="spacingAndGlyphs">C1406</text>
<rect class="c" x="802.4" y="647.5" width="5.6" height="12.2"/>
<text class="l" x="805.2" y="655.2" font-size="4.4" transform="rotate(-90 805.2 653.6)" textLength="10.5" lengthAdjust="spacingAndGlyphs">C1404</text>
<rect class="c" x="696" y="639.7" width="17.1" height="8.7"/>
<text class="l" x="704.6" y="645.7" font-size="4.4" textLength="10.5" lengthAdjust="spacingAndGlyphs">R1302</text>
<rect class="c" x="714.4" y="638.7" width="5.6" height="11.9"/>
<text class="l" x="717.2" y="646.2" font-size="4.4" transform="rotate(-90 717.2 644.7)" textLength="10.5" lengthAdjust="spacingAndGlyphs">C1428</text>
<rect class="c" x="720.6" y="641" width="8.7" height="16.5"/>
<text class="l" x="725" y="650.8" font-size="4.4" transform="rotate(-90 725 649.2)" textLength="10.5" lengthAdjust="spacingAndGlyphs">C1321</text>
<rect class="c" x="730" y="632.5" width="6.5" height="23.7"/>
<text class="l" x="733.2" y="645.9" font-size="4.4" transform="rotate(-90 733.2 644.3)" textLength="20.9" lengthAdjust="spacingAndGlyphs">C1538C1412</text>
<rect class="c" x="737.7" y="634.7" width="5.4" height="11.5"/>
<text class="l" x="740.4" y="642.1" font-size="4.4" transform="rotate(-90 740.4 640.5)" textLength="10.5" lengthAdjust="spacingAndGlyphs">C1432</text>
<rect class="c" x="744" y="634.7" width="5.4" height="11.5"/>
<text class="l" x="746.7" y="642.1" font-size="4.4" transform="rotate(-90 746.7 640.5)" textLength="10.5" lengthAdjust="spacingAndGlyphs">C1331</text>
<rect class="c" x="750.6" y="634.7" width="5.4" height="11.5"/>
<text class="l" x="753.3" y="642.1" font-size="4.4" transform="rotate(-90 753.3 640.5)" textLength="10.5" lengthAdjust="spacingAndGlyphs">C1417</text>
<rect class="c" x="757.2" y="636.2" width="11.2" height="5.6"/>
<text class="l" x="762.8" y="640.6" font-size="4.4" textLength="10.4" lengthAdjust="spacingAndGlyphs">C1416</text>
<rect class="c" x="737.2" y="646.8" width="17.1" height="10.6"/>
<text class="l" x="745.8" y="653.7" font-size="4.4" textLength="10.5" lengthAdjust="spacingAndGlyphs">C1316</text>
<rect class="c" x="708.7" y="657.2" width="11.2" height="5.2"/>
<text class="l" x="714.4" y="661.4" font-size="4.4" textLength="10.4" lengthAdjust="spacingAndGlyphs">C1321</text>
<rect class="c" x="720.6" y="659" width="11.9" height="5"/>
<text class="l" x="726.5" y="663" font-size="4.4" textLength="10.5" lengthAdjust="spacingAndGlyphs">C1360</text>
<rect class="c" x="733.7" y="659" width="11.9" height="5"/>
<text class="l" x="739.7" y="663" font-size="4.4" textLength="10.5" lengthAdjust="spacingAndGlyphs">C1403</text>
<rect class="c" x="708.7" y="663.5" width="5.6" height="12.1"/>
<text class="l" x="711.5" y="671.1" font-size="4.4" transform="rotate(-90 711.5 669.5)" textLength="10.5" lengthAdjust="spacingAndGlyphs">C1326</text>
<rect class="c" x="715" y="663.5" width="5" height="12.1"/>
<text class="l" x="717.5" y="671.1" font-size="4.4" transform="rotate(-90 717.5 669.5)" textLength="10.5" lengthAdjust="spacingAndGlyphs">C1419</text>
<rect class="c" x="724.4" y="666" width="12.5" height="5"/>
<text class="l" x="730.6" y="670" font-size="4.4" textLength="10.5" lengthAdjust="spacingAndGlyphs">C1309</text>
<rect class="c" x="739.3" y="666" width="11.9" height="5"/>
<text class="l" x="745.3" y="670" font-size="4.4" textLength="10.5" lengthAdjust="spacingAndGlyphs">C1305</text>
<rect class="c" x="751" y="661" width="12.1" height="5.5"/>
<text class="l" x="757" y="665.3" font-size="4.4" textLength="10.5" lengthAdjust="spacingAndGlyphs">C1307</text>
<rect class="c" x="764" y="655" width="5.4" height="11.9"/>
<text class="l" x="766.6" y="662.5" font-size="4.4" transform="rotate(-90 766.6 660.9)" textLength="10.5" lengthAdjust="spacingAndGlyphs">C1428</text>
<rect class="c" x="771.2" y="651" width="5" height="23.4"/>
<text class="l" x="773.7" y="664.2" font-size="4.4" transform="rotate(-90 773.7 662.6)" textLength="20.9" lengthAdjust="spacingAndGlyphs">C1376C1378</text>
<rect class="c" x="757.5" y="668.1" width="12.5" height="5"/>
<text class="l" x="763.7" y="672.2" font-size="4.4" textLength="10.5" lengthAdjust="spacingAndGlyphs">C1422</text>
<rect class="c" x="776.8" y="653.5" width="17.9" height="5.2"/>
<text class="l" x="785.8" y="657.7" font-size="4.4" textLength="10.5" lengthAdjust="spacingAndGlyphs">C1378</text>
<rect class="c" x="777.2" y="660.2" width="11.5" height="5"/>
<text class="l" x="782.9" y="664.3" font-size="4.4" textLength="10.5" lengthAdjust="spacingAndGlyphs">C1300</text>
<rect class="c" x="789.3" y="660.2" width="11.6" height="5"/>
<text class="l" x="795.1" y="664.3" font-size="4.4" textLength="10.5" lengthAdjust="spacingAndGlyphs">C1408</text>
<rect class="c" x="776.8" y="666.8" width="11.9" height="5"/>
<text class="l" x="782.8" y="670.9" font-size="4.4" textLength="10.5" lengthAdjust="spacingAndGlyphs">C1377</text>
<rect class="c" x="789.3" y="666.8" width="11.6" height="5"/>
<text class="l" x="795.1" y="670.9" font-size="4.4" textLength="10.5" lengthAdjust="spacingAndGlyphs">C1409</text>
<rect class="c" x="720.6" y="672.7" width="11.9" height="4.7"/>
<text class="l" x="726.5" y="676.7" font-size="4.4" textLength="10.5" lengthAdjust="spacingAndGlyphs">C1363</text>
<rect class="c" x="733.7" y="672.7" width="11.9" height="4.7"/>
<text class="l" x="739.7" y="676.7" font-size="4.4" textLength="10.5" lengthAdjust="spacingAndGlyphs">C1342</text>
<rect class="c" x="751.8" y="674.7" width="11.9" height="5.2"/>
<text class="l" x="757.8" y="678.9" font-size="4.4" textLength="10.5" lengthAdjust="spacingAndGlyphs">C1504</text>
<rect class="c" x="764.3" y="674.7" width="11.9" height="5.2"/>
<text class="l" x="770.3" y="678.9" font-size="4.4" textLength="10.5" lengthAdjust="spacingAndGlyphs">C1402</text>
<rect class="c" x="696.9" y="665.6" width="6.2" height="12.5"/>
<text class="l" x="700" y="673.4" font-size="4.4" transform="rotate(-90 700 671.8)" textLength="10.5" lengthAdjust="spacingAndGlyphs">R1306</text>
<rect class="c" x="696.5" y="679.3" width="11" height="5"/>
<text class="l" x="702" y="683.4" font-size="4.4" textLength="10.2" lengthAdjust="spacingAndGlyphs">C1412</text>
<rect class="c" x="696.5" y="685.9" width="11" height="5.2"/>
<text class="l" x="702" y="690.2" font-size="4.4" textLength="10.2" lengthAdjust="spacingAndGlyphs">C1410</text>
<rect class="c" x="708.7" y="676.4" width="11.2" height="5.4"/>
<text class="l" x="714.4" y="680.7" font-size="4.4" textLength="10.4" lengthAdjust="spacingAndGlyphs">R1501</text>
<rect class="c" x="708.7" y="683.1" width="11.2" height="5"/>
<text class="l" x="714.4" y="687.2" font-size="4.4" textLength="10.4" lengthAdjust="spacingAndGlyphs">C1421</text>
<rect class="c" x="708.7" y="689.9" width="11.2" height="5"/>
<text class="l" x="714.4" y="694" font-size="4.4" textLength="10.4" lengthAdjust="spacingAndGlyphs">C1407</text>
<rect class="c" x="723.7" y="679.3" width="11.9" height="5"/>
<text class="l" x="729.7" y="683.4" font-size="4.4" textLength="10.5" lengthAdjust="spacingAndGlyphs">C1383</text>
<rect class="c" x="740.6" y="679.3" width="11.2" height="5"/>
<text class="l" x="746.2" y="683.4" font-size="4.4" textLength="10.4" lengthAdjust="spacingAndGlyphs">C1301</text>
<rect class="c" x="720.6" y="685.9" width="11.9" height="5.2"/>
<text class="l" x="726.5" y="690.2" font-size="4.4" textLength="10.5" lengthAdjust="spacingAndGlyphs">C1362</text>
<rect class="c" x="734.3" y="685.9" width="11.6" height="5.2"/>
<text class="l" x="740.2" y="690.2" font-size="4.4" textLength="10.5" lengthAdjust="spacingAndGlyphs">C1341</text>
<rect class="c" x="751.8" y="681.8" width="11.9" height="5"/>
<text class="l" x="757.8" y="685.9" font-size="4.4" textLength="10.5" lengthAdjust="spacingAndGlyphs">C1508</text>
<rect class="c" x="764.3" y="681.8" width="11.9" height="5"/>
<text class="l" x="770.3" y="685.9" font-size="4.4" textLength="10.5" lengthAdjust="spacingAndGlyphs">C1329</text>
<rect class="c" x="721.2" y="692.7" width="11.2" height="5"/>
<text class="l" x="726.9" y="696.8" font-size="4.4" textLength="10.4" lengthAdjust="spacingAndGlyphs">C1401</text>
<rect class="c" x="736.8" y="694.3" width="11.9" height="5.6"/>
<text class="l" x="742.8" y="698.7" font-size="4.4" textLength="10.5" lengthAdjust="spacingAndGlyphs">C1302</text>
<rect class="c" x="750.6" y="688.1" width="5.6" height="11.9"/>
<text class="l" x="753.4" y="695.6" font-size="4.4" transform="rotate(-90 753.4 694)" textLength="10.5" lengthAdjust="spacingAndGlyphs">C1317</text>
<rect class="c" x="757.5" y="688.1" width="5.2" height="11.9"/>
<text class="l" x="760.1" y="695.6" font-size="4.4" transform="rotate(-90 760.1 694)" textLength="10.5" lengthAdjust="spacingAndGlyphs">C1424</text>
<rect class="c" x="764.3" y="688.4" width="11.9" height="5"/>
<text class="l" x="770.3" y="692.5" font-size="4.4" textLength="10.5" lengthAdjust="spacingAndGlyphs">C1315</text>
<rect class="c" x="777.4" y="681.2" width="5.6" height="12.5"/>
<text class="l" x="780.3" y="689" font-size="4.4" transform="rotate(-90 780.3 687.4)" textLength="10.5" lengthAdjust="spacingAndGlyphs">C1336</text>
<rect class="c" x="783.7" y="673.1" width="6.2" height="11.9"/>
<text class="l" x="786.8" y="680.6" font-size="4.4" transform="rotate(-90 786.8 679)" textLength="10.5" lengthAdjust="spacingAndGlyphs">R1322</text>
<rect class="c" x="791.2" y="673.1" width="5" height="11.9"/>
<text class="l" x="793.7" y="680.6" font-size="4.4" transform="rotate(-90 793.7 679)" textLength="10.5" lengthAdjust="spacingAndGlyphs">C1413</text>
<rect class="c" x="796.8" y="673.7" width="11.9" height="5.2"/>
<text class="l" x="802.7" y="677.9" font-size="4.4" textLength="10.5" lengthAdjust="spacingAndGlyphs">C1425</text>
<rect class="c" x="783.7" y="686.2" width="11.9" height="5"/>
<text class="l" x="789.6" y="690.3" font-size="4.4" textLength="10.5" lengthAdjust="spacingAndGlyphs">C1327</text>
<rect class="c" x="796.8" y="680.6" width="5.6" height="11.9"/>
<text class="l" x="799.6" y="688.1" font-size="4.4" transform="rotate(-90 799.6 686.5)" textLength="10.5" lengthAdjust="spacingAndGlyphs">C1333</text>
<rect class="c" x="803.4" y="680.6" width="5.2" height="11.9"/>
<text class="l" x="806.1" y="688.1" font-size="4.4" transform="rotate(-90 806.1 686.5)" textLength="10.5" lengthAdjust="spacingAndGlyphs">C1334</text>
<rect class="c" x="770" y="694.9" width="11.9" height="5"/>
<text class="l" x="775.9" y="699" font-size="4.4" textLength="10.5" lengthAdjust="spacingAndGlyphs">C1348</text>
<rect class="c" x="783.7" y="692.7" width="11.2" height="5.4"/>
<text class="l" x="789.3" y="697" font-size="4.4" textLength="10.4" lengthAdjust="spacingAndGlyphs">C1349</text>
<rect class="c" x="824.3" y="662.5" width="9.1" height="18.1"/>
<text class="l b" x="828.9" y="673.1" font-size="4.4" transform="rotate(-90 828.9 671.5)" textLength="10.5" lengthAdjust="spacingAndGlyphs">R1304</text>
<rect class="c" x="698.7" y="695.6" width="8.7" height="17.5"/>
<text class="l" x="703.1" y="706" font-size="4.4" transform="rotate(-90 703.1 704.4)" textLength="10.5" lengthAdjust="spacingAndGlyphs">C1345</text>
<rect class="c" x="708.7" y="696.9" width="5.6" height="11.9"/>
<text class="l" x="711.5" y="704.4" font-size="4.4" transform="rotate(-90 711.5 702.8)" textLength="10.5" lengthAdjust="spacingAndGlyphs">C1326</text>
<rect class="c" x="715" y="696.9" width="5" height="11.9"/>
<text class="l" x="717.5" y="704.4" font-size="4.4" transform="rotate(-90 717.5 702.8)" textLength="10.5" lengthAdjust="spacingAndGlyphs">C1426</text>
<rect class="c" x="720.6" y="699.4" width="11.9" height="5"/>
<text class="l" x="726.5" y="703.5" font-size="4.4" textLength="10.5" lengthAdjust="spacingAndGlyphs">C1358</text>
<rect class="c" x="720.6" y="706" width="11.9" height="5"/>
<text class="l" x="726.5" y="710.1" font-size="4.4" textLength="10.5" lengthAdjust="spacingAndGlyphs">C1350</text>
<rect class="c" x="708.7" y="710" width="11.2" height="5"/>
<text class="l" x="714.4" y="714.1" font-size="4.4" textLength="10.4" lengthAdjust="spacingAndGlyphs">C1437</text>
<rect class="c" x="737.5" y="701" width="11.9" height="5"/>
<text class="l" x="743.4" y="705.1" font-size="4.4" textLength="10.5" lengthAdjust="spacingAndGlyphs">C1328</text>
<rect class="c" x="737.5" y="707.7" width="11.9" height="5"/>
<text class="l" x="743.4" y="711.8" font-size="4.4" textLength="10.5" lengthAdjust="spacingAndGlyphs">C1308</text>
<rect class="c" x="737.5" y="714.4" width="11.9" height="5.4"/>
<text class="l" x="743.4" y="718.6" font-size="4.4" textLength="10.5" lengthAdjust="spacingAndGlyphs">C1430</text>
<rect class="c" x="738.1" y="721.2" width="10.6" height="5"/>
<text class="l" x="743.4" y="725.3" font-size="4.4" textLength="9.8" lengthAdjust="spacingAndGlyphs">C1415</text>
<rect class="c" x="750.6" y="702.2" width="11.9" height="5"/>
<text class="l" x="756.5" y="706.3" font-size="4.4" textLength="10.5" lengthAdjust="spacingAndGlyphs">C1381</text>
<rect class="c" x="750" y="708.7" width="11.9" height="5"/>
<text class="l" x="755.9" y="712.8" font-size="4.4" textLength="10.5" lengthAdjust="spacingAndGlyphs">C1347</text>
<rect class="c" x="750" y="715.6" width="11.9" height="5"/>
<text class="l" x="755.9" y="719.7" font-size="4.4" textLength="10.5" lengthAdjust="spacingAndGlyphs">C1340</text>
<rect class="c" x="750.6" y="722.2" width="11.2" height="5.2"/>
<text class="l" x="756.2" y="726.4" font-size="4.4" textLength="10.4" lengthAdjust="spacingAndGlyphs">C1445</text>
<rect class="c" x="763.7" y="695.6" width="5" height="11.2"/>
<text class="l" x="766.2" y="702.8" font-size="4.4" transform="rotate(-90 766.2 701.2)" textLength="10.4" lengthAdjust="spacingAndGlyphs">C1346</text>
<rect class="c" x="770" y="702.5" width="11.9" height="5.2"/>
<text class="l" x="775.9" y="706.7" font-size="4.4" textLength="10.5" lengthAdjust="spacingAndGlyphs">C1349</text>
<rect class="c" x="770" y="709.4" width="11.9" height="5"/>
<text class="l" x="775.9" y="713.4" font-size="4.4" textLength="10.5" lengthAdjust="spacingAndGlyphs">C1350</text>
<rect class="c" x="783.7" y="699.4" width="11.9" height="5"/>
<text class="l" x="789.6" y="703.5" font-size="4.4" textLength="10.5" lengthAdjust="spacingAndGlyphs">C1335</text>
<rect class="c" x="783.7" y="706" width="11.9" height="5"/>
<text class="l" x="789.6" y="710.1" font-size="4.4" textLength="10.5" lengthAdjust="spacingAndGlyphs">C1339</text>
<rect class="c" x="783.7" y="712.7" width="11.9" height="5"/>
<text class="l" x="789.6" y="716.8" font-size="4.4" textLength="10.5" lengthAdjust="spacingAndGlyphs">C1337</text>
<rect class="c" x="762.7" y="715" width="5.7" height="11.9"/>
<text class="l" x="765.6" y="722.5" font-size="4.4" transform="rotate(-90 765.6 720.9)" textLength="10.5" lengthAdjust="spacingAndGlyphs">C1351</text>
<rect class="c" x="693.7" y="713.1" width="14.7" height="26.9"/>
<text class="l" x="701.1" y="728.1" font-size="4.4" transform="rotate(-90 701.1 726.5)" textLength="10.5" lengthAdjust="spacingAndGlyphs">C1344</text>
<rect class="c" x="679.4" y="711.2" width="14.1" height="26.9"/>
<text class="l" x="686.4" y="726.3" font-size="4.4" transform="rotate(-90 686.4 724.7)" textLength="10.5" lengthAdjust="spacingAndGlyphs">C1343</text>
<rect class="c" x="724.4" y="725.6" width="11.2" height="4.6"/>
<text class="l" x="730" y="729.5" font-size="4.4" textLength="10.4" lengthAdjust="spacingAndGlyphs">C1416</text>
<rect class="c" x="724.4" y="732.2" width="11.2" height="5"/>
<text class="l" x="730" y="736.3" font-size="4.4" textLength="10.4" lengthAdjust="spacingAndGlyphs">C1413</text>
<rect class="c" x="710.6" y="730.2" width="6.2" height="12.2"/>
<text class="l" x="713.7" y="737.9" font-size="4.4" transform="rotate(-90 713.7 736.3)" textLength="10.5" lengthAdjust="spacingAndGlyphs">C1325</text>
<rect class="c" x="717.7" y="730.2" width="5.7" height="12.2"/>
<text class="l" x="720.6" y="737.9" font-size="4.4" transform="rotate(-90 720.6 736.3)" textLength="10.5" lengthAdjust="spacingAndGlyphs">C1324</text>
<rect class="c" x="737.2" y="727.5" width="5.9" height="11.9"/>
<text class="l" x="740.2" y="735" font-size="4.4" transform="rotate(-90 740.2 733.4)" textLength="10.5" lengthAdjust="spacingAndGlyphs">C1333</text>
<rect class="c" x="744" y="727.5" width="5.4" height="11.9"/>
<text class="l" x="746.7" y="735" font-size="4.4" transform="rotate(-90 746.7 733.4)" textLength="10.5" lengthAdjust="spacingAndGlyphs">C1436</text>
<rect class="c" x="750.6" y="728.1" width="5.6" height="11.9"/>
<text class="l" x="753.4" y="735.6" font-size="4.4" transform="rotate(-90 753.4 734)" textLength="10.5" lengthAdjust="spacingAndGlyphs">C1418</text>
<rect class="c" x="757.2" y="728.1" width="5.5" height="11.9"/>
<text class="l" x="760" y="735.6" font-size="4.4" transform="rotate(-90 760 734)" textLength="10.5" lengthAdjust="spacingAndGlyphs">C1438</text>
<rect class="c" x="763.7" y="727.2" width="17.2" height="10.9"/>
<text class="l" x="772.3" y="734.2" font-size="4.4" textLength="10.5" lengthAdjust="spacingAndGlyphs">C1557</text>
<rect class="c" x="763.7" y="739" width="17.2" height="10.4"/>
<text class="l" x="772.3" y="745.7" font-size="4.4" textLength="10.5" lengthAdjust="spacingAndGlyphs">C1553</text>
<rect class="c" x="783.4" y="719" width="17.7" height="10.7"/>
<text class="l" x="792.3" y="725.9" font-size="4.4" textLength="10.5" lengthAdjust="spacingAndGlyphs">C1556</text>
<rect class="c" x="783.4" y="730.2" width="17.7" height="10.4"/>
<text class="l" x="792.3" y="737" font-size="4.4" textLength="10.5" lengthAdjust="spacingAndGlyphs">C1555</text>
<rect class="c" x="781.8" y="741.2" width="24.4" height="14.4"/>
<text class="l" x="794" y="750" font-size="4.4" textLength="10.5" lengthAdjust="spacingAndGlyphs">C1354</text>
<rect class="c" x="781.8" y="756.2" width="24.4" height="13.7"/>
<text class="l" x="794" y="764.7" font-size="4.4" textLength="10.5" lengthAdjust="spacingAndGlyphs">C1352</text>
<circle class="c" cx="821.4" cy="734" r="5.6"/>
<text class="l" x="821.4" y="735.6" font-size="4.4" textLength="12.5" lengthAdjust="spacingAndGlyphs">TP5101</text>
<circle class="c" cx="844.3" cy="738.1" r="6"/>
<text class="l" x="844.3" y="739.7" font-size="4.4" textLength="12.5" lengthAdjust="spacingAndGlyphs">TP5400</text>
<rect class="c" x="807.2" y="740" width="5.9" height="12.2"/>
<text class="l" x="810.1" y="747.7" font-size="4.4" transform="rotate(-90 810.1 746.1)" textLength="10.5" lengthAdjust="spacingAndGlyphs">C5103</text>
<rect class="c" x="823" y="740" width="5.4" height="12.2"/>
<text class="l" x="825.7" y="747.7" font-size="4.4" transform="rotate(-90 825.7 746.1)" textLength="10.5" lengthAdjust="spacingAndGlyphs">C5421</text>
<rect class="c" x="829.3" y="740" width="5.6" height="12.2"/>
<text class="l" x="832.1" y="747.7" font-size="4.4" transform="rotate(-90 832.1 746.1)" textLength="10.5" lengthAdjust="spacingAndGlyphs">R5129</text>
<rect class="c" x="807.2" y="752.7" width="14" height="17.9"/>
<text class="l" x="814.2" y="763.2" font-size="4.4" transform="rotate(-90 814.2 761.6)" textLength="10.5" lengthAdjust="spacingAndGlyphs">U5100</text>
<rect class="c" x="821.8" y="752.7" width="13.7" height="17.9"/>
<text class="l" x="828.7" y="763.2" font-size="4.4" transform="rotate(-90 828.7 761.6)" textLength="10.5" lengthAdjust="spacingAndGlyphs">U5102</text>
<rect class="c" x="811.8" y="771.2" width="11.2" height="5"/>
<text class="l" x="817.4" y="775.3" font-size="4.4" textLength="10.4" lengthAdjust="spacingAndGlyphs">C5120</text>
<rect class="c" x="823.4" y="771.2" width="12.1" height="5"/>
<text class="l" x="829.5" y="775.3" font-size="4.4" textLength="10.5" lengthAdjust="spacingAndGlyphs">R5108</text>
<rect class="c" x="836.8" y="752.7" width="13.4" height="24.5"/>
<text class="l" x="843.5" y="766.5" font-size="4.4" transform="rotate(-90 843.5 765)" textLength="10.5" lengthAdjust="spacingAndGlyphs">C2708</text>
<rect class="c" x="850.5" y="752.7" width="14.4" height="24.5"/>
<text class="l" x="857.7" y="766.5" font-size="4.4" transform="rotate(-90 857.7 765)" textLength="10.5" lengthAdjust="spacingAndGlyphs">C2707</text>
<rect class="c" x="852.1" y="727.2" width="12.1" height="5.2"/>
<text class="l" x="858.2" y="731.4" font-size="4.4" textLength="10.5" lengthAdjust="spacingAndGlyphs">R5703</text>
<rect class="c" x="852.1" y="733.7" width="12.1" height="5.6"/>
<text class="l b" x="858.2" y="738.1" font-size="4.4" textLength="10.5" lengthAdjust="spacingAndGlyphs">T5704</text>
<rect class="c" x="852.4" y="740" width="5.6" height="11.9"/>
<text class="l" x="855.2" y="747.5" font-size="4.4" transform="rotate(-90 855.2 745.9)" textLength="10.5" lengthAdjust="spacingAndGlyphs">R5702</text>
<rect class="c" x="851.1" y="783.1" width="11.9" height="4.4"/>
<text class="l" x="857.1" y="786.8" font-size="4.4" textLength="10.5" lengthAdjust="spacingAndGlyphs">R2703</text>
<rect class="c" x="851.8" y="789.3" width="5" height="10.6"/>
<text class="l" x="854.3" y="796.2" font-size="4.4" transform="rotate(-90 854.3 794.6)" textLength="9.8" lengthAdjust="spacingAndGlyphs">R5500</text>
<rect class="c" x="858" y="789.3" width="5" height="10.6"/>
<text class="l" x="860.5" y="796.2" font-size="4.4" transform="rotate(-90 860.5 794.6)" textLength="9.8" lengthAdjust="spacingAndGlyphs">C2704</text>
<rect class="c" x="826.2" y="696.9" width="12.5" height="5.6"/>
<text class="l" x="832.4" y="701.3" font-size="4.4" textLength="10.5" lengthAdjust="spacingAndGlyphs">R4207</text>
<rect class="c" x="826.2" y="704" width="12.5" height="5.4"/>
<text class="l" x="832.4" y="708.3" font-size="4.4" textLength="10.5" lengthAdjust="spacingAndGlyphs">R4210</text>
<rect class="c" x="769.3" y="770.6" width="6.9" height="11.9"/>
<text class="l b" x="772.8" y="778.1" font-size="4.4" transform="rotate(-90 772.8 776.5)" textLength="10.5" lengthAdjust="spacingAndGlyphs">T5101</text>
<rect class="c" x="776.4" y="770.6" width="6" height="11.9"/>
<text class="l" x="779.4" y="778.1" font-size="4.4" transform="rotate(-90 779.4 776.5)" textLength="10.5" lengthAdjust="spacingAndGlyphs">C5101</text>
<rect class="c" x="782.7" y="770.6" width="6.6" height="11.9"/>
<text class="l b" x="786" y="778.1" font-size="4.4" transform="rotate(-90 786 776.5)" textLength="10.5" lengthAdjust="spacingAndGlyphs">T5403</text>
<rect class="c" x="789.6" y="770.6" width="6" height="11.9"/>
<text class="l" x="792.6" y="778.1" font-size="4.4" transform="rotate(-90 792.6 776.5)" textLength="10.5" lengthAdjust="spacingAndGlyphs">C5102</text>
<rect class="c" x="796.2" y="770.6" width="6.2" height="11.9"/>
<text class="l" x="799.3" y="778.1" font-size="4.4" transform="rotate(-90 799.3 776.5)" textLength="10.5" lengthAdjust="spacingAndGlyphs">R5100</text>
<rect class="c" x="802.7" y="770.6" width="6" height="11.9"/>
<text class="l" x="805.7" y="778.1" font-size="4.4" transform="rotate(-90 805.7 776.5)" textLength="10.5" lengthAdjust="spacingAndGlyphs">C5108</text>
<rect class="c" x="769.3" y="783.1" width="6.9" height="11.9"/>
<text class="l b" x="772.8" y="790.6" font-size="4.4" transform="rotate(-90 772.8 789)" textLength="10.5" lengthAdjust="spacingAndGlyphs">T5100</text>
<rect class="c" x="776.4" y="783.1" width="6" height="11.9"/>
<text class="l" x="779.4" y="790.6" font-size="4.4" transform="rotate(-90 779.4 789)" textLength="10.5" lengthAdjust="spacingAndGlyphs">R5415</text>
<rect class="c" x="782.7" y="783.1" width="6.6" height="11.9"/>
<text class="l" x="786" y="790.6" font-size="4.4" transform="rotate(-90 786 789)" textLength="10.5" lengthAdjust="spacingAndGlyphs">R5104</text>
<rect class="c" x="789.6" y="783.1" width="6" height="11.9"/>
<text class="l" x="792.6" y="790.6" font-size="4.4" transform="rotate(-90 792.6 789)" textLength="10.5" lengthAdjust="spacingAndGlyphs">R5102</text>
<rect class="c" x="796.2" y="783.1" width="6.2" height="11.9"/>
<text class="l" x="799.3" y="790.6" font-size="4.4" transform="rotate(-90 799.3 789)" textLength="10.5" lengthAdjust="spacingAndGlyphs">R5107</text>
<rect class="c" x="802.7" y="783.1" width="6" height="11.9"/>
<text class="l" x="805.7" y="790.6" font-size="4.4" transform="rotate(-90 805.7 789)" textLength="10.5" lengthAdjust="spacingAndGlyphs">R5105</text>
<rect class="c" x="776.2" y="795.6" width="6.5" height="11.2"/>
<text class="l b" x="779.4" y="802.8" font-size="4.4" transform="rotate(-90 779.4 801.2)" textLength="10.4" lengthAdjust="spacingAndGlyphs">T5104</text>
<rect class="c" x="783.1" y="795.6" width="6.5" height="11.2"/>
<text class="l b" x="786.3" y="802.8" font-size="4.4" transform="rotate(-90 786.3 801.2)" textLength="10.4" lengthAdjust="spacingAndGlyphs">T5105</text>
<rect class="c" x="789.9" y="795.6" width="6" height="11.2"/>
<text class="l b" x="792.9" y="802.8" font-size="4.4" transform="rotate(-90 792.9 801.2)" textLength="10.4" lengthAdjust="spacingAndGlyphs">T5108</text>
<rect class="c" x="796.4" y="795.6" width="6" height="11.2"/>
<text class="l b" x="799.4" y="802.8" font-size="4.4" transform="rotate(-90 799.4 801.2)" textLength="10.4" lengthAdjust="spacingAndGlyphs">T5107</text>
<rect class="c" x="802.8" y="795.6" width="5.9" height="11.2"/>
<text class="l b" x="805.7" y="802.8" font-size="4.4" transform="rotate(-90 805.7 801.2)" textLength="10.4" lengthAdjust="spacingAndGlyphs">T5106</text>
<text class="n" x="708.5" y="762.6" font-size="4.5">8</text>
<text class="n" x="729.7" y="763.5" font-size="4.5">1</text>
<rect class="c" x="810.5" y="776.8" width="39.5" height="30.2"/>
<text class="l" x="830.2" y="793.5" font-size="4.4" textLength="10.5" lengthAdjust="spacingAndGlyphs">L2701</text>
<rect class="c" x="690.8" y="765" width="55.2" height="41.6"/>
<text class="B" x="718" y="790.6" font-size="10" textLength="24" lengthAdjust="spacingAndGlyphs">J5101</text>
<rect class="c" x="535.6" y="634.4" width="6.6" height="12.1"/>
<text class="l" x="538.9" y="642" font-size="4.4" transform="rotate(-90 538.9 640.4)" textLength="10.5" lengthAdjust="spacingAndGlyphs">R5502</text>
<rect class="c" x="542.5" y="634.4" width="6.2" height="12.1"/>
<text class="l" x="545.6" y="642" font-size="4.4" transform="rotate(-90 545.6 640.4)" textLength="10.5" lengthAdjust="spacingAndGlyphs">R5503</text>
<rect class="c" x="549" y="634.4" width="6.2" height="12.1"/>
<text class="l" x="552.1" y="642" font-size="4.4" transform="rotate(-90 552.1 640.4)" textLength="10.5" lengthAdjust="spacingAndGlyphs">R5501</text>
<rect class="c" x="555.6" y="634.4" width="6.9" height="12.1"/>
<text class="l" x="559" y="642" font-size="4.4" transform="rotate(-90 559 640.4)" textLength="10.5" lengthAdjust="spacingAndGlyphs">R5509</text>
<rect class="c" x="535.6" y="646.9" width="6.6" height="12.5"/>
<text class="l b" x="538.9" y="654.7" font-size="4.4" transform="rotate(-90 538.9 653.1)" textLength="10.5" lengthAdjust="spacingAndGlyphs">T5504</text>
<rect class="c" x="542.5" y="646.9" width="6.2" height="12.5"/>
<text class="l b" x="545.6" y="654.7" font-size="4.4" transform="rotate(-90 545.6 653.1)" textLength="10.5" lengthAdjust="spacingAndGlyphs">T5503</text>
<rect class="c" x="549" y="646.9" width="6.2" height="12.5"/>
<text class="l b" x="552.1" y="654.7" font-size="4.4" transform="rotate(-90 552.1 653.1)" textLength="10.5" lengthAdjust="spacingAndGlyphs">T5500</text>
<rect class="c" x="555.6" y="646.9" width="6.9" height="12.5"/>
<text class="l b" x="559" y="654.7" font-size="4.4" transform="rotate(-90 559 653.1)" textLength="10.5" lengthAdjust="spacingAndGlyphs">T5501</text>
<rect class="c" x="591.4" y="647.7" width="17.9" height="11.6"/>
<text class="l" x="600.4" y="655.1" font-size="4.4" textLength="10.5" lengthAdjust="spacingAndGlyphs">C1318</text>
<rect class="c" x="615.6" y="662.7" width="8.7" height="17.5"/>
<text class="l" x="619.9" y="673.1" font-size="4.4" transform="rotate(-90 619.9 671.5)" textLength="10.5" lengthAdjust="spacingAndGlyphs">C1316</text>
<text class="l" x="628" y="675.9" font-size="4.3" transform="rotate(-90 628 674.3)" textLength="10.1" lengthAdjust="spacingAndGlyphs">C1313</text>
<rect class="c" x="616.2" y="681.2" width="11.9" height="17.2"/>
<text class="l" x="622.1" y="691.4" font-size="4.4" transform="rotate(-90 622.1 689.8)" textLength="10.5" lengthAdjust="spacingAndGlyphs">C1310</text>
<rect class="c" x="628.7" y="681.2" width="5.6" height="12.2"/>
<text class="l" x="631.5" y="688.9" font-size="4.4" transform="rotate(-90 631.5 687.3)" textLength="10.5" lengthAdjust="spacingAndGlyphs">C1329</text>
<rect class="c" x="628.4" y="694" width="12.1" height="5.4"/>
<text class="l" x="634.5" y="698.2" font-size="4.4" textLength="10.5" lengthAdjust="spacingAndGlyphs">C1330</text>
<rect class="c" x="614.7" y="700.2" width="17.5" height="10.7"/>
<text class="l" x="623.4" y="707.2" font-size="4.4" textLength="10.5" lengthAdjust="spacingAndGlyphs">C1341</text>
<rect class="c" x="614.7" y="711.8" width="12.5" height="6.2"/>
<text class="l" x="620.9" y="716.5" font-size="4.4" textLength="10.5" lengthAdjust="spacingAndGlyphs">C1328</text>
<rect class="c" x="632.4" y="702.2" width="8.7" height="18.4"/>
<text class="l" x="636.8" y="713" font-size="4.4" transform="rotate(-90 636.8 711.4)" textLength="10.5" lengthAdjust="spacingAndGlyphs">C1304</text>
<circle class="c" cx="527.7" cy="681.5" r="7.7"/>
<text class="l" x="527.7" y="683" font-size="4.4" textLength="12.5" lengthAdjust="spacingAndGlyphs">TP5502</text>
<circle class="c" cx="558.7" cy="679.3" r="7.7"/>
<text class="l" x="558.7" y="680.9" font-size="4.4" textLength="12.5" lengthAdjust="spacingAndGlyphs">TP5504</text>
<circle class="c" cx="589.9" cy="678.7" r="7.7"/>
<text class="l" x="589.9" y="680.3" font-size="4.4" textLength="12.5" lengthAdjust="spacingAndGlyphs">TP5503</text>
<circle class="c" cx="527.2" cy="709.3" r="7.7"/>
<text class="l" x="527.2" y="710.9" font-size="4.4" textLength="12.5" lengthAdjust="spacingAndGlyphs">TP5508</text>
<text class="Y" x="542.5" y="684.1" font-size="13">−</text>
<text class="Y" x="542.7" y="713.7" font-size="13">+</text>
<rect class="c" x="546.6" y="687.4" width="47.6" height="61.8"/>
<text class="B" x="565.8" y="722.8" font-size="10.5" transform="rotate(-90 565.8 719)" textLength="29" lengthAdjust="spacingAndGlyphs">J5500</text>
<circle class="c" cx="584.2" cy="733" r="4"/>
<circle class="c" cx="527" cy="737.4" r="7.5"/>
<text class="l" x="527" y="739" font-size="4.4" textLength="12.5" lengthAdjust="spacingAndGlyphs">TP5501</text>
<text class="Y" x="542" y="741.5" font-size="12.5">P</text>
<text class="Y" x="561.8" y="761.3" font-size="12" textLength="13.5" lengthAdjust="spacingAndGlyphs">Gg</text>
<text class="Y" x="592" y="761.3" font-size="12" textLength="20" lengthAdjust="spacingAndGlyphs">GND</text>
<rect class="c" x="558.4" y="766.3" width="122.6" height="38.2"/>
<text class="B" x="619.2" y="789.6" font-size="10" textLength="27" lengthAdjust="spacingAndGlyphs">J5002</text>
<text class="n" x="576.8" y="764" font-size="4.5">20</text>
<text class="n" x="661" y="764" font-size="4.5">1</text>
<text class="n" x="576" y="811.3" font-size="4.5">21</text>
<text class="n" x="662.4" y="811.6" font-size="4.5">40</text>
<text class="n" x="709.7" y="812.1" font-size="4.5">10</text>
<text class="n" x="727.6" y="812.1" font-size="4.5">2</text>
<rect class="c" x="608.1" y="733.5" width="6.2" height="11.5"/>
<text class="l b" x="611.2" y="740.8" font-size="4.4" transform="rotate(-90 611.2 739.2)" textLength="10.5" lengthAdjust="spacingAndGlyphs">T5010</text>
<rect class="c" x="614.9" y="733.5" width="5.6" height="11.5"/>
<text class="l" x="617.7" y="740.8" font-size="4.4" transform="rotate(-90 617.7 739.2)" textLength="10.5" lengthAdjust="spacingAndGlyphs">C5002</text>
<rect class="c" x="621.2" y="733.5" width="6.2" height="11.5"/>
<text class="l" x="624.3" y="740.8" font-size="4.4" transform="rotate(-90 624.3 739.2)" textLength="10.5" lengthAdjust="spacingAndGlyphs">R5010</text>
<rect class="c" x="628" y="733.5" width="5.6" height="11.5"/>
<text class="l b" x="630.9" y="740.8" font-size="4.4" transform="rotate(-90 630.9 739.2)" textLength="10.5" lengthAdjust="spacingAndGlyphs">T5013</text>
<rect class="c" x="634.3" y="733.5" width="5.6" height="11.5"/>
<text class="l" x="637.1" y="740.8" font-size="4.4" transform="rotate(-90 637.1 739.2)" textLength="10.5" lengthAdjust="spacingAndGlyphs">R5003</text>
<rect class="c" x="640.5" y="733.5" width="6.2" height="11.5"/>
<text class="l b" x="643.7" y="740.8" font-size="4.4" transform="rotate(-90 643.7 739.2)" textLength="10.5" lengthAdjust="spacingAndGlyphs">T5011</text>
<rect class="c" x="647.4" y="733.5" width="6.2" height="11.5"/>
<text class="l" x="650.5" y="740.8" font-size="4.4" transform="rotate(-90 650.5 739.2)" textLength="10.5" lengthAdjust="spacingAndGlyphs">R5011</text>
<rect class="c" x="608.1" y="745.6" width="6.2" height="11.6"/>
<text class="l b" x="611.2" y="753" font-size="4.4" transform="rotate(-90 611.2 751.4)" textLength="10.5" lengthAdjust="spacingAndGlyphs">T5002</text>
<rect class="c" x="614.9" y="745.6" width="5.6" height="11.6"/>
<text class="l" x="617.7" y="753" font-size="4.4" transform="rotate(-90 617.7 751.4)" textLength="10.5" lengthAdjust="spacingAndGlyphs">C5004</text>
<rect class="c" x="621.2" y="745.6" width="6.2" height="11.6"/>
<text class="l b" x="624.3" y="753" font-size="4.4" transform="rotate(-90 624.3 751.4)" textLength="10.5" lengthAdjust="spacingAndGlyphs">T5014</text>
<rect class="c" x="628" y="745.6" width="5.6" height="11.6"/>
<text class="l" x="630.9" y="753" font-size="4.4" transform="rotate(-90 630.9 751.4)" textLength="10.5" lengthAdjust="spacingAndGlyphs">C5003</text>
<rect class="c" x="634.3" y="745.6" width="5.6" height="11.6"/>
<text class="l" x="637.1" y="753" font-size="4.4" transform="rotate(-90 637.1 751.4)" textLength="10.5" lengthAdjust="spacingAndGlyphs">R5012</text>
<rect class="c" x="640.5" y="745.6" width="6.2" height="11.6"/>
<text class="l" x="643.7" y="753" font-size="4.4" transform="rotate(-90 643.7 751.4)" textLength="10.5" lengthAdjust="spacingAndGlyphs">R5013</text>
<rect class="c" x="647.4" y="745.6" width="6.2" height="11.6"/>
<text class="l" x="650.5" y="753" font-size="4.4" transform="rotate(-90 650.5 751.4)" textLength="10.5" lengthAdjust="spacingAndGlyphs">R5218</text>
<rect class="c" x="654.3" y="745.6" width="6.2" height="11.6"/>
<text class="l" x="657.4" y="753" font-size="4.4" transform="rotate(-90 657.4 751.4)" textLength="10.5" lengthAdjust="spacingAndGlyphs">R5211</text>
<rect class="c" x="661.2" y="745.6" width="6.2" height="11.6"/>
<text class="l b" x="664.3" y="753" font-size="4.4" transform="rotate(-90 664.3 751.4)" textLength="10.5" lengthAdjust="spacingAndGlyphs">T5003</text>
<path class="bd" d="M510.4 299 Q510.4 294.2 515 294.2 H549.7 A18.8 18.8 0 0 0 568.5 275.3 V237 Q568.5 231 576 230.5 L625 229.5 Q631.8 229 631.8 224 V215 Q631.8 210.6 636.5 210.6 H711 Q715.4 210.6 715.4 215 V219 Q715.4 224 720.5 224.2 Q727.6 224.5 727.6 231 V307 Q727.5 312.4 733 312.4 H917.5 L926 319.3 H945 Q950.6 319.3 950.6 325 V350 Q950.5 355.6 956.5 355.6 H1049 Q1054.6 355.6 1054.6 350 V331 Q1054.5 325.5 1059 324 A20.5 20.5 0 1 0 1059 284 Q1054.3 282.5 1054.3 277 V236 Q1054.3 230 1060 230 H1184 L1203 231.5 Q1208.9 232 1208.9 238 V273.6 A21 21 0 0 0 1230 294.5 H1251 Q1256.3 294.7 1256.3 300 V309.5 Q1256.3 313.8 1261 313.8 Q1267 314 1267 320 V593 Q1267 598 1269.5 599.5 Q1271.8 601 1271.8 606 V770 Q1271.8 775.6 1267 775.6 H1255 Q1251 776 1250.6 779.4 Q1250 783.5 1244 785.5 Q1238.7 787.5 1236 790.5 Q1232.5 793.7 1230 797 Q1227 801.4 1221 801.4 H1188 Q1182.4 801.4 1182.4 807 V814 Q1182.4 819.3 1177 819.3 H552 Q547 819.3 546.8 813.7 V800 Q546 793 537.5 790 Q534 789 533.1 785 V777.5 Q533 770 525 769.3 H514.4 Q510.4 769 510.4 764.3 V436 Q510.4 428.5 518 428 H521.5 A9.6 9.6 0 0 0 521.5 408.8 H518 Q510.4 408.5 510.4 401 Z"/>
<path class="bd" d="M779.6 378.8 H874.6 Q878.7 378.8 878.7 383 V448 Q878.7 452.3 883 452.3 H1005.5 Q1009.8 452.3 1009.8 456.5 V581 Q1009.8 585.2 1005.5 585.2 H882 Q877.8 585.2 877.8 581 V471.8 Q877.8 467.5 873.5 467.5 H779.6 Q775.4 467.5 775.4 463.3 V383 Q775.4 378.8 779.6 378.8 Z"/>
<path class="sh" d="M519.4 444.6 H683.5 V578.2 H877.6 V654.7 H944.6 V591.5 H1006.5 V703.7 L991.2 739.3 L968.7 743.7 L929.3 812.5 H760.5 V755.7 H684.5 L657 726.2 H609.2 V664.8 H519.4 Z"/>
<path class="sh" d="M1058.2 363.7 H1226 L1259.6 399 V697 H1199.6 L1183.4 715.3 H1049.4 L1019.6 684.3 V629.4 L1058.2 590.2 Z"/>
<rect class="c" x="1143.4" y="345.8" width="12.4" height="5.1"/>
<text class="l" x="1149.6" y="349.9" font-size="4.4" textLength="10.5" lengthAdjust="spacingAndGlyphs">C6507</text>
<rect class="c" x="1155.8" y="345.8" width="12.7" height="5.1"/>
<text class="l" x="1162.2" y="349.9" font-size="4.4" textLength="10.5" lengthAdjust="spacingAndGlyphs">C6506</text>
<rect class="c" x="1162" y="352.5" width="12.4" height="5.2"/>
<text class="l" x="1168.2" y="356.7" font-size="4.4" textLength="10.5" lengthAdjust="spacingAndGlyphs">L6505</text>
<rect class="c" x="1181.7" y="334.4" width="14.3" height="17.9"/>
<text class="l" x="1188.8" y="344.9" font-size="4.4" transform="rotate(-90 1188.8 343.4)" textLength="10.5" lengthAdjust="spacingAndGlyphs">U6703</text>
<rect class="c" x="1181.7" y="352.5" width="13.3" height="5.2"/>
<text class="l" x="1188.3" y="356.7" font-size="4.4" textLength="10.5" lengthAdjust="spacingAndGlyphs">R6705</text>
<rect class="c" x="1196.8" y="334.4" width="5.2" height="11.4"/>
<text class="l" x="1199.4" y="341.7" font-size="4.4" transform="rotate(-90 1199.4 340.1)" textLength="10.5" lengthAdjust="spacingAndGlyphs">C6710</text>
<rect class="c" x="1202.8" y="334.6" width="12.2" height="5.4"/>
<text class="l" x="1208.9" y="338.9" font-size="4.4" textLength="10.5" lengthAdjust="spacingAndGlyphs">R6709</text>
<rect class="c" x="1196.8" y="346.8" width="11.7" height="5"/>
<text class="l" x="1202.7" y="350.9" font-size="4.4" textLength="10.5" lengthAdjust="spacingAndGlyphs">C6714</text>
<rect class="c" x="1196.8" y="353.2" width="11.7" height="5.1"/>
<text class="l" x="1202.7" y="357.3" font-size="4.4" textLength="10.5" lengthAdjust="spacingAndGlyphs">C6715</text>
<text class="l" x="1257.5" y="382.5" font-size="4.3" textLength="10.1" lengthAdjust="spacingAndGlyphs">S5707</text>
<rect class="c" x="1211.7" y="662.7" width="11.8" height="6.1"/>
<text class="l" x="1217.7" y="667.3" font-size="4.4" textLength="10.5" lengthAdjust="spacingAndGlyphs">R6209</text>
<rect class="c" x="1223.9" y="662.7" width="12.3" height="6.1"/>
<text class="l" x="1230" y="667.3" font-size="4.4" textLength="10.5" lengthAdjust="spacingAndGlyphs">L6231</text>
<rect class="c" x="1196.6" y="678.1" width="20" height="13"/>
<rect class="c" x="1201.2" y="670.7" width="11.6" height="4.2"/>
<text class="l" x="1207" y="674.3" font-size="4.4" textLength="10.5" lengthAdjust="spacingAndGlyphs">L6400</text>
<rect class="c" x="1209.6" y="675.3" width="6.1" height="11.2"/>
<text class="l" x="1212.6" y="682.5" font-size="4.4" transform="rotate(-90 1212.6 680.9)" textLength="10.4" lengthAdjust="spacingAndGlyphs">R6402</text>
<rect class="c" x="1216.6" y="679" width="13" height="4.7"/>
<text class="l" x="1223.1" y="683" font-size="4.4" textLength="10.5" lengthAdjust="spacingAndGlyphs">L6402</text>
<rect class="c" x="1216.6" y="686" width="13" height="4.2"/>
<text class="l" x="1223.1" y="689.7" font-size="4.4" textLength="10.5" lengthAdjust="spacingAndGlyphs">L6403</text>
<rect class="c" x="1199.8" y="656.7" width="5.6" height="12.1"/>
<text class="l" x="1202.6" y="664.3" font-size="4.4" transform="rotate(-90 1202.6 662.7)" textLength="10.5" lengthAdjust="spacingAndGlyphs">C6226</text>
</svg>

</div>
</div>
<div id="rsb" class="abs">
<svg width="15" height="672" viewBox="1505 162 15 672"><rect x="1505" y="162" width="15" height="672" fill="#fdfdfd"/><path d="M1505.500 162 V834" stroke="#d6d6d6"/><path d="M1505 178.500 H1520 M1505 817.500 H1520" stroke="#d0d0d0"/><rect x="1506" y="499" width="14" height="317" fill="#dcdcdc" stroke="#c6c6c6"/><path d="M1510 172.500 L1513.500 168.800 L1517 172.500" fill="none" stroke="#444" stroke-width="1.300"/><path d="M1510 823.500 L1513.500 827.200 L1517 823.500" fill="none" stroke="#444" stroke-width="1.300"/><path d="M1510 656.500h7M1510 658.500h7M1510 660.500h7" stroke="#555"/></svg>
</div>
</div>
<div id="strip" class="abs"></div>
<div id="status" class="abs"><span class="song" style="left:1px">Version:1.0.0.52</span><span class="song" style="right:2px">Current [XT2083_x_(Athena)_MB_Component_Location]</span></div>
</div>
</body>
</html>
